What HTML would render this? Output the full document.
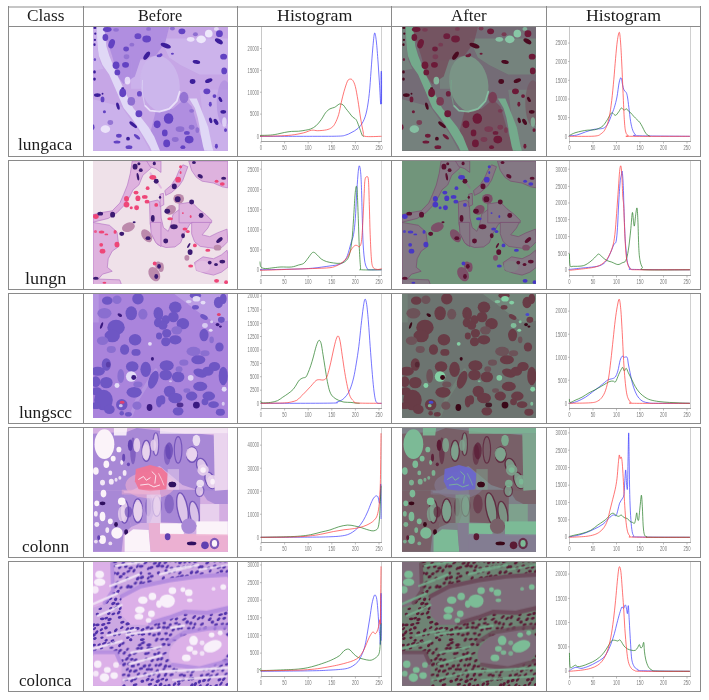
<!DOCTYPE html><html><head><meta charset="utf-8"><style>
*{margin:0;padding:0;box-sizing:border-box}
html,body{width:709px;height:700px;background:#fff;overflow:hidden}
body{position:relative;font-family:"Liberation Serif",serif;color:#1c1c1c}
.t{position:absolute;font-size:17px;line-height:1;white-space:nowrap;text-align:center}
.w{position:absolute;font-size:16.3px;line-height:1;white-space:nowrap;transform-origin:0 0}
svg{position:absolute;overflow:visible}
</style></head><body>
<svg width="709" height="700" viewBox="0 0 709 700" style="position:absolute;left:0;top:0;opacity:0.999"><g font-family="Liberation Sans, sans-serif" font-size="6.6" fill="#7a7a7a"><line x1="261.5" y1="27" x2="261.5" y2="141.5" stroke="#c8c8c8" stroke-width="1"/>
<line x1="381.5" y1="27" x2="381.5" y2="141.5" stroke="#d0d0d0" stroke-width="1"/>
<line x1="261.0" y1="141.5" x2="382.0" y2="141.5" stroke="#a0a0a0" stroke-width="1"/>
<line x1="261.00" y1="141.5" x2="261.00" y2="143.5" stroke="#909090" stroke-width="0.6"/>
<text x="259.85" y="149.90" textLength="2.30" lengthAdjust="spacingAndGlyphs">0</text>
<line x1="284.60" y1="141.5" x2="284.60" y2="143.5" stroke="#909090" stroke-width="0.6"/>
<text x="282.30" y="149.90" textLength="4.60" lengthAdjust="spacingAndGlyphs">50</text>
<line x1="308.20" y1="141.5" x2="308.20" y2="143.5" stroke="#909090" stroke-width="0.6"/>
<text x="304.75" y="149.90" textLength="6.90" lengthAdjust="spacingAndGlyphs">100</text>
<line x1="331.80" y1="141.5" x2="331.80" y2="143.5" stroke="#909090" stroke-width="0.6"/>
<text x="328.35" y="149.90" textLength="6.90" lengthAdjust="spacingAndGlyphs">150</text>
<line x1="355.40" y1="141.5" x2="355.40" y2="143.5" stroke="#909090" stroke-width="0.6"/>
<text x="351.95" y="149.90" textLength="6.90" lengthAdjust="spacingAndGlyphs">200</text>
<line x1="379.00" y1="141.5" x2="379.00" y2="143.5" stroke="#909090" stroke-width="0.6"/>
<text x="375.55" y="149.90" textLength="6.90" lengthAdjust="spacingAndGlyphs">250</text>
<line x1="260.0" y1="48.51" x2="261.5" y2="48.51" stroke="#909090" stroke-width="0.6"/>
<text x="247.60" y="50.81" textLength="11.50" lengthAdjust="spacingAndGlyphs">20000</text>
<line x1="260.0" y1="70.37" x2="261.5" y2="70.37" stroke="#909090" stroke-width="0.6"/>
<text x="247.60" y="72.67" textLength="11.50" lengthAdjust="spacingAndGlyphs">15000</text>
<line x1="260.0" y1="92.24" x2="261.5" y2="92.24" stroke="#909090" stroke-width="0.6"/>
<text x="247.60" y="94.54" textLength="11.50" lengthAdjust="spacingAndGlyphs">10000</text>
<line x1="260.0" y1="114.10" x2="261.5" y2="114.10" stroke="#909090" stroke-width="0.6"/>
<text x="249.90" y="116.40" textLength="9.20" lengthAdjust="spacingAndGlyphs">5000</text>
<line x1="260.0" y1="136.31" x2="261.5" y2="136.31" stroke="#909090" stroke-width="0.6"/>
<text x="256.80" y="138.61" textLength="2.30" lengthAdjust="spacingAndGlyphs">0</text>
<path d="M260.00,136.31 C268.74,136.31 299.35,136.34 312.47,136.31 C325.59,136.28 333.16,136.34 338.70,136.13 C344.24,135.93 343.66,135.64 345.70,135.08 C347.74,134.53 348.90,133.92 350.94,132.81 C352.99,131.70 355.90,130.33 357.94,128.44 C359.98,126.54 361.73,124.36 363.19,121.44 C364.65,118.53 365.67,115.61 366.69,110.95 C367.71,106.29 368.58,100.16 369.31,93.46 C370.04,86.76 370.47,78.30 371.06,70.72 C371.64,63.14 372.22,54.25 372.81,47.99 C373.39,41.72 373.97,34.29 374.56,33.12 C375.14,31.96 375.72,36.18 376.30,40.99 C376.89,45.80 377.53,54.98 378.05,61.98 C378.58,68.97 379.02,75.97 379.45,82.97 C379.89,89.96 380.41,102.20 380.68,103.95 C380.94,105.70 380.97,98.42 381.03,93.46 C381.09,88.50 380.94,77.43 381.03,74.22 C381.11,71.02 381.46,69.27 381.55,74.22 C381.64,79.18 381.55,99.00 381.55,103.95" fill="none" stroke="#3a3aff" stroke-width="0.7" stroke-linejoin="round"/>
<path d="M260.00,135.43 C261.75,135.38 267.58,135.32 270.49,135.08 C273.41,134.85 275.16,134.47 277.49,134.04 C279.82,133.60 282.15,132.90 284.49,132.46 C286.82,132.02 289.15,131.62 291.48,131.41 C293.81,131.21 296.14,131.44 298.48,131.24 C300.81,131.03 303.43,130.57 305.47,130.19 C307.51,129.81 308.97,129.69 310.72,128.96 C312.47,128.23 314.22,127.36 315.97,125.82 C317.72,124.27 319.61,121.88 321.21,119.69 C322.82,117.51 324.13,114.51 325.59,112.70 C327.04,110.89 328.50,109.72 329.96,108.85 C331.42,107.98 333.16,107.98 334.33,107.45 C335.50,106.93 336.08,106.29 336.95,105.70 C337.83,105.12 338.56,104.10 339.58,103.95 C340.60,103.81 342.05,104.10 343.07,104.83 C344.09,105.56 344.68,107.01 345.70,108.33 C346.72,109.64 348.03,111.24 349.20,112.70 C350.36,114.16 351.67,116.05 352.69,117.07 C353.71,118.09 354.59,118.09 355.32,118.82 C356.05,119.55 356.34,119.84 357.07,121.44 C357.80,123.05 358.82,126.11 359.69,128.44 C360.56,130.77 361.58,134.12 362.31,135.43 C363.04,136.75 363.77,136.16 364.06,136.31" fill="none" stroke="#217a21" stroke-width="0.7" stroke-linejoin="round"/>
<path d="M260.00,136.31 C262.91,136.25 272.24,136.16 277.49,135.96 C282.74,135.76 287.11,135.61 291.48,135.08 C295.85,134.56 300.37,133.63 303.72,132.81 C307.08,131.99 309.26,130.54 311.59,130.19 C313.93,129.84 315.24,130.77 317.72,130.71 C320.19,130.65 324.13,130.36 326.46,129.84 C328.79,129.31 330.25,128.67 331.71,127.56 C333.16,126.46 334.04,125.38 335.20,123.19 C336.37,121.01 337.68,117.94 338.70,114.45 C339.72,110.95 340.45,105.99 341.33,102.20 C342.20,98.42 342.93,95.21 343.95,91.71 C344.97,88.21 346.43,83.32 347.45,81.22 C348.47,79.12 349.20,79.26 350.07,79.12 C350.94,78.97 351.82,79.12 352.69,80.34 C353.57,81.57 354.44,83.11 355.32,86.46 C356.19,89.82 357.07,95.21 357.94,100.46 C358.82,105.70 359.69,112.70 360.56,117.94 C361.44,123.19 362.46,128.88 363.19,131.94 C363.92,135.00 361.88,135.58 364.94,136.31 C368.00,137.04 378.78,136.31 381.55,136.31" fill="none" stroke="#ff3a3a" stroke-width="0.7" stroke-linejoin="round"/>
<line x1="569.5" y1="27" x2="569.5" y2="141.5" stroke="#c8c8c8" stroke-width="1"/>
<line x1="690.5" y1="27" x2="690.5" y2="141.5" stroke="#d0d0d0" stroke-width="1"/>
<line x1="569.0" y1="141.5" x2="691.0" y2="141.5" stroke="#a0a0a0" stroke-width="1"/>
<line x1="569.50" y1="141.5" x2="569.50" y2="143.5" stroke="#909090" stroke-width="0.6"/>
<text x="568.35" y="149.90" textLength="2.30" lengthAdjust="spacingAndGlyphs">0</text>
<line x1="593.00" y1="141.5" x2="593.00" y2="143.5" stroke="#909090" stroke-width="0.6"/>
<text x="590.70" y="149.90" textLength="4.60" lengthAdjust="spacingAndGlyphs">50</text>
<line x1="616.50" y1="141.5" x2="616.50" y2="143.5" stroke="#909090" stroke-width="0.6"/>
<text x="613.05" y="149.90" textLength="6.90" lengthAdjust="spacingAndGlyphs">100</text>
<line x1="640.00" y1="141.5" x2="640.00" y2="143.5" stroke="#909090" stroke-width="0.6"/>
<text x="636.55" y="149.90" textLength="6.90" lengthAdjust="spacingAndGlyphs">150</text>
<line x1="663.50" y1="141.5" x2="663.50" y2="143.5" stroke="#909090" stroke-width="0.6"/>
<text x="660.05" y="149.90" textLength="6.90" lengthAdjust="spacingAndGlyphs">200</text>
<line x1="687.00" y1="141.5" x2="687.00" y2="143.5" stroke="#909090" stroke-width="0.6"/>
<text x="683.55" y="149.90" textLength="6.90" lengthAdjust="spacingAndGlyphs">250</text>
<line x1="568.0" y1="43.09" x2="569.5" y2="43.09" stroke="#909090" stroke-width="0.6"/>
<text x="555.60" y="45.39" textLength="11.50" lengthAdjust="spacingAndGlyphs">25000</text>
<line x1="568.0" y1="61.45" x2="569.5" y2="61.45" stroke="#909090" stroke-width="0.6"/>
<text x="555.60" y="63.75" textLength="11.50" lengthAdjust="spacingAndGlyphs">20000</text>
<line x1="568.0" y1="80.34" x2="569.5" y2="80.34" stroke="#909090" stroke-width="0.6"/>
<text x="555.60" y="82.64" textLength="11.50" lengthAdjust="spacingAndGlyphs">15000</text>
<line x1="568.0" y1="99.06" x2="569.5" y2="99.06" stroke="#909090" stroke-width="0.6"/>
<text x="555.60" y="101.36" textLength="11.50" lengthAdjust="spacingAndGlyphs">10000</text>
<line x1="568.0" y1="117.60" x2="569.5" y2="117.60" stroke="#909090" stroke-width="0.6"/>
<text x="557.90" y="119.90" textLength="9.20" lengthAdjust="spacingAndGlyphs">5000</text>
<line x1="568.0" y1="136.31" x2="569.5" y2="136.31" stroke="#909090" stroke-width="0.6"/>
<text x="564.80" y="138.61" textLength="2.30" lengthAdjust="spacingAndGlyphs">0</text>
<path d="M569.40,135.78 C570.62,135.67 574.06,135.73 576.74,135.08 C579.43,134.44 582.57,132.90 585.49,131.94 C588.40,130.97 591.76,129.84 594.23,129.31 C596.71,128.79 598.61,129.08 600.36,128.79 C602.10,128.50 603.42,128.50 604.73,127.56 C606.04,126.63 607.06,125.38 608.23,123.19 C609.39,121.01 610.70,117.07 611.72,114.45 C612.74,111.82 613.47,110.37 614.35,107.45 C615.22,104.54 616.18,101.04 616.97,96.96 C617.76,92.88 618.40,86.17 619.07,82.97 C619.74,79.76 620.41,77.43 620.99,77.72 C621.58,78.01 622.07,82.67 622.57,84.72 C623.06,86.76 623.35,88.65 623.97,89.96 C624.58,91.27 625.66,91.42 626.24,92.59 C626.82,93.75 627.03,94.48 627.46,96.96 C627.90,99.44 628.34,103.37 628.86,107.45 C629.39,111.53 629.97,117.65 630.61,121.44 C631.25,125.23 631.92,128.00 632.71,130.19 C633.50,132.37 634.46,133.63 635.33,134.56 C636.21,135.49 628.86,135.49 637.96,135.78 C647.05,136.08 681.24,136.22 689.90,136.31" fill="none" stroke="#3a3aff" stroke-width="0.7" stroke-linejoin="round"/>
<path d="M569.40,135.43 C570.33,135.00 572.90,133.54 575.00,132.81 C577.09,132.08 579.95,131.50 581.99,131.06 C584.03,130.62 585.20,130.39 587.24,130.19 C589.28,129.98 592.34,130.13 594.23,129.84 C596.13,129.55 597.15,129.11 598.61,128.44 C600.06,127.77 601.52,127.27 602.98,125.82 C604.44,124.36 606.04,121.73 607.35,119.69 C608.66,117.65 609.97,114.68 610.85,113.57 C611.72,112.46 611.81,112.76 612.60,113.05 C613.39,113.34 614.55,115.53 615.57,115.32 C616.59,115.12 617.76,113.05 618.72,111.82 C619.68,110.60 620.47,108.27 621.34,107.98 C622.22,107.68 623.09,109.93 623.97,110.07 C624.84,110.22 625.86,108.70 626.59,108.85 C627.32,109.00 627.61,110.25 628.34,110.95 C629.07,111.65 630.09,112.17 630.96,113.05 C631.84,113.92 632.57,115.09 633.59,116.20 C634.61,117.30 636.06,118.67 637.08,119.69 C638.10,120.71 638.83,121.15 639.71,122.32 C640.58,123.48 641.46,125.09 642.33,126.69 C643.20,128.29 644.08,130.54 644.95,131.94 C645.83,133.34 646.70,134.36 647.58,135.08 C648.45,135.81 649.76,136.10 650.20,136.31" fill="none" stroke="#217a21" stroke-width="0.7" stroke-linejoin="round"/>
<path d="M569.40,136.31 C573.54,136.28 588.93,136.57 594.23,136.13 C599.54,135.70 599.34,134.97 601.23,133.69 C603.12,132.40 604.29,131.06 605.60,128.44 C606.91,125.82 608.08,122.61 609.10,117.94 C610.12,113.28 610.94,106.87 611.72,100.46 C612.51,94.04 613.18,86.46 613.82,79.47 C614.46,72.47 614.99,64.89 615.57,58.48 C616.15,52.07 616.71,45.36 617.32,40.99 C617.93,36.62 618.72,32.25 619.24,32.25 C619.77,32.25 620.06,36.04 620.47,40.99 C620.88,45.95 621.26,53.23 621.69,61.98 C622.13,70.72 622.65,83.84 623.09,93.46 C623.53,103.08 623.88,113.28 624.32,119.69 C624.75,126.11 625.04,129.25 625.72,131.94 C626.39,134.62 627.46,135.06 628.34,135.78 C629.21,136.51 620.70,136.22 630.96,136.31 C641.22,136.40 680.08,136.31 689.90,136.31" fill="none" stroke="#ff3a3a" stroke-width="0.7" stroke-linejoin="round"/>
<line x1="261.5" y1="161" x2="261.5" y2="275.5" stroke="#c8c8c8" stroke-width="1"/>
<line x1="381.5" y1="161" x2="381.5" y2="275.5" stroke="#d0d0d0" stroke-width="1"/>
<line x1="261.0" y1="275.5" x2="382.0" y2="275.5" stroke="#a0a0a0" stroke-width="1"/>
<line x1="261.00" y1="275.5" x2="261.00" y2="277.5" stroke="#909090" stroke-width="0.6"/>
<text x="259.85" y="283.90" textLength="2.30" lengthAdjust="spacingAndGlyphs">0</text>
<line x1="284.60" y1="275.5" x2="284.60" y2="277.5" stroke="#909090" stroke-width="0.6"/>
<text x="282.30" y="283.90" textLength="4.60" lengthAdjust="spacingAndGlyphs">50</text>
<line x1="308.20" y1="275.5" x2="308.20" y2="277.5" stroke="#909090" stroke-width="0.6"/>
<text x="304.75" y="283.90" textLength="6.90" lengthAdjust="spacingAndGlyphs">100</text>
<line x1="331.80" y1="275.5" x2="331.80" y2="277.5" stroke="#909090" stroke-width="0.6"/>
<text x="328.35" y="283.90" textLength="6.90" lengthAdjust="spacingAndGlyphs">150</text>
<line x1="355.40" y1="275.5" x2="355.40" y2="277.5" stroke="#909090" stroke-width="0.6"/>
<text x="351.95" y="283.90" textLength="6.90" lengthAdjust="spacingAndGlyphs">200</text>
<line x1="379.00" y1="275.5" x2="379.00" y2="277.5" stroke="#909090" stroke-width="0.6"/>
<text x="375.55" y="283.90" textLength="6.90" lengthAdjust="spacingAndGlyphs">250</text>
<line x1="260.0" y1="169.22" x2="261.5" y2="169.22" stroke="#909090" stroke-width="0.6"/>
<text x="247.60" y="171.52" textLength="11.50" lengthAdjust="spacingAndGlyphs">25000</text>
<line x1="260.0" y1="189.51" x2="261.5" y2="189.51" stroke="#909090" stroke-width="0.6"/>
<text x="247.60" y="191.81" textLength="11.50" lengthAdjust="spacingAndGlyphs">20000</text>
<line x1="260.0" y1="209.62" x2="261.5" y2="209.62" stroke="#909090" stroke-width="0.6"/>
<text x="247.60" y="211.92" textLength="11.50" lengthAdjust="spacingAndGlyphs">15000</text>
<line x1="260.0" y1="229.73" x2="261.5" y2="229.73" stroke="#909090" stroke-width="0.6"/>
<text x="247.60" y="232.03" textLength="11.50" lengthAdjust="spacingAndGlyphs">10000</text>
<line x1="260.0" y1="249.85" x2="261.5" y2="249.85" stroke="#909090" stroke-width="0.6"/>
<text x="249.90" y="252.15" textLength="9.20" lengthAdjust="spacingAndGlyphs">5000</text>
<line x1="260.0" y1="269.43" x2="261.5" y2="269.43" stroke="#909090" stroke-width="0.6"/>
<text x="256.80" y="271.73" textLength="2.30" lengthAdjust="spacingAndGlyphs">0</text>
<path d="M260.00,269.78 C265.83,269.67 286.23,269.35 294.98,269.08 C303.72,268.82 306.64,268.73 312.47,268.21 C318.30,267.69 325.59,266.55 329.96,265.94 C334.33,265.32 336.37,265.27 338.70,264.54 C341.03,263.81 342.49,263.08 343.95,261.56 C345.41,260.05 346.28,258.50 347.45,255.44 C348.61,252.38 349.92,246.70 350.94,243.20 C351.97,239.70 352.84,238.54 353.57,234.46 C354.30,230.37 354.82,225.13 355.32,218.72 C355.81,212.30 356.10,203.27 356.54,195.98 C356.98,188.69 357.50,180.01 357.94,174.99 C358.38,169.98 358.73,166.48 359.17,165.90 C359.60,165.31 360.19,167.94 360.56,171.49 C360.94,175.05 361.15,179.36 361.44,187.23 C361.73,195.10 362.02,209.10 362.31,218.72 C362.60,228.33 362.75,237.66 363.19,244.95 C363.62,252.24 364.21,258.42 364.94,262.44 C365.67,266.46 366.83,267.86 367.56,269.08 C368.29,270.31 366.98,269.67 369.31,269.78 C371.64,269.90 379.51,269.78 381.55,269.78" fill="none" stroke="#3a3aff" stroke-width="0.7" stroke-linejoin="round"/>
<path d="M260.00,261.56 C260.15,262.44 260.00,265.65 260.87,266.81 C261.75,267.98 263.06,268.41 265.25,268.56 C267.43,268.71 271.37,267.95 273.99,267.69 C276.61,267.42 278.07,267.10 280.99,266.99 C283.90,266.87 288.57,267.31 291.48,266.99 C294.40,266.67 296.44,265.67 298.48,265.06 C300.52,264.45 302.12,264.48 303.72,263.31 C305.33,262.15 306.78,259.73 308.10,258.07 C309.41,256.40 310.63,254.31 311.59,253.34 C312.56,252.38 312.99,252.09 313.87,252.29 C314.74,252.50 315.62,253.46 316.84,254.57 C318.06,255.68 319.61,257.77 321.21,258.94 C322.82,260.11 324.42,260.89 326.46,261.56 C328.50,262.23 331.12,262.67 333.46,262.96 C335.79,263.25 338.41,263.63 340.45,263.31 C342.49,262.99 344.24,262.35 345.70,261.04 C347.16,259.73 348.18,258.71 349.20,255.44 C350.22,252.18 351.09,247.57 351.82,241.45 C352.55,235.33 353.04,226.29 353.57,218.72 C354.09,211.14 354.53,201.37 354.97,195.98 C355.40,190.59 355.81,186.94 356.19,186.36 C356.57,185.78 356.89,187.09 357.24,192.48 C357.59,197.87 357.94,209.39 358.29,218.72 C358.64,228.04 358.96,240.29 359.34,248.45 C359.72,256.61 360.21,264.13 360.56,267.69 C360.91,271.24 357.94,269.43 361.44,269.78 C364.94,270.13 378.20,269.78 381.55,269.78" fill="none" stroke="#217a21" stroke-width="0.7" stroke-linejoin="round"/>
<path d="M260.00,270.31 C262.91,270.22 271.66,269.99 277.49,269.78 C283.32,269.58 289.15,269.29 294.98,269.08 C300.81,268.88 306.64,268.79 312.47,268.56 C318.30,268.33 325.88,268.18 329.96,267.69 C334.04,267.19 334.91,266.46 336.95,265.59 C338.99,264.71 340.45,263.84 342.20,262.44 C343.95,261.04 345.99,259.23 347.45,257.19 C348.90,255.15 349.78,252.09 350.94,250.20 C352.11,248.30 353.42,246.61 354.44,245.82 C355.46,245.04 356.25,245.33 357.07,245.47 C357.88,245.62 358.61,247.37 359.34,246.70 C360.07,246.03 360.86,245.53 361.44,241.45 C362.02,237.37 362.40,229.79 362.84,222.21 C363.28,214.63 363.71,202.97 364.06,195.98 C364.41,188.98 364.50,183.44 364.94,180.24 C365.37,177.03 366.10,176.74 366.69,176.74 C367.27,176.74 368.00,175.57 368.43,180.24 C368.87,184.90 369.02,195.69 369.31,204.72 C369.60,213.76 369.83,225.42 370.18,234.46 C370.53,243.49 370.97,253.55 371.41,258.94 C371.84,264.33 372.14,265.12 372.81,266.81 C373.48,268.50 374.41,268.65 375.43,269.08 C376.45,269.52 377.91,269.52 378.93,269.43 C379.95,269.35 381.11,268.71 381.55,268.56" fill="none" stroke="#ff3a3a" stroke-width="0.7" stroke-linejoin="round"/>
<line x1="569.5" y1="161" x2="569.5" y2="275.5" stroke="#c8c8c8" stroke-width="1"/>
<line x1="690.5" y1="161" x2="690.5" y2="275.5" stroke="#d0d0d0" stroke-width="1"/>
<line x1="569.0" y1="275.5" x2="691.0" y2="275.5" stroke="#a0a0a0" stroke-width="1"/>
<line x1="569.50" y1="275.5" x2="569.50" y2="277.5" stroke="#909090" stroke-width="0.6"/>
<text x="568.35" y="283.90" textLength="2.30" lengthAdjust="spacingAndGlyphs">0</text>
<line x1="593.00" y1="275.5" x2="593.00" y2="277.5" stroke="#909090" stroke-width="0.6"/>
<text x="590.70" y="283.90" textLength="4.60" lengthAdjust="spacingAndGlyphs">50</text>
<line x1="616.50" y1="275.5" x2="616.50" y2="277.5" stroke="#909090" stroke-width="0.6"/>
<text x="613.05" y="283.90" textLength="6.90" lengthAdjust="spacingAndGlyphs">100</text>
<line x1="640.00" y1="275.5" x2="640.00" y2="277.5" stroke="#909090" stroke-width="0.6"/>
<text x="636.55" y="283.90" textLength="6.90" lengthAdjust="spacingAndGlyphs">150</text>
<line x1="663.50" y1="275.5" x2="663.50" y2="277.5" stroke="#909090" stroke-width="0.6"/>
<text x="660.05" y="283.90" textLength="6.90" lengthAdjust="spacingAndGlyphs">200</text>
<line x1="687.00" y1="275.5" x2="687.00" y2="277.5" stroke="#909090" stroke-width="0.6"/>
<text x="683.55" y="283.90" textLength="6.90" lengthAdjust="spacingAndGlyphs">250</text>
<line x1="568.0" y1="169.22" x2="569.5" y2="169.22" stroke="#909090" stroke-width="0.6"/>
<text x="555.60" y="171.52" textLength="11.50" lengthAdjust="spacingAndGlyphs">30000</text>
<line x1="568.0" y1="186.36" x2="569.5" y2="186.36" stroke="#909090" stroke-width="0.6"/>
<text x="555.60" y="188.66" textLength="11.50" lengthAdjust="spacingAndGlyphs">25000</text>
<line x1="568.0" y1="202.97" x2="569.5" y2="202.97" stroke="#909090" stroke-width="0.6"/>
<text x="555.60" y="205.27" textLength="11.50" lengthAdjust="spacingAndGlyphs">20000</text>
<line x1="568.0" y1="219.59" x2="569.5" y2="219.59" stroke="#909090" stroke-width="0.6"/>
<text x="555.60" y="221.89" textLength="11.50" lengthAdjust="spacingAndGlyphs">15000</text>
<line x1="568.0" y1="236.55" x2="569.5" y2="236.55" stroke="#909090" stroke-width="0.6"/>
<text x="555.60" y="238.85" textLength="11.50" lengthAdjust="spacingAndGlyphs">10000</text>
<line x1="568.0" y1="253.34" x2="569.5" y2="253.34" stroke="#909090" stroke-width="0.6"/>
<text x="557.90" y="255.64" textLength="9.20" lengthAdjust="spacingAndGlyphs">5000</text>
<line x1="568.0" y1="269.78" x2="569.5" y2="269.78" stroke="#909090" stroke-width="0.6"/>
<text x="564.80" y="272.08" textLength="2.30" lengthAdjust="spacingAndGlyphs">0</text>
<path d="M569.40,269.43 C571.50,269.20 577.85,268.47 581.99,268.04 C586.13,267.60 591.03,267.31 594.23,266.81 C597.44,266.32 599.19,266.08 601.23,265.06 C603.27,264.04 604.87,262.88 606.48,260.69 C608.08,258.50 609.62,254.63 610.85,251.94 C612.07,249.26 612.95,246.35 613.82,244.60 C614.70,242.85 615.48,244.31 616.10,241.45 C616.71,238.59 617.06,233.87 617.50,227.46 C617.93,221.05 618.28,210.55 618.72,202.97 C619.16,195.40 619.68,186.65 620.12,181.99 C620.56,177.32 620.99,176.74 621.34,174.99 C621.69,173.24 621.90,169.74 622.22,171.49 C622.54,173.24 622.98,179.36 623.27,185.49 C623.56,191.61 623.67,199.77 623.97,208.22 C624.26,216.67 624.64,228.92 625.02,236.20 C625.39,243.49 625.83,247.57 626.24,251.94 C626.65,256.32 626.82,259.76 627.46,262.44 C628.11,265.12 628.92,266.87 630.09,268.04 C631.25,269.20 624.49,269.14 634.46,269.43 C644.43,269.73 680.66,269.73 689.90,269.78" fill="none" stroke="#3a3aff" stroke-width="0.7" stroke-linejoin="round"/>
<path d="M569.40,253.69 C569.52,255.68 569.46,263.49 570.10,265.59 C570.74,267.69 571.26,266.23 573.25,266.29 C575.23,266.34 579.66,266.34 581.99,265.94 C584.32,265.53 585.49,264.86 587.24,263.84 C588.99,262.82 591.03,261.07 592.49,259.82 C593.94,258.56 594.96,257.28 595.98,256.32 C597.00,255.36 597.59,253.96 598.61,254.04 C599.63,254.13 600.79,255.79 602.10,256.84 C603.42,257.89 604.87,259.47 606.48,260.34 C608.08,261.21 609.83,261.39 611.72,262.09 C613.62,262.79 616.10,264.42 617.84,264.54 C619.59,264.65 620.91,263.43 622.22,262.79 C623.53,262.15 624.69,262.79 625.72,260.69 C626.74,258.59 627.52,255.15 628.34,250.20 C629.15,245.24 629.94,237.22 630.61,230.96 C631.28,224.69 631.87,214.05 632.36,212.59 C632.86,211.14 633.24,220.03 633.59,222.21 C633.94,224.40 634.08,227.17 634.46,225.71 C634.84,224.25 635.42,216.38 635.86,213.47 C636.30,210.55 636.73,206.76 637.08,208.22 C637.43,209.68 637.67,215.51 637.96,222.21 C638.25,228.92 638.48,242.03 638.83,248.45 C639.18,254.86 639.47,257.54 640.06,260.69 C640.64,263.84 641.51,265.82 642.33,267.34 C643.15,268.85 637.02,269.38 644.95,269.78 C652.88,270.19 682.41,269.78 689.90,269.78" fill="none" stroke="#217a21" stroke-width="0.7" stroke-linejoin="round"/>
<path d="M569.40,270.31 C572.08,270.02 581.06,269.14 585.49,268.56 C589.92,267.98 593.07,267.69 595.98,266.81 C598.90,265.94 600.94,264.92 602.98,263.31 C605.02,261.71 606.62,259.96 608.23,257.19 C609.83,254.42 611.49,250.49 612.60,246.70 C613.71,242.91 614.20,239.99 614.87,234.46 C615.54,228.92 616.04,221.05 616.62,213.47 C617.20,205.89 617.87,195.98 618.37,188.98 C618.87,181.99 619.19,175.34 619.59,171.49 C620.00,167.65 620.44,165.31 620.82,165.90 C621.20,166.48 621.55,169.98 621.87,174.99 C622.19,180.01 622.45,191.02 622.74,195.98 C623.03,200.93 623.35,200.35 623.62,204.72 C623.88,209.10 624.02,215.51 624.32,222.21 C624.61,228.92 624.99,238.83 625.37,244.95 C625.74,251.07 626.09,255.44 626.59,258.94 C627.09,262.44 627.61,264.25 628.34,265.94 C629.07,267.63 629.36,268.44 630.96,269.08 C632.57,269.73 628.13,269.67 637.96,269.78 C647.78,269.90 681.24,269.78 689.90,269.78" fill="none" stroke="#ff3a3a" stroke-width="0.7" stroke-linejoin="round"/>
<line x1="261.5" y1="294" x2="261.5" y2="408.5" stroke="#c8c8c8" stroke-width="1"/>
<line x1="381.5" y1="294" x2="381.5" y2="408.5" stroke="#d0d0d0" stroke-width="1"/>
<line x1="261.0" y1="408.5" x2="382.0" y2="408.5" stroke="#a0a0a0" stroke-width="1"/>
<line x1="261.00" y1="408.5" x2="261.00" y2="410.5" stroke="#909090" stroke-width="0.6"/>
<text x="259.85" y="416.90" textLength="2.30" lengthAdjust="spacingAndGlyphs">0</text>
<line x1="284.60" y1="408.5" x2="284.60" y2="410.5" stroke="#909090" stroke-width="0.6"/>
<text x="282.30" y="416.90" textLength="4.60" lengthAdjust="spacingAndGlyphs">50</text>
<line x1="308.20" y1="408.5" x2="308.20" y2="410.5" stroke="#909090" stroke-width="0.6"/>
<text x="304.75" y="416.90" textLength="6.90" lengthAdjust="spacingAndGlyphs">100</text>
<line x1="331.80" y1="408.5" x2="331.80" y2="410.5" stroke="#909090" stroke-width="0.6"/>
<text x="328.35" y="416.90" textLength="6.90" lengthAdjust="spacingAndGlyphs">150</text>
<line x1="355.40" y1="408.5" x2="355.40" y2="410.5" stroke="#909090" stroke-width="0.6"/>
<text x="351.95" y="416.90" textLength="6.90" lengthAdjust="spacingAndGlyphs">200</text>
<line x1="379.00" y1="408.5" x2="379.00" y2="410.5" stroke="#909090" stroke-width="0.6"/>
<text x="375.55" y="416.90" textLength="6.90" lengthAdjust="spacingAndGlyphs">250</text>
<line x1="260.0" y1="296.10" x2="261.5" y2="296.10" stroke="#909090" stroke-width="0.6"/>
<text x="247.60" y="298.40" textLength="11.50" lengthAdjust="spacingAndGlyphs">20000</text>
<line x1="260.0" y1="309.74" x2="261.5" y2="309.74" stroke="#909090" stroke-width="0.6"/>
<text x="247.60" y="312.04" textLength="11.50" lengthAdjust="spacingAndGlyphs">17500</text>
<line x1="260.0" y1="323.38" x2="261.5" y2="323.38" stroke="#909090" stroke-width="0.6"/>
<text x="247.60" y="325.68" textLength="11.50" lengthAdjust="spacingAndGlyphs">15000</text>
<line x1="260.0" y1="336.50" x2="261.5" y2="336.50" stroke="#909090" stroke-width="0.6"/>
<text x="247.60" y="338.80" textLength="11.50" lengthAdjust="spacingAndGlyphs">12500</text>
<line x1="260.0" y1="349.97" x2="261.5" y2="349.97" stroke="#909090" stroke-width="0.6"/>
<text x="247.60" y="352.27" textLength="11.50" lengthAdjust="spacingAndGlyphs">10000</text>
<line x1="260.0" y1="363.43" x2="261.5" y2="363.43" stroke="#909090" stroke-width="0.6"/>
<text x="249.90" y="365.73" textLength="9.20" lengthAdjust="spacingAndGlyphs">7500</text>
<line x1="260.0" y1="376.72" x2="261.5" y2="376.72" stroke="#909090" stroke-width="0.6"/>
<text x="249.90" y="379.02" textLength="9.20" lengthAdjust="spacingAndGlyphs">5000</text>
<line x1="260.0" y1="390.19" x2="261.5" y2="390.19" stroke="#909090" stroke-width="0.6"/>
<text x="249.90" y="392.49" textLength="9.20" lengthAdjust="spacingAndGlyphs">2500</text>
<line x1="260.0" y1="403.31" x2="261.5" y2="403.31" stroke="#909090" stroke-width="0.6"/>
<text x="256.80" y="405.61" textLength="2.30" lengthAdjust="spacingAndGlyphs">0</text>
<path d="M260.87,403.31 C272.39,403.28 317.28,403.34 329.96,403.13 C342.64,402.93 334.91,402.64 336.95,402.08 C338.99,401.53 340.60,400.92 342.20,399.81 C343.80,398.70 345.26,397.19 346.57,395.44 C347.88,393.69 348.90,392.23 350.07,389.32 C351.24,386.40 352.55,382.18 353.57,377.95 C354.59,373.72 355.32,369.20 356.19,363.96 C357.07,358.71 358.00,352.88 358.82,346.47 C359.63,340.06 360.36,331.89 361.09,325.48 C361.82,319.07 362.55,312.36 363.19,307.99 C363.83,303.62 364.35,299.83 364.94,299.25 C365.52,298.66 366.10,300.70 366.69,304.49 C367.27,308.28 367.85,314.99 368.43,321.98 C369.02,328.98 369.60,338.60 370.18,346.47 C370.77,354.34 371.35,362.21 371.93,369.20 C372.52,376.20 373.10,383.34 373.68,388.44 C374.26,393.54 374.79,397.36 375.43,399.81 C376.07,402.26 376.51,402.55 377.53,403.13 C378.55,403.72 380.88,403.28 381.55,403.31" fill="none" stroke="#3a3aff" stroke-width="0.7" stroke-linejoin="round"/>
<path d="M260.87,400.69 C261.02,401.04 260.15,402.49 261.75,402.78 C263.35,403.08 267.87,402.78 270.49,402.43 C273.12,402.08 275.45,401.56 277.49,400.69 C279.53,399.81 280.99,398.35 282.74,397.19 C284.49,396.02 286.23,395.00 287.98,393.69 C289.73,392.38 291.77,390.92 293.23,389.32 C294.69,387.71 295.71,385.62 296.73,384.07 C297.75,382.53 298.33,381.07 299.35,380.05 C300.37,379.03 301.77,378.44 302.85,377.95 C303.93,377.45 304.95,377.95 305.82,377.07 C306.70,376.20 307.28,374.60 308.10,372.70 C308.91,370.81 309.84,368.33 310.72,365.71 C311.59,363.08 312.53,359.88 313.34,356.96 C314.16,354.05 314.89,350.69 315.62,348.22 C316.35,345.74 317.07,343.41 317.72,342.10 C318.36,340.78 318.88,340.06 319.46,340.35 C320.05,340.64 320.63,341.51 321.21,343.84 C321.80,346.18 322.32,350.40 322.96,354.34 C323.60,358.27 324.33,362.94 325.06,367.46 C325.79,371.97 326.52,377.37 327.33,381.45 C328.15,385.53 328.94,389.32 329.96,391.94 C330.98,394.56 332.00,395.79 333.46,397.19 C334.91,398.59 336.95,399.52 338.70,400.34 C340.45,401.15 341.91,401.73 343.95,402.08 C345.99,402.43 348.90,402.26 350.94,402.43 C352.99,402.61 354.73,402.99 356.19,403.13 C357.65,403.28 359.11,403.28 359.69,403.31" fill="none" stroke="#217a21" stroke-width="0.7" stroke-linejoin="round"/>
<path d="M260.87,403.31 C263.64,403.28 273.26,403.22 277.49,403.13 C281.72,403.05 283.90,402.99 286.23,402.78 C288.57,402.58 289.73,402.32 291.48,401.91 C293.23,401.50 295.27,401.12 296.73,400.34 C298.19,399.55 298.77,398.59 300.23,397.19 C301.68,395.79 303.72,393.75 305.47,391.94 C307.22,390.13 308.97,388.24 310.72,386.34 C312.47,384.45 314.51,381.68 315.97,380.57 C317.42,379.46 318.30,379.79 319.46,379.70 C320.63,379.61 321.85,380.28 322.96,380.05 C324.07,379.81 325.24,379.52 326.11,378.30 C326.98,377.07 327.42,375.38 328.21,372.70 C329.00,370.02 329.96,366.00 330.83,362.21 C331.71,358.42 332.58,353.76 333.46,349.97 C334.33,346.18 335.29,341.80 336.08,339.47 C336.87,337.14 337.51,335.68 338.18,335.97 C338.85,336.27 339.43,338.02 340.10,341.22 C340.77,344.43 341.41,349.97 342.20,355.21 C342.99,360.46 343.95,367.46 344.82,372.70 C345.70,377.95 346.57,382.76 347.45,386.69 C348.32,390.63 349.05,393.92 350.07,396.31 C351.09,398.70 352.40,399.93 353.57,401.04 C354.73,402.14 352.40,402.58 357.07,402.96 C361.73,403.34 377.47,403.25 381.55,403.31" fill="none" stroke="#ff3a3a" stroke-width="0.7" stroke-linejoin="round"/>
<line x1="569.5" y1="294" x2="569.5" y2="408.5" stroke="#c8c8c8" stroke-width="1"/>
<line x1="690.5" y1="294" x2="690.5" y2="408.5" stroke="#d0d0d0" stroke-width="1"/>
<line x1="569.0" y1="408.5" x2="691.0" y2="408.5" stroke="#a0a0a0" stroke-width="1"/>
<line x1="569.50" y1="408.5" x2="569.50" y2="410.5" stroke="#909090" stroke-width="0.6"/>
<text x="568.35" y="416.90" textLength="2.30" lengthAdjust="spacingAndGlyphs">0</text>
<line x1="593.00" y1="408.5" x2="593.00" y2="410.5" stroke="#909090" stroke-width="0.6"/>
<text x="590.70" y="416.90" textLength="4.60" lengthAdjust="spacingAndGlyphs">50</text>
<line x1="616.50" y1="408.5" x2="616.50" y2="410.5" stroke="#909090" stroke-width="0.6"/>
<text x="613.05" y="416.90" textLength="6.90" lengthAdjust="spacingAndGlyphs">100</text>
<line x1="640.00" y1="408.5" x2="640.00" y2="410.5" stroke="#909090" stroke-width="0.6"/>
<text x="636.55" y="416.90" textLength="6.90" lengthAdjust="spacingAndGlyphs">150</text>
<line x1="663.50" y1="408.5" x2="663.50" y2="410.5" stroke="#909090" stroke-width="0.6"/>
<text x="660.05" y="416.90" textLength="6.90" lengthAdjust="spacingAndGlyphs">200</text>
<line x1="687.00" y1="408.5" x2="687.00" y2="410.5" stroke="#909090" stroke-width="0.6"/>
<text x="683.55" y="416.90" textLength="6.90" lengthAdjust="spacingAndGlyphs">250</text>
<line x1="568.0" y1="311.14" x2="569.5" y2="311.14" stroke="#909090" stroke-width="0.6"/>
<text x="555.60" y="313.44" textLength="11.50" lengthAdjust="spacingAndGlyphs">20000</text>
<line x1="568.0" y1="334.23" x2="569.5" y2="334.23" stroke="#909090" stroke-width="0.6"/>
<text x="555.60" y="336.53" textLength="11.50" lengthAdjust="spacingAndGlyphs">15000</text>
<line x1="568.0" y1="357.31" x2="569.5" y2="357.31" stroke="#909090" stroke-width="0.6"/>
<text x="555.60" y="359.61" textLength="11.50" lengthAdjust="spacingAndGlyphs">10000</text>
<line x1="568.0" y1="380.22" x2="569.5" y2="380.22" stroke="#909090" stroke-width="0.6"/>
<text x="557.90" y="382.52" textLength="9.20" lengthAdjust="spacingAndGlyphs">5000</text>
<line x1="568.0" y1="403.31" x2="569.5" y2="403.31" stroke="#909090" stroke-width="0.6"/>
<text x="564.80" y="405.61" textLength="2.30" lengthAdjust="spacingAndGlyphs">0</text>
<path d="M569.40,403.31 C570.62,403.02 574.06,402.58 576.74,401.56 C579.43,400.54 582.87,398.79 585.49,397.19 C588.11,395.58 590.15,393.69 592.49,391.94 C594.82,390.19 597.44,388.30 599.48,386.69 C601.52,385.09 603.27,383.49 604.73,382.32 C606.19,381.16 607.06,380.28 608.23,379.70 C609.39,379.12 610.56,379.26 611.72,378.82 C612.89,378.39 614.20,378.39 615.22,377.07 C616.24,375.76 617.03,373.72 617.84,370.95 C618.66,368.18 619.39,362.91 620.12,360.46 C620.85,358.01 621.58,356.79 622.22,356.26 C622.86,355.74 623.15,357.14 623.97,357.31 C624.78,357.49 626.39,356.20 627.11,357.31 C627.84,358.42 627.84,361.39 628.34,363.96 C628.83,366.52 629.42,369.50 630.09,372.70 C630.76,375.91 631.49,379.99 632.36,383.20 C633.24,386.40 634.26,389.46 635.33,391.94 C636.41,394.42 637.52,396.46 638.83,398.06 C640.14,399.67 641.60,400.77 643.20,401.56 C644.81,402.35 646.41,402.49 648.45,402.78 C650.49,403.08 648.54,403.22 655.45,403.31 C662.36,403.40 684.16,403.31 689.90,403.31" fill="none" stroke="#3a3aff" stroke-width="0.7" stroke-linejoin="round"/>
<path d="M569.40,398.94 C569.52,399.52 569.17,402.20 570.10,402.43 C571.03,402.67 573.01,401.21 575.00,400.34 C576.98,399.46 579.66,398.44 581.99,397.19 C584.32,395.93 586.66,394.13 588.99,392.82 C591.32,391.50 593.94,390.40 595.98,389.32 C598.02,388.24 599.48,387.36 601.23,386.34 C602.98,385.32 605.02,384.01 606.48,383.20 C607.93,382.38 608.87,381.80 609.97,381.45 C611.08,381.10 612.19,381.04 613.12,381.10 C614.06,381.16 614.64,382.90 615.57,381.80 C616.50,380.69 617.76,376.55 618.72,374.45 C619.68,372.35 620.67,370.37 621.34,369.20 C622.01,368.04 622.25,367.16 622.74,367.46 C623.24,367.75 623.73,370.81 624.32,370.95 C624.90,371.10 625.57,368.04 626.24,368.33 C626.91,368.62 627.41,370.81 628.34,372.70 C629.27,374.60 630.67,377.37 631.84,379.70 C633.00,382.03 634.02,384.51 635.33,386.69 C636.65,388.88 638.10,391.07 639.71,392.82 C641.31,394.56 643.20,396.02 644.95,397.19 C646.70,398.35 647.87,399.08 650.20,399.81 C652.53,400.54 655.74,401.12 658.94,401.56 C662.15,402.00 665.94,402.20 669.44,402.43 C672.94,402.67 676.52,402.81 679.93,402.96 C683.34,403.10 688.24,403.25 689.90,403.31" fill="none" stroke="#217a21" stroke-width="0.7" stroke-linejoin="round"/>
<path d="M569.40,403.31 C572.96,403.22 586.01,403.16 590.74,402.78 C595.46,402.41 595.84,401.97 597.73,401.04 C599.63,400.10 600.79,398.99 602.10,397.19 C603.42,395.38 604.52,393.40 605.60,390.19 C606.68,386.99 607.70,382.90 608.58,377.95 C609.45,372.99 610.09,366.87 610.85,360.46 C611.61,354.05 612.39,346.18 613.12,339.47 C613.85,332.77 614.52,325.77 615.22,320.23 C615.92,314.70 616.65,309.74 617.32,306.24 C617.99,302.74 618.66,298.66 619.24,299.25 C619.83,299.83 620.32,304.20 620.82,309.74 C621.31,315.28 621.75,324.02 622.22,332.48 C622.68,340.93 623.15,352.59 623.62,360.46 C624.08,368.33 624.52,374.31 625.02,379.70 C625.51,385.09 626.04,389.61 626.59,392.82 C627.14,396.02 627.61,397.33 628.34,398.94 C629.07,400.54 629.94,401.71 630.96,402.43 C631.98,403.16 624.64,403.16 634.46,403.31 C644.28,403.45 680.66,403.31 689.90,403.31" fill="none" stroke="#ff3a3a" stroke-width="0.7" stroke-linejoin="round"/>
<line x1="261.5" y1="428" x2="261.5" y2="542.5" stroke="#c8c8c8" stroke-width="1"/>
<line x1="381.5" y1="428" x2="381.5" y2="542.5" stroke="#d0d0d0" stroke-width="1"/>
<line x1="261.0" y1="542.5" x2="382.0" y2="542.5" stroke="#a0a0a0" stroke-width="1"/>
<line x1="261.00" y1="542.5" x2="261.00" y2="544.5" stroke="#909090" stroke-width="0.6"/>
<text x="259.85" y="550.90" textLength="2.30" lengthAdjust="spacingAndGlyphs">0</text>
<line x1="284.60" y1="542.5" x2="284.60" y2="544.5" stroke="#909090" stroke-width="0.6"/>
<text x="282.30" y="550.90" textLength="4.60" lengthAdjust="spacingAndGlyphs">50</text>
<line x1="308.20" y1="542.5" x2="308.20" y2="544.5" stroke="#909090" stroke-width="0.6"/>
<text x="304.75" y="550.90" textLength="6.90" lengthAdjust="spacingAndGlyphs">100</text>
<line x1="331.80" y1="542.5" x2="331.80" y2="544.5" stroke="#909090" stroke-width="0.6"/>
<text x="328.35" y="550.90" textLength="6.90" lengthAdjust="spacingAndGlyphs">150</text>
<line x1="355.40" y1="542.5" x2="355.40" y2="544.5" stroke="#909090" stroke-width="0.6"/>
<text x="351.95" y="550.90" textLength="6.90" lengthAdjust="spacingAndGlyphs">200</text>
<line x1="379.00" y1="542.5" x2="379.00" y2="544.5" stroke="#909090" stroke-width="0.6"/>
<text x="375.55" y="550.90" textLength="6.90" lengthAdjust="spacingAndGlyphs">250</text>
<line x1="260.0" y1="445.14" x2="261.5" y2="445.14" stroke="#909090" stroke-width="0.6"/>
<text x="247.60" y="447.44" textLength="11.50" lengthAdjust="spacingAndGlyphs">40000</text>
<line x1="260.0" y1="468.23" x2="261.5" y2="468.23" stroke="#909090" stroke-width="0.6"/>
<text x="247.60" y="470.53" textLength="11.50" lengthAdjust="spacingAndGlyphs">30000</text>
<line x1="260.0" y1="491.31" x2="261.5" y2="491.31" stroke="#909090" stroke-width="0.6"/>
<text x="247.60" y="493.61" textLength="11.50" lengthAdjust="spacingAndGlyphs">20000</text>
<line x1="260.0" y1="514.22" x2="261.5" y2="514.22" stroke="#909090" stroke-width="0.6"/>
<text x="247.60" y="516.52" textLength="11.50" lengthAdjust="spacingAndGlyphs">10000</text>
<line x1="260.0" y1="537.31" x2="261.5" y2="537.31" stroke="#909090" stroke-width="0.6"/>
<text x="256.80" y="539.61" textLength="2.30" lengthAdjust="spacingAndGlyphs">0</text>
<path d="M260.87,537.31 C269.47,537.28 300.95,537.22 312.47,537.13 C323.98,537.05 325.29,536.96 329.96,536.78 C334.62,536.61 337.54,536.43 340.45,536.08 C343.37,535.73 345.41,535.36 347.45,534.69 C349.49,534.02 350.94,533.23 352.69,532.06 C354.44,530.90 356.19,529.58 357.94,527.69 C359.69,525.80 361.58,523.32 363.19,520.69 C364.79,518.07 366.25,514.86 367.56,511.95 C368.87,509.03 370.04,505.54 371.06,503.20 C372.08,500.87 372.81,499.18 373.68,497.96 C374.56,496.73 375.58,496.00 376.30,495.86 C377.03,495.71 377.62,496.15 378.05,497.08 C378.49,498.02 378.64,500.44 378.93,501.46 C379.22,502.48 379.57,503.79 379.80,503.20 C380.04,502.62 380.18,501.16 380.33,497.96 C380.47,494.75 380.56,483.38 380.68,483.97 C380.79,484.55 380.97,495.63 381.03,501.46 C381.09,507.29 381.03,516.03 381.03,518.94" fill="none" stroke="#3a3aff" stroke-width="0.7" stroke-linejoin="round"/>
<path d="M260.87,537.31 C265.10,537.22 279.68,536.99 286.23,536.78 C292.79,536.58 296.14,536.43 300.23,536.08 C304.31,535.73 307.22,535.36 310.72,534.69 C314.22,534.02 318.01,532.85 321.21,532.06 C324.42,531.28 327.04,530.84 329.96,529.96 C332.87,529.09 335.79,527.63 338.70,526.82 C341.62,526.00 344.82,525.21 347.45,525.07 C350.07,524.92 352.11,525.50 354.44,525.94 C356.77,526.38 359.40,527.11 361.44,527.69 C363.48,528.27 364.94,528.91 366.69,529.44 C368.43,529.96 370.47,530.69 371.93,530.84 C373.39,530.98 374.41,530.84 375.43,530.31 C376.45,529.79 377.38,529.58 378.05,527.69 C378.72,525.80 379.07,523.32 379.45,518.94 C379.83,514.57 380.06,506.99 380.33,501.46 C380.59,495.92 380.91,488.34 381.03,485.72" fill="none" stroke="#217a21" stroke-width="0.7" stroke-linejoin="round"/>
<path d="M260.87,537.31 C266.56,537.25 286.38,537.25 294.98,536.96 C303.58,536.67 307.80,536.08 312.47,535.56 C317.13,535.04 319.46,534.48 322.96,533.81 C326.46,533.14 329.96,532.21 333.46,531.54 C336.95,530.87 340.45,530.28 343.95,529.79 C347.45,529.29 351.24,529.12 354.44,528.56 C357.65,528.01 360.56,527.34 363.19,526.47 C365.81,525.59 368.29,524.43 370.18,523.32 C372.08,522.21 373.39,521.13 374.56,519.82 C375.72,518.51 376.45,517.63 377.18,515.45 C377.91,513.26 378.49,510.20 378.93,506.70 C379.37,503.20 379.57,498.25 379.80,494.46 C380.04,490.67 380.18,489.21 380.33,483.97 C380.47,478.72 380.56,471.43 380.68,462.98 C380.79,454.53 380.97,438.20 381.03,433.25" fill="none" stroke="#ff3a3a" stroke-width="0.7" stroke-linejoin="round"/>
<line x1="569.5" y1="428" x2="569.5" y2="542.5" stroke="#c8c8c8" stroke-width="1"/>
<line x1="690.5" y1="428" x2="690.5" y2="542.5" stroke="#d0d0d0" stroke-width="1"/>
<line x1="569.0" y1="542.5" x2="691.0" y2="542.5" stroke="#a0a0a0" stroke-width="1"/>
<line x1="569.50" y1="542.5" x2="569.50" y2="544.5" stroke="#909090" stroke-width="0.6"/>
<text x="568.35" y="550.90" textLength="2.30" lengthAdjust="spacingAndGlyphs">0</text>
<line x1="593.00" y1="542.5" x2="593.00" y2="544.5" stroke="#909090" stroke-width="0.6"/>
<text x="590.70" y="550.90" textLength="4.60" lengthAdjust="spacingAndGlyphs">50</text>
<line x1="616.50" y1="542.5" x2="616.50" y2="544.5" stroke="#909090" stroke-width="0.6"/>
<text x="613.05" y="550.90" textLength="6.90" lengthAdjust="spacingAndGlyphs">100</text>
<line x1="640.00" y1="542.5" x2="640.00" y2="544.5" stroke="#909090" stroke-width="0.6"/>
<text x="636.55" y="550.90" textLength="6.90" lengthAdjust="spacingAndGlyphs">150</text>
<line x1="663.50" y1="542.5" x2="663.50" y2="544.5" stroke="#909090" stroke-width="0.6"/>
<text x="660.05" y="550.90" textLength="6.90" lengthAdjust="spacingAndGlyphs">200</text>
<line x1="687.00" y1="542.5" x2="687.00" y2="544.5" stroke="#909090" stroke-width="0.6"/>
<text x="683.55" y="550.90" textLength="6.90" lengthAdjust="spacingAndGlyphs">250</text>
<line x1="568.0" y1="432.90" x2="569.5" y2="432.90" stroke="#909090" stroke-width="0.6"/>
<text x="555.60" y="435.20" textLength="11.50" lengthAdjust="spacingAndGlyphs">30000</text>
<line x1="568.0" y1="450.21" x2="569.5" y2="450.21" stroke="#909090" stroke-width="0.6"/>
<text x="555.60" y="452.51" textLength="11.50" lengthAdjust="spacingAndGlyphs">25000</text>
<line x1="568.0" y1="467.53" x2="569.5" y2="467.53" stroke="#909090" stroke-width="0.6"/>
<text x="555.60" y="469.83" textLength="11.50" lengthAdjust="spacingAndGlyphs">20000</text>
<line x1="568.0" y1="485.19" x2="569.5" y2="485.19" stroke="#909090" stroke-width="0.6"/>
<text x="555.60" y="487.49" textLength="11.50" lengthAdjust="spacingAndGlyphs">15000</text>
<line x1="568.0" y1="502.50" x2="569.5" y2="502.50" stroke="#909090" stroke-width="0.6"/>
<text x="555.60" y="504.80" textLength="11.50" lengthAdjust="spacingAndGlyphs">10000</text>
<line x1="568.0" y1="519.82" x2="569.5" y2="519.82" stroke="#909090" stroke-width="0.6"/>
<text x="557.90" y="522.12" textLength="9.20" lengthAdjust="spacingAndGlyphs">5000</text>
<line x1="568.0" y1="537.13" x2="569.5" y2="537.13" stroke="#909090" stroke-width="0.6"/>
<text x="564.80" y="539.43" textLength="2.30" lengthAdjust="spacingAndGlyphs">0</text>
<path d="M569.40,536.78 C570.62,536.58 574.06,536.20 576.74,535.56 C579.43,534.92 582.57,534.02 585.49,532.94 C588.40,531.86 591.32,530.55 594.23,529.09 C597.15,527.63 600.36,526.17 602.98,524.19 C605.60,522.21 608.23,518.74 609.97,517.20 C611.72,515.65 612.45,515.21 613.47,514.92 C614.49,514.63 615.37,516.23 616.10,515.45 C616.82,514.66 617.26,512.24 617.84,510.20 C618.43,508.16 618.87,505.10 619.59,503.20 C620.32,501.31 621.49,500.29 622.22,498.83 C622.95,497.37 623.53,497.52 623.97,494.46 C624.40,491.40 624.55,484.55 624.84,480.47 C625.13,476.39 625.42,469.39 625.72,469.97 C626.01,470.56 626.30,480.91 626.59,483.97 C626.88,487.03 627.23,491.84 627.46,488.34 C627.70,484.84 627.78,472.22 627.99,462.98 C628.19,453.74 628.48,432.90 628.69,432.90 C628.89,432.90 629.04,452.72 629.21,462.98 C629.39,473.24 629.50,485.72 629.74,494.46 C629.97,503.20 630.26,509.62 630.61,515.45 C630.96,521.28 631.34,526.09 631.84,529.44 C632.33,532.79 632.57,534.31 633.59,535.56 C634.61,536.81 628.57,536.67 637.96,536.96 C647.34,537.25 681.24,537.25 689.90,537.31" fill="none" stroke="#3a3aff" stroke-width="0.7" stroke-linejoin="round"/>
<path d="M569.40,536.43 C570.33,536.20 572.90,535.53 575.00,535.04 C577.09,534.54 579.37,534.25 581.99,533.46 C584.61,532.67 588.11,531.71 590.74,530.31 C593.36,528.91 595.69,526.52 597.73,525.07 C599.77,523.61 601.38,522.73 602.98,521.57 C604.58,520.40 606.04,519.32 607.35,518.07 C608.66,516.82 609.83,514.83 610.85,514.05 C611.87,513.26 612.60,513.12 613.47,513.35 C614.35,513.58 615.22,514.95 616.10,515.45 C616.97,515.94 617.84,516.38 618.72,516.32 C619.59,516.26 620.47,514.89 621.34,515.10 C622.22,515.30 622.95,516.96 623.97,517.55 C624.99,518.13 626.44,517.92 627.46,518.60 C628.48,519.27 629.21,520.93 630.09,521.57 C630.96,522.21 631.98,522.15 632.71,522.44 C633.44,522.73 633.96,523.90 634.46,523.32 C634.96,522.73 635.31,520.69 635.68,518.94 C636.06,517.20 636.41,512.82 636.73,512.82 C637.05,512.82 637.29,517.78 637.61,518.94 C637.93,520.11 638.31,521.28 638.66,519.82 C639.01,518.36 639.39,513.26 639.71,510.20 C640.03,507.14 640.29,503.93 640.58,501.46 C640.87,498.98 641.16,494.46 641.46,495.33 C641.75,496.21 642.04,501.60 642.33,506.70 C642.62,511.80 642.85,521.28 643.20,525.94 C643.55,530.60 643.85,532.88 644.43,534.69 C645.01,536.49 645.74,536.35 646.70,536.78 C647.66,537.22 643.00,537.22 650.20,537.31 C657.40,537.40 683.28,537.31 689.90,537.31" fill="none" stroke="#217a21" stroke-width="0.7" stroke-linejoin="round"/>
<path d="M569.40,537.31 C572.08,537.16 581.35,536.87 585.49,536.43 C589.63,536.00 591.90,535.41 594.23,534.69 C596.57,533.96 597.88,533.23 599.48,532.06 C601.08,530.90 602.54,529.58 603.85,527.69 C605.17,525.80 606.33,523.61 607.35,520.69 C608.37,517.78 609.10,513.70 609.97,510.20 C610.85,506.70 611.72,503.20 612.60,499.71 C613.47,496.21 614.49,492.71 615.22,489.21 C615.95,485.72 616.47,482.80 616.97,478.72 C617.47,474.64 617.82,468.66 618.19,464.73 C618.57,460.79 618.92,456.13 619.24,455.11 C619.56,454.09 619.83,458.31 620.12,458.61 C620.41,458.90 620.70,456.71 620.99,456.86 C621.28,457.00 621.58,457.29 621.87,459.48 C622.16,461.67 622.45,465.60 622.74,469.97 C623.03,474.35 623.32,480.47 623.62,485.72 C623.91,490.96 624.14,495.92 624.49,501.46 C624.84,506.99 625.22,513.99 625.72,518.94 C626.21,523.90 626.74,528.33 627.46,531.19 C628.19,534.04 628.92,535.09 630.09,536.08 C631.25,537.08 624.49,536.93 634.46,537.13 C644.43,537.34 680.66,537.28 689.90,537.31" fill="none" stroke="#ff3a3a" stroke-width="0.7" stroke-linejoin="round"/>
<line x1="261.5" y1="562" x2="261.5" y2="676.5" stroke="#c8c8c8" stroke-width="1"/>
<line x1="381.5" y1="562" x2="381.5" y2="676.5" stroke="#d0d0d0" stroke-width="1"/>
<line x1="261.0" y1="676.5" x2="382.0" y2="676.5" stroke="#a0a0a0" stroke-width="1"/>
<line x1="261.00" y1="676.5" x2="261.00" y2="678.5" stroke="#909090" stroke-width="0.6"/>
<text x="259.85" y="684.90" textLength="2.30" lengthAdjust="spacingAndGlyphs">0</text>
<line x1="284.60" y1="676.5" x2="284.60" y2="678.5" stroke="#909090" stroke-width="0.6"/>
<text x="282.30" y="684.90" textLength="4.60" lengthAdjust="spacingAndGlyphs">50</text>
<line x1="308.20" y1="676.5" x2="308.20" y2="678.5" stroke="#909090" stroke-width="0.6"/>
<text x="304.75" y="684.90" textLength="6.90" lengthAdjust="spacingAndGlyphs">100</text>
<line x1="331.80" y1="676.5" x2="331.80" y2="678.5" stroke="#909090" stroke-width="0.6"/>
<text x="328.35" y="684.90" textLength="6.90" lengthAdjust="spacingAndGlyphs">150</text>
<line x1="355.40" y1="676.5" x2="355.40" y2="678.5" stroke="#909090" stroke-width="0.6"/>
<text x="351.95" y="684.90" textLength="6.90" lengthAdjust="spacingAndGlyphs">200</text>
<line x1="379.00" y1="676.5" x2="379.00" y2="678.5" stroke="#909090" stroke-width="0.6"/>
<text x="375.55" y="684.90" textLength="6.90" lengthAdjust="spacingAndGlyphs">250</text>
<line x1="260.0" y1="564.97" x2="261.5" y2="564.97" stroke="#909090" stroke-width="0.6"/>
<text x="247.60" y="567.27" textLength="11.50" lengthAdjust="spacingAndGlyphs">30000</text>
<line x1="260.0" y1="582.64" x2="261.5" y2="582.64" stroke="#909090" stroke-width="0.6"/>
<text x="247.60" y="584.94" textLength="11.50" lengthAdjust="spacingAndGlyphs">25000</text>
<line x1="260.0" y1="600.13" x2="261.5" y2="600.13" stroke="#909090" stroke-width="0.6"/>
<text x="247.60" y="602.43" textLength="11.50" lengthAdjust="spacingAndGlyphs">20000</text>
<line x1="260.0" y1="617.79" x2="261.5" y2="617.79" stroke="#909090" stroke-width="0.6"/>
<text x="247.60" y="620.09" textLength="11.50" lengthAdjust="spacingAndGlyphs">15000</text>
<line x1="260.0" y1="635.46" x2="261.5" y2="635.46" stroke="#909090" stroke-width="0.6"/>
<text x="247.60" y="637.76" textLength="11.50" lengthAdjust="spacingAndGlyphs">10000</text>
<line x1="260.0" y1="653.12" x2="261.5" y2="653.12" stroke="#909090" stroke-width="0.6"/>
<text x="249.90" y="655.42" textLength="9.20" lengthAdjust="spacingAndGlyphs">5000</text>
<line x1="260.0" y1="670.96" x2="261.5" y2="670.96" stroke="#909090" stroke-width="0.6"/>
<text x="256.80" y="673.26" textLength="2.30" lengthAdjust="spacingAndGlyphs">0</text>
<path d="M260.87,671.31 C269.47,671.22 300.95,670.99 312.47,670.78 C323.98,670.58 325.29,670.32 329.96,670.08 C334.62,669.85 337.54,669.68 340.45,669.39 C343.37,669.09 345.41,668.89 347.45,668.34 C349.49,667.78 350.94,667.17 352.69,666.06 C354.44,664.95 356.48,663.44 357.94,661.69 C359.40,659.94 360.27,658.19 361.44,655.57 C362.60,652.94 363.92,649.88 364.94,645.95 C365.96,642.01 366.74,636.62 367.56,631.96 C368.38,627.29 369.10,622.63 369.83,617.97 C370.56,613.30 371.23,607.62 371.93,603.97 C372.63,600.33 373.45,597.56 374.03,596.10 C374.61,594.65 374.96,594.65 375.43,595.23 C375.90,595.81 376.39,596.69 376.83,599.60 C377.27,602.52 377.70,608.20 378.05,612.72 C378.40,617.24 378.64,622.92 378.93,626.71 C379.22,630.50 379.57,632.54 379.80,635.46 C380.04,638.37 380.18,646.24 380.33,644.20 C380.47,642.16 380.56,631.67 380.68,623.21 C380.79,614.76 380.94,590.57 381.03,593.48 C381.11,596.40 381.17,632.83 381.20,640.70" fill="none" stroke="#3a3aff" stroke-width="0.7" stroke-linejoin="round"/>
<path d="M260.87,668.34 C261.02,668.69 257.52,670.20 261.75,670.43 C265.98,670.67 280.11,669.97 286.23,669.73 C292.36,669.50 294.98,669.36 298.48,669.04 C301.97,668.71 304.31,668.39 307.22,667.81 C310.14,667.23 312.76,666.50 315.97,665.54 C319.17,664.58 323.54,663.12 326.46,662.04 C329.37,660.96 331.27,660.14 333.46,659.07 C335.64,657.99 337.83,656.94 339.58,655.57 C341.33,654.20 342.64,651.92 343.95,650.85 C345.26,649.77 346.43,649.24 347.45,649.10 C348.47,648.95 349.05,649.18 350.07,649.97 C351.09,650.76 352.26,652.60 353.57,653.82 C354.88,655.04 356.34,656.44 357.94,657.32 C359.54,658.19 361.29,658.57 363.19,659.07 C365.08,659.56 367.71,660.20 369.31,660.29 C370.91,660.38 371.64,660.09 372.81,659.59 C373.97,659.10 375.34,658.13 376.30,657.32 C377.27,656.50 378.00,656.01 378.58,654.69 C379.16,653.38 379.45,652.65 379.80,649.45 C380.15,646.24 380.47,639.83 380.68,635.46 C380.88,631.08 380.97,625.25 381.03,623.21" fill="none" stroke="#217a21" stroke-width="0.7" stroke-linejoin="round"/>
<path d="M260.87,670.78 C265.10,670.73 279.09,670.58 286.23,670.43 C293.38,670.29 298.48,670.20 303.72,669.91 C308.97,669.62 313.34,669.24 317.72,668.69 C322.09,668.13 326.46,667.23 329.96,666.59 C333.46,665.95 335.79,665.51 338.70,664.84 C341.62,664.17 344.97,663.29 347.45,662.56 C349.92,661.84 351.67,661.34 353.57,660.47 C355.46,659.59 357.21,658.86 358.82,657.32 C360.42,655.77 361.88,653.53 363.19,651.20 C364.50,648.86 365.67,645.66 366.69,643.33 C367.71,640.99 368.43,638.95 369.31,637.20 C370.18,635.46 371.26,633.71 371.93,632.83 C372.60,631.96 372.81,631.81 373.33,631.96 C373.86,632.10 374.50,633.71 375.08,633.71 C375.66,633.71 376.25,633.12 376.83,631.96 C377.41,630.79 378.08,628.75 378.58,626.71 C379.07,624.67 379.51,620.30 379.80,619.72 C380.09,619.13 380.18,627.00 380.33,623.21 C380.47,619.42 380.56,606.45 380.68,596.98 C380.79,587.51 380.97,571.47 381.03,566.37" fill="none" stroke="#ff3a3a" stroke-width="0.7" stroke-linejoin="round"/>
<line x1="569.5" y1="562" x2="569.5" y2="676.5" stroke="#c8c8c8" stroke-width="1"/>
<line x1="690.5" y1="562" x2="690.5" y2="676.5" stroke="#d0d0d0" stroke-width="1"/>
<line x1="569.0" y1="676.5" x2="691.0" y2="676.5" stroke="#a0a0a0" stroke-width="1"/>
<line x1="569.50" y1="676.5" x2="569.50" y2="678.5" stroke="#909090" stroke-width="0.6"/>
<text x="568.35" y="684.90" textLength="2.30" lengthAdjust="spacingAndGlyphs">0</text>
<line x1="593.00" y1="676.5" x2="593.00" y2="678.5" stroke="#909090" stroke-width="0.6"/>
<text x="590.70" y="684.90" textLength="4.60" lengthAdjust="spacingAndGlyphs">50</text>
<line x1="616.50" y1="676.5" x2="616.50" y2="678.5" stroke="#909090" stroke-width="0.6"/>
<text x="613.05" y="684.90" textLength="6.90" lengthAdjust="spacingAndGlyphs">100</text>
<line x1="640.00" y1="676.5" x2="640.00" y2="678.5" stroke="#909090" stroke-width="0.6"/>
<text x="636.55" y="684.90" textLength="6.90" lengthAdjust="spacingAndGlyphs">150</text>
<line x1="663.50" y1="676.5" x2="663.50" y2="678.5" stroke="#909090" stroke-width="0.6"/>
<text x="660.05" y="684.90" textLength="6.90" lengthAdjust="spacingAndGlyphs">200</text>
<line x1="687.00" y1="676.5" x2="687.00" y2="678.5" stroke="#909090" stroke-width="0.6"/>
<text x="683.55" y="684.90" textLength="6.90" lengthAdjust="spacingAndGlyphs">250</text>
<line x1="568.0" y1="574.07" x2="569.5" y2="574.07" stroke="#909090" stroke-width="0.6"/>
<text x="555.60" y="576.37" textLength="11.50" lengthAdjust="spacingAndGlyphs">20000</text>
<line x1="568.0" y1="598.38" x2="569.5" y2="598.38" stroke="#909090" stroke-width="0.6"/>
<text x="555.60" y="600.68" textLength="11.50" lengthAdjust="spacingAndGlyphs">15000</text>
<line x1="568.0" y1="622.51" x2="569.5" y2="622.51" stroke="#909090" stroke-width="0.6"/>
<text x="555.60" y="624.81" textLength="11.50" lengthAdjust="spacingAndGlyphs">10000</text>
<line x1="568.0" y1="646.82" x2="569.5" y2="646.82" stroke="#909090" stroke-width="0.6"/>
<text x="557.90" y="649.12" textLength="9.20" lengthAdjust="spacingAndGlyphs">5000</text>
<line x1="568.0" y1="671.13" x2="569.5" y2="671.13" stroke="#909090" stroke-width="0.6"/>
<text x="564.80" y="673.43" textLength="2.30" lengthAdjust="spacingAndGlyphs">0</text>
<path d="M569.40,670.78 C569.89,670.43 571.29,669.27 572.37,668.69 C573.45,668.10 574.85,667.43 575.87,667.29 C576.89,667.14 577.47,667.64 578.49,667.81 C579.51,667.99 580.24,668.63 581.99,668.34 C583.74,668.04 586.66,667.02 588.99,666.06 C591.32,665.10 593.65,663.88 595.98,662.56 C598.31,661.25 601.08,659.94 602.98,658.19 C604.87,656.44 606.04,654.40 607.35,652.07 C608.66,649.74 609.68,647.26 610.85,644.20 C612.02,641.14 613.33,637.20 614.35,633.71 C615.37,630.21 616.10,626.57 616.97,623.21 C617.84,619.86 618.78,616.28 619.59,613.59 C620.41,610.91 621.20,608.00 621.87,607.12 C622.54,606.25 623.03,608.73 623.62,608.35 C624.20,607.97 624.87,604.70 625.37,604.85 C625.86,604.99 626.24,607.76 626.59,609.22 C626.94,610.68 627.17,614.18 627.46,613.59 C627.76,613.01 628.05,604.70 628.34,605.72 C628.63,606.74 628.83,613.30 629.21,619.72 C629.59,626.13 630.17,637.50 630.61,644.20 C631.05,650.90 631.20,656.15 631.84,659.94 C632.48,663.73 633.44,665.33 634.46,666.94 C635.48,668.54 636.50,668.92 637.96,669.56 C639.42,670.20 634.55,670.49 643.20,670.78 C651.86,671.08 682.12,671.22 689.90,671.31" fill="none" stroke="#3a3aff" stroke-width="0.7" stroke-linejoin="round"/>
<path d="M569.40,652.94 C569.52,655.28 569.60,664.60 570.10,666.94 C570.59,669.27 571.50,667.23 572.37,666.94 C573.25,666.65 574.47,665.25 575.35,665.19 C576.22,665.13 576.51,666.44 577.62,666.59 C578.73,666.73 580.10,666.59 581.99,666.06 C583.89,665.54 586.66,664.46 588.99,663.44 C591.32,662.42 593.65,661.54 595.98,659.94 C598.31,658.34 600.94,656.15 602.98,653.82 C605.02,651.49 606.77,648.14 608.23,645.95 C609.68,643.76 610.56,641.64 611.72,640.70 C612.89,639.77 614.20,640.29 615.22,640.35 C616.24,640.41 617.12,641.14 617.84,641.05 C618.57,640.96 619.01,639.74 619.59,639.83 C620.18,639.92 620.61,640.56 621.34,641.58 C622.07,642.60 622.95,644.72 623.97,645.95 C624.99,647.17 626.15,648.19 627.46,648.92 C628.78,649.65 630.52,650.09 631.84,650.32 C633.15,650.55 634.37,650.76 635.33,650.32 C636.30,649.88 636.94,648.66 637.61,647.70 C638.28,646.74 638.86,644.55 639.36,644.55 C639.85,644.55 640.09,647.32 640.58,647.70 C641.08,648.08 641.81,647.70 642.33,646.82 C642.85,645.95 643.38,641.72 643.73,642.45 C644.08,643.18 644.08,648.28 644.43,651.20 C644.78,654.11 645.16,657.32 645.83,659.94 C646.50,662.56 647.43,665.25 648.45,666.94 C649.47,668.63 650.49,669.39 651.95,670.08 C653.41,670.78 650.87,670.93 657.20,671.13 C663.52,671.34 684.45,671.28 689.90,671.31" fill="none" stroke="#217a21" stroke-width="0.7" stroke-linejoin="round"/>
<path d="M569.40,671.31 C571.50,671.10 578.44,670.58 581.99,670.08 C585.55,669.59 588.11,669.15 590.74,668.34 C593.36,667.52 595.69,666.59 597.73,665.19 C599.77,663.79 601.38,662.27 602.98,659.94 C604.58,657.61 606.04,654.99 607.35,651.20 C608.66,647.41 609.83,642.45 610.85,637.20 C611.87,631.96 612.69,625.84 613.47,619.72 C614.26,613.59 614.93,606.89 615.57,600.48 C616.21,594.06 616.80,586.49 617.32,581.24 C617.84,575.99 618.31,571.39 618.72,569.00 C619.13,566.61 619.39,566.31 619.77,566.90 C620.15,567.48 620.58,568.94 620.99,572.49 C621.40,576.05 621.78,582.40 622.22,588.23 C622.65,594.06 623.18,600.77 623.62,607.47 C624.05,614.18 624.35,621.46 624.84,628.46 C625.34,635.46 626.01,643.91 626.59,649.45 C627.17,654.99 627.61,658.63 628.34,661.69 C629.07,664.75 629.94,666.35 630.96,667.81 C631.98,669.27 632.71,669.85 634.46,670.43 C636.21,671.02 632.22,671.16 641.46,671.31 C650.70,671.45 681.83,671.31 689.90,671.31" fill="none" stroke="#ff3a3a" stroke-width="0.7" stroke-linejoin="round"/></g></svg>
<svg style="position:absolute;left:93px;top:27px;overflow:hidden" width="135" height="123.8" viewBox="0 0 709 651" preserveAspectRatio="none">
<defs><filter id="fb0" x="-5%" y="-5%" width="110%" height="110%" color-interpolation-filters="sRGB"><feGaussianBlur stdDeviation="4"/></filter></defs>
<rect x="-20" y="-20" width="749" height="691" fill="#c6a6e6"/>
<g filter="url(#fb0)">
<polygon points="200,175 355,175 355,325 200,325" fill="#cdb6ec" fill-opacity="0.7"/>
<polygon points="355,60 709,60 709,250 560,250 460,200 400,160" fill="#cdb6ec" fill-opacity="0.8"/>
<polygon points="0,380 150,420 250,560 300,651 0,651" fill="#cdb6ec" fill-opacity="0.7"/>
<polygon points="560,330 709,330 709,651 600,651" fill="#cdb6ec" fill-opacity="0.6"/>
<polygon points="55,0 400,0 380,80 330,150 250,170 220,260 160,300 130,260 100,150 70,60" fill="#ac8ade" fill-opacity="0.85"/>
<polygon points="330,440 420,430 480,380 520,420 560,560 600,651 320,651 300,560" fill="#ac8ade" fill-opacity="0.85"/>
<ellipse cx="690" cy="400" rx="40" ry="120" fill="#ac8ade" fill-opacity="0.6"/>
<ellipse cx="352" cy="298" rx="102" ry="148" transform="rotate(-10 352 298)" fill="#ccb6ec" fill-opacity="1"/>
<polyline points="275,415 300,440 350,445 400,430 440,390 455,340" fill="none" stroke="#eee8fb" stroke-width="9" stroke-opacity="0.85" stroke-linecap="round" stroke-linejoin="round"/>
<polyline points="260,280 258,340 272,415" fill="none" stroke="#e0d8f6" stroke-width="6" stroke-opacity="0.6" stroke-linecap="round" stroke-linejoin="round"/>
<polygon points="18,0 58,0 70,100 85,150 105,200 125,250 150,300 160,325 211,426 252,476 292,527 322,577 342,627 352,651 308,651 297,627 267,577 236,527 201,476 161,426 120,330 85,250 50,200 30,150 22,80" fill="#e0d8f6" fill-opacity="1"/>
<polygon points="0,0 20,0 25,120 35,180 55,220 0,230" fill="#cdb6ec" fill-opacity="0.7"/>
<polygon points="505,376 545,376 565,426 585,476 605,527 615,577 625,627 632,651 585,651 578,627 568,577 560,527 550,476 535,426" fill="#e0d8f6" fill-opacity="1"/>
<ellipse cx="568" cy="65" rx="25" ry="20" fill="#eee8fb" fill-opacity="1"/>
<ellipse cx="608" cy="35" rx="20" ry="20" fill="#eee8fb" fill-opacity="1"/>
<ellipse cx="513" cy="65" rx="20" ry="13" fill="#eee8fb" fill-opacity="0.9"/>
<ellipse cx="648" cy="10" rx="13" ry="10" fill="#eee8fb" fill-opacity="0.8"/>
<ellipse cx="65" cy="537" rx="25" ry="20" fill="#eee8fb" fill-opacity="0.9"/>
<ellipse cx="181" cy="282" rx="15" ry="20" fill="#eee8fb" fill-opacity="0.85"/>
<ellipse cx="690" cy="500" rx="12" ry="25" fill="#eee8fb" fill-opacity="0.7"/>
<ellipse cx="10" cy="5" rx="8" ry="6" fill="#3c1e9a" fill-opacity="1"/>
<ellipse cx="12" cy="35" rx="6" ry="6" fill="#3c1e9a" fill-opacity="1"/>
<ellipse cx="10" cy="68" rx="6" ry="6" fill="#3c1e9a" fill-opacity="1"/>
<ellipse cx="8" cy="93" rx="6" ry="7" fill="#3c1e9a" fill-opacity="1"/>
<ellipse cx="10" cy="171" rx="6" ry="8" fill="#6242c2" fill-opacity="0.9"/>
<ellipse cx="8" cy="236" rx="7" ry="9" fill="#3c1e9a" fill-opacity="1"/>
<ellipse cx="8" cy="274" rx="7" ry="8" fill="#3c1e9a" fill-opacity="1"/>
<ellipse cx="75" cy="13" rx="23" ry="13" fill="#6242c2" fill-opacity="1"/>
<ellipse cx="121" cy="15" rx="15" ry="10" fill="#8e6ed0" fill-opacity="0.9"/>
<ellipse cx="65" cy="55" rx="15" ry="18" fill="#6242c2" fill-opacity="1"/>
<ellipse cx="98" cy="88" rx="16" ry="25" transform="rotate(20 98 88)" fill="#6242c2" fill-opacity="1"/>
<ellipse cx="174" cy="116" rx="15" ry="13" fill="#6242c2" fill-opacity="0.9"/>
<ellipse cx="204" cy="93" rx="13" ry="10" fill="#8e6ed0" fill-opacity="0.9"/>
<ellipse cx="236" cy="48" rx="18" ry="15" fill="#6242c2" fill-opacity="0.9"/>
<ellipse cx="282" cy="63" rx="23" ry="18" fill="#6242c2" fill-opacity="0.95"/>
<ellipse cx="292" cy="10" rx="13" ry="10" fill="#8e6ed0" fill-opacity="0.9"/>
<ellipse cx="282" cy="151" rx="12" ry="25" transform="rotate(35 282 151)" fill="#3c1e9a" fill-opacity="1"/>
<ellipse cx="347" cy="151" rx="13" ry="8" fill="#6242c2" fill-opacity="1"/>
<ellipse cx="121" cy="201" rx="18" ry="20" fill="#6242c2" fill-opacity="1"/>
<ellipse cx="171" cy="199" rx="18" ry="15" fill="#6242c2" fill-opacity="1"/>
<ellipse cx="128" cy="239" rx="15" ry="15" fill="#6242c2" fill-opacity="1"/>
<ellipse cx="176" cy="156" rx="15" ry="13" fill="#8e6ed0" fill-opacity="0.8"/>
<ellipse cx="156" cy="322" rx="8" ry="5" fill="#3c1e9a" fill-opacity="1"/>
<ellipse cx="382" cy="98" rx="28" ry="12" transform="rotate(20 382 98)" fill="#3c1e9a" fill-opacity="1"/>
<ellipse cx="357" cy="146" rx="8" ry="8" fill="#6242c2" fill-opacity="1"/>
<ellipse cx="417" cy="141" rx="8" ry="5" fill="#6242c2" fill-opacity="1"/>
<ellipse cx="467" cy="23" rx="18" ry="15" fill="#6242c2" fill-opacity="1"/>
<ellipse cx="417" cy="8" rx="13" ry="10" fill="#8e6ed0" fill-opacity="1"/>
<ellipse cx="543" cy="184" rx="20" ry="10" transform="rotate(10 543 184)" fill="#3c1e9a" fill-opacity="1"/>
<ellipse cx="538" cy="38" rx="13" ry="10" fill="#8e6ed0" fill-opacity="1"/>
<ellipse cx="664" cy="35" rx="18" ry="18" fill="#6242c2" fill-opacity="1"/>
<ellipse cx="661" cy="75" rx="23" ry="12" transform="rotate(30 661 75)" fill="#3c1e9a" fill-opacity="1"/>
<ellipse cx="686" cy="156" rx="18" ry="15" fill="#6242c2" fill-opacity="1"/>
<ellipse cx="689" cy="231" rx="15" ry="18" fill="#6242c2" fill-opacity="1"/>
<ellipse cx="523" cy="287" rx="15" ry="13" fill="#3c1e9a" fill-opacity="1"/>
<ellipse cx="608" cy="282" rx="20" ry="11" transform="rotate(-20 608 282)" fill="#3c1e9a" fill-opacity="1"/>
<ellipse cx="156" cy="346" rx="18" ry="23" fill="#6242c2" fill-opacity="1"/>
<ellipse cx="201" cy="391" rx="20" ry="23" fill="#8e6ed0" fill-opacity="1"/>
<ellipse cx="241" cy="456" rx="18" ry="18" fill="#6242c2" fill-opacity="1"/>
<ellipse cx="244" cy="351" rx="13" ry="15" fill="#6242c2" fill-opacity="0.9"/>
<ellipse cx="337" cy="512" rx="18" ry="20" fill="#6242c2" fill-opacity="1"/>
<ellipse cx="23" cy="358" rx="18" ry="10" fill="#3c1e9a" fill-opacity="1"/>
<ellipse cx="50" cy="351" rx="5" ry="5" fill="#3c1e9a" fill-opacity="1"/>
<ellipse cx="50" cy="381" rx="10" ry="15" fill="#6242c2" fill-opacity="1"/>
<ellipse cx="60" cy="446" rx="8" ry="8" fill="#6242c2" fill-opacity="1"/>
<ellipse cx="91" cy="502" rx="15" ry="13" fill="#8e6ed0" fill-opacity="0.9"/>
<ellipse cx="0" cy="527" rx="8" ry="15" fill="#6242c2" fill-opacity="1"/>
<ellipse cx="131" cy="416" rx="8" ry="20" transform="rotate(-15 131 416)" fill="#3c1e9a" fill-opacity="1"/>
<ellipse cx="211" cy="514" rx="25" ry="9" transform="rotate(40 211 514)" fill="#3c1e9a" fill-opacity="1"/>
<ellipse cx="231" cy="577" rx="20" ry="8" transform="rotate(40 231 577)" fill="#6242c2" fill-opacity="1"/>
<ellipse cx="136" cy="572" rx="15" ry="10" fill="#6242c2" fill-opacity="1"/>
<ellipse cx="184" cy="587" rx="10" ry="10" fill="#3c1e9a" fill-opacity="1"/>
<ellipse cx="126" cy="605" rx="18" ry="8" fill="#6242c2" fill-opacity="1"/>
<ellipse cx="189" cy="632" rx="18" ry="10" fill="#6242c2" fill-opacity="1"/>
<ellipse cx="397" cy="481" rx="25" ry="28" fill="#6242c2" fill-opacity="1"/>
<ellipse cx="377" cy="557" rx="15" ry="18" fill="#6242c2" fill-opacity="1"/>
<ellipse cx="387" cy="612" rx="18" ry="20" fill="#6242c2" fill-opacity="1"/>
<ellipse cx="432" cy="592" rx="18" ry="13" fill="#8e6ed0" fill-opacity="1"/>
<ellipse cx="457" cy="537" rx="23" ry="15" fill="#8e6ed0" fill-opacity="1"/>
<ellipse cx="493" cy="557" rx="15" ry="10" fill="#6242c2" fill-opacity="0.9"/>
<ellipse cx="505" cy="592" rx="23" ry="20" fill="#6242c2" fill-opacity="1"/>
<ellipse cx="518" cy="527" rx="15" ry="13" fill="#8e6ed0" fill-opacity="1"/>
<ellipse cx="548" cy="542" rx="10" ry="15" fill="#8e6ed0" fill-opacity="0.9"/>
<ellipse cx="518" cy="441" rx="13" ry="10" fill="#8e6ed0" fill-opacity="0.9"/>
<ellipse cx="478" cy="371" rx="23" ry="30" fill="#8e6ed0" fill-opacity="0.9"/>
<ellipse cx="472" cy="632" rx="13" ry="10" fill="#6242c2" fill-opacity="1"/>
<ellipse cx="598" cy="338" rx="18" ry="15" fill="#6242c2" fill-opacity="1"/>
<ellipse cx="638" cy="363" rx="10" ry="10" fill="#6242c2" fill-opacity="1"/>
<ellipse cx="669" cy="381" rx="8" ry="15" transform="rotate(-30 669 381)" fill="#3c1e9a" fill-opacity="1"/>
<ellipse cx="616" cy="406" rx="8" ry="13" fill="#6242c2" fill-opacity="1"/>
<ellipse cx="684" cy="446" rx="15" ry="10" fill="#3c1e9a" fill-opacity="1"/>
<ellipse cx="618" cy="491" rx="8" ry="15" transform="rotate(-20 618 491)" fill="#3c1e9a" fill-opacity="1"/>
<ellipse cx="646" cy="499" rx="10" ry="18" transform="rotate(-30 646 499)" fill="#3c1e9a" fill-opacity="1"/>
<ellipse cx="696" cy="542" rx="8" ry="10" fill="#6242c2" fill-opacity="1"/>
<ellipse cx="648" cy="627" rx="8" ry="13" fill="#6242c2" fill-opacity="1"/>
</g></svg>
<svg style="position:absolute;left:401.7px;top:27px;overflow:hidden" width="134.5" height="123.8" viewBox="0 0 709 651" preserveAspectRatio="none">
<defs><filter id="fa0" x="-5%" y="-5%" width="110%" height="110%" color-interpolation-filters="sRGB"><feGaussianBlur stdDeviation="4"/></filter></defs>
<rect x="-20" y="-20" width="749" height="691" fill="#746c76"/>
<g filter="url(#fa0)">
<polygon points="200,175 355,175 355,325 200,325" fill="#768a80" fill-opacity="0.7"/>
<polygon points="355,60 709,60 709,250 560,250 460,200 400,160" fill="#768a80" fill-opacity="0.8"/>
<polygon points="0,380 150,420 250,560 300,651 0,651" fill="#768a80" fill-opacity="0.7"/>
<polygon points="560,330 709,330 709,651 600,651" fill="#768a80" fill-opacity="0.6"/>
<polygon points="55,0 400,0 380,80 330,150 250,170 220,260 160,300 130,260 100,150 70,60" fill="#74505e" fill-opacity="0.85"/>
<polygon points="330,440 420,430 480,380 520,420 560,560 600,651 320,651 300,560" fill="#74505e" fill-opacity="0.85"/>
<ellipse cx="690" cy="400" rx="40" ry="120" fill="#74505e" fill-opacity="0.6"/>
<ellipse cx="352" cy="298" rx="102" ry="148" transform="rotate(-10 352 298)" fill="#7a9486" fill-opacity="1"/>
<polyline points="275,415 300,440 350,445 400,430 440,390 455,340" fill="none" stroke="#88c6a6" stroke-width="9" stroke-opacity="0.85" stroke-linecap="round" stroke-linejoin="round"/>
<polyline points="260,280 258,340 272,415" fill="none" stroke="#74aa8c" stroke-width="6" stroke-opacity="0.6" stroke-linecap="round" stroke-linejoin="round"/>
<polygon points="18,0 58,0 70,100 85,150 105,200 125,250 150,300 160,325 211,426 252,476 292,527 322,577 342,627 352,651 308,651 297,627 267,577 236,527 201,476 161,426 120,330 85,250 50,200 30,150 22,80" fill="#74aa8c" fill-opacity="1"/>
<polygon points="0,0 20,0 25,120 35,180 55,220 0,230" fill="#768a80" fill-opacity="0.7"/>
<polygon points="505,376 545,376 565,426 585,476 605,527 615,577 625,627 632,651 585,651 578,627 568,577 560,527 550,476 535,426" fill="#74aa8c" fill-opacity="1"/>
<ellipse cx="568" cy="65" rx="25" ry="20" fill="#88c6a6" fill-opacity="1"/>
<ellipse cx="608" cy="35" rx="20" ry="20" fill="#88c6a6" fill-opacity="1"/>
<ellipse cx="513" cy="65" rx="20" ry="13" fill="#88c6a6" fill-opacity="0.9"/>
<ellipse cx="648" cy="10" rx="13" ry="10" fill="#88c6a6" fill-opacity="0.8"/>
<ellipse cx="65" cy="537" rx="25" ry="20" fill="#88c6a6" fill-opacity="0.9"/>
<ellipse cx="181" cy="282" rx="15" ry="20" fill="#88c6a6" fill-opacity="0.85"/>
<ellipse cx="690" cy="500" rx="12" ry="25" fill="#88c6a6" fill-opacity="0.7"/>
<ellipse cx="10" cy="5" rx="8" ry="6" fill="#4a0a20" fill-opacity="1"/>
<ellipse cx="12" cy="35" rx="6" ry="6" fill="#4a0a20" fill-opacity="1"/>
<ellipse cx="10" cy="68" rx="6" ry="6" fill="#4a0a20" fill-opacity="1"/>
<ellipse cx="8" cy="93" rx="6" ry="7" fill="#4a0a20" fill-opacity="1"/>
<ellipse cx="10" cy="171" rx="6" ry="8" fill="#6c1a38" fill-opacity="0.9"/>
<ellipse cx="8" cy="236" rx="7" ry="9" fill="#4a0a20" fill-opacity="1"/>
<ellipse cx="8" cy="274" rx="7" ry="8" fill="#4a0a20" fill-opacity="1"/>
<ellipse cx="75" cy="13" rx="23" ry="13" fill="#6c1a38" fill-opacity="1"/>
<ellipse cx="121" cy="15" rx="15" ry="10" fill="#783a52" fill-opacity="0.9"/>
<ellipse cx="65" cy="55" rx="15" ry="18" fill="#6c1a38" fill-opacity="1"/>
<ellipse cx="98" cy="88" rx="16" ry="25" transform="rotate(20 98 88)" fill="#6c1a38" fill-opacity="1"/>
<ellipse cx="174" cy="116" rx="15" ry="13" fill="#6c1a38" fill-opacity="0.9"/>
<ellipse cx="204" cy="93" rx="13" ry="10" fill="#783a52" fill-opacity="0.9"/>
<ellipse cx="236" cy="48" rx="18" ry="15" fill="#6c1a38" fill-opacity="0.9"/>
<ellipse cx="282" cy="63" rx="23" ry="18" fill="#6c1a38" fill-opacity="0.95"/>
<ellipse cx="292" cy="10" rx="13" ry="10" fill="#783a52" fill-opacity="0.9"/>
<ellipse cx="282" cy="151" rx="12" ry="25" transform="rotate(35 282 151)" fill="#4a0a20" fill-opacity="1"/>
<ellipse cx="347" cy="151" rx="13" ry="8" fill="#6c1a38" fill-opacity="1"/>
<ellipse cx="121" cy="201" rx="18" ry="20" fill="#6c1a38" fill-opacity="1"/>
<ellipse cx="171" cy="199" rx="18" ry="15" fill="#6c1a38" fill-opacity="1"/>
<ellipse cx="128" cy="239" rx="15" ry="15" fill="#6c1a38" fill-opacity="1"/>
<ellipse cx="176" cy="156" rx="15" ry="13" fill="#783a52" fill-opacity="0.8"/>
<ellipse cx="156" cy="322" rx="8" ry="5" fill="#4a0a20" fill-opacity="1"/>
<ellipse cx="382" cy="98" rx="28" ry="12" transform="rotate(20 382 98)" fill="#4a0a20" fill-opacity="1"/>
<ellipse cx="357" cy="146" rx="8" ry="8" fill="#6c1a38" fill-opacity="1"/>
<ellipse cx="417" cy="141" rx="8" ry="5" fill="#6c1a38" fill-opacity="1"/>
<ellipse cx="467" cy="23" rx="18" ry="15" fill="#6c1a38" fill-opacity="1"/>
<ellipse cx="417" cy="8" rx="13" ry="10" fill="#783a52" fill-opacity="1"/>
<ellipse cx="543" cy="184" rx="20" ry="10" transform="rotate(10 543 184)" fill="#4a0a20" fill-opacity="1"/>
<ellipse cx="538" cy="38" rx="13" ry="10" fill="#783a52" fill-opacity="1"/>
<ellipse cx="664" cy="35" rx="18" ry="18" fill="#6c1a38" fill-opacity="1"/>
<ellipse cx="661" cy="75" rx="23" ry="12" transform="rotate(30 661 75)" fill="#4a0a20" fill-opacity="1"/>
<ellipse cx="686" cy="156" rx="18" ry="15" fill="#6c1a38" fill-opacity="1"/>
<ellipse cx="689" cy="231" rx="15" ry="18" fill="#6c1a38" fill-opacity="1"/>
<ellipse cx="523" cy="287" rx="15" ry="13" fill="#4a0a20" fill-opacity="1"/>
<ellipse cx="608" cy="282" rx="20" ry="11" transform="rotate(-20 608 282)" fill="#4a0a20" fill-opacity="1"/>
<ellipse cx="156" cy="346" rx="18" ry="23" fill="#6c1a38" fill-opacity="1"/>
<ellipse cx="201" cy="391" rx="20" ry="23" fill="#783a52" fill-opacity="1"/>
<ellipse cx="241" cy="456" rx="18" ry="18" fill="#6c1a38" fill-opacity="1"/>
<ellipse cx="244" cy="351" rx="13" ry="15" fill="#6c1a38" fill-opacity="0.9"/>
<ellipse cx="337" cy="512" rx="18" ry="20" fill="#6c1a38" fill-opacity="1"/>
<ellipse cx="23" cy="358" rx="18" ry="10" fill="#4a0a20" fill-opacity="1"/>
<ellipse cx="50" cy="351" rx="5" ry="5" fill="#4a0a20" fill-opacity="1"/>
<ellipse cx="50" cy="381" rx="10" ry="15" fill="#6c1a38" fill-opacity="1"/>
<ellipse cx="60" cy="446" rx="8" ry="8" fill="#6c1a38" fill-opacity="1"/>
<ellipse cx="91" cy="502" rx="15" ry="13" fill="#783a52" fill-opacity="0.9"/>
<ellipse cx="0" cy="527" rx="8" ry="15" fill="#6c1a38" fill-opacity="1"/>
<ellipse cx="131" cy="416" rx="8" ry="20" transform="rotate(-15 131 416)" fill="#4a0a20" fill-opacity="1"/>
<ellipse cx="211" cy="514" rx="25" ry="9" transform="rotate(40 211 514)" fill="#4a0a20" fill-opacity="1"/>
<ellipse cx="231" cy="577" rx="20" ry="8" transform="rotate(40 231 577)" fill="#6c1a38" fill-opacity="1"/>
<ellipse cx="136" cy="572" rx="15" ry="10" fill="#6c1a38" fill-opacity="1"/>
<ellipse cx="184" cy="587" rx="10" ry="10" fill="#4a0a20" fill-opacity="1"/>
<ellipse cx="126" cy="605" rx="18" ry="8" fill="#6c1a38" fill-opacity="1"/>
<ellipse cx="189" cy="632" rx="18" ry="10" fill="#6c1a38" fill-opacity="1"/>
<ellipse cx="397" cy="481" rx="25" ry="28" fill="#6c1a38" fill-opacity="1"/>
<ellipse cx="377" cy="557" rx="15" ry="18" fill="#6c1a38" fill-opacity="1"/>
<ellipse cx="387" cy="612" rx="18" ry="20" fill="#6c1a38" fill-opacity="1"/>
<ellipse cx="432" cy="592" rx="18" ry="13" fill="#783a52" fill-opacity="1"/>
<ellipse cx="457" cy="537" rx="23" ry="15" fill="#783a52" fill-opacity="1"/>
<ellipse cx="493" cy="557" rx="15" ry="10" fill="#6c1a38" fill-opacity="0.9"/>
<ellipse cx="505" cy="592" rx="23" ry="20" fill="#6c1a38" fill-opacity="1"/>
<ellipse cx="518" cy="527" rx="15" ry="13" fill="#783a52" fill-opacity="1"/>
<ellipse cx="548" cy="542" rx="10" ry="15" fill="#783a52" fill-opacity="0.9"/>
<ellipse cx="518" cy="441" rx="13" ry="10" fill="#783a52" fill-opacity="0.9"/>
<ellipse cx="478" cy="371" rx="23" ry="30" fill="#783a52" fill-opacity="0.9"/>
<ellipse cx="472" cy="632" rx="13" ry="10" fill="#6c1a38" fill-opacity="1"/>
<ellipse cx="598" cy="338" rx="18" ry="15" fill="#6c1a38" fill-opacity="1"/>
<ellipse cx="638" cy="363" rx="10" ry="10" fill="#6c1a38" fill-opacity="1"/>
<ellipse cx="669" cy="381" rx="8" ry="15" transform="rotate(-30 669 381)" fill="#4a0a20" fill-opacity="1"/>
<ellipse cx="616" cy="406" rx="8" ry="13" fill="#6c1a38" fill-opacity="1"/>
<ellipse cx="684" cy="446" rx="15" ry="10" fill="#4a0a20" fill-opacity="1"/>
<ellipse cx="618" cy="491" rx="8" ry="15" transform="rotate(-20 618 491)" fill="#4a0a20" fill-opacity="1"/>
<ellipse cx="646" cy="499" rx="10" ry="18" transform="rotate(-30 646 499)" fill="#4a0a20" fill-opacity="1"/>
<ellipse cx="696" cy="542" rx="8" ry="10" fill="#6c1a38" fill-opacity="1"/>
<ellipse cx="648" cy="627" rx="8" ry="13" fill="#6c1a38" fill-opacity="1"/>
</g></svg>
<svg style="position:absolute;left:93px;top:160.5px;overflow:hidden" width="135" height="123.8" viewBox="0 0 709 651" preserveAspectRatio="none">
<defs><filter id="fb1" x="-5%" y="-5%" width="110%" height="110%" color-interpolation-filters="sRGB"><feGaussianBlur stdDeviation="4"/></filter></defs>
<rect x="-20" y="-20" width="749" height="691" fill="#efe1e9"/>
<g filter="url(#fb1)">
<polygon points="297,215 340,205 355,223 358,300 370,350 395,370 410,330 420,280 460,250 520,240 562,260 560,300 510,330 480,380 460,430 430,452 382,455 340,440 315,400 300,330" fill="#deb2de" fill-opacity="1" stroke="#b474c4" stroke-width="3.5" stroke-linejoin="round"/>
<polygon points="206,0 327,0 302,40 262,75 241,126 211,151 191,191 161,236 126,272 80,302 0,322 0,282 40,272 101,262 141,221 161,176 181,126 196,65" fill="#deb2de" fill-opacity="1" stroke="#b474c4" stroke-width="3.5" stroke-linejoin="round"/>
<polygon points="282,0 357,0 357,60 330,40 300,30" fill="#deb2de" fill-opacity="0.9" stroke="#b474c4" stroke-width="3.5" stroke-linejoin="round"/>
<polyline points="302,65 320,90 340,115 357,141" fill="none" stroke="#deb2de" stroke-width="10" stroke-opacity="0.8" stroke-linecap="round" stroke-linejoin="round"/>
<polygon points="503,0 708,0 708,141 679,136 633,116 573,106 543,86 518,50" fill="#deb2de" fill-opacity="1" stroke="#b474c4" stroke-width="3.5" stroke-linejoin="round"/>
<polygon points="472,20 498,30 472,101 452,131 412,166 382,181 377,156 412,126 437,86 452,50" fill="#deb2de" fill-opacity="1" stroke="#b474c4" stroke-width="3.5" stroke-linejoin="round"/>
<ellipse cx="450" cy="199" rx="28" ry="26" fill="#bc8aac" fill-opacity="1"/>
<ellipse cx="407" cy="257" rx="30" ry="24" transform="rotate(-30 407 257)" fill="#bc8aac" fill-opacity="1"/>
<polygon points="452,226 518,216 553,251 593,282 623,312 623,325 452,325" fill="#deb2de" fill-opacity="1" stroke="#b474c4" stroke-width="3.5" stroke-linejoin="round"/>
<polygon points="352,175 370,170 372,230 352,240" fill="#deb2de" fill-opacity="0.8" stroke="#b474c4" stroke-width="3.5" stroke-linejoin="round"/>
<polygon points="0,323 86,338 126,373 136,449 101,474 80,514 75,559 101,580 50,595 25,625 75,651 0,651" fill="#deb2de" fill-opacity="1" stroke="#b474c4" stroke-width="3.5" stroke-linejoin="round"/>
<ellipse cx="186" cy="348" rx="35" ry="24" transform="rotate(-20 186 348)" fill="#bc8aac" fill-opacity="1"/>
<ellipse cx="282" cy="393" rx="24" ry="38" transform="rotate(-35 282 393)" fill="#bc8aac" fill-opacity="1"/>
<polygon points="302,323 357,323 357,450 330,430 305,380" fill="#deb2de" fill-opacity="1" stroke="#b474c4" stroke-width="3.5" stroke-linejoin="round"/>
<ellipse cx="322" cy="595" rx="28" ry="40" transform="rotate(-30 322 595)" fill="#bc8aac" fill-opacity="1"/>
<ellipse cx="342" cy="549" rx="15" ry="20" fill="#bc8aac" fill-opacity="1"/>
<polygon points="0,620 140,625 150,651 0,651" fill="#deb2de" fill-opacity="0.9" stroke="#b474c4" stroke-width="3.5" stroke-linejoin="round"/>
<polygon points="518,323 618,323 603,353 573,388 613,398 653,378 704,358 708,424 678,454 633,459 563,449 533,424 518,383" fill="#deb2de" fill-opacity="1" stroke="#b474c4" stroke-width="3.5" stroke-linejoin="round"/>
<polygon points="533,534 578,504 633,514 674,494 704,469 708,489 708,559 674,585 633,600 588,590 543,575" fill="#deb2de" fill-opacity="1" stroke="#b474c4" stroke-width="3.5" stroke-linejoin="round"/>
<ellipse cx="575" cy="555" rx="40" ry="30" fill="#e6c4e6" fill-opacity="0.7"/>
<ellipse cx="357" cy="559" rx="15" ry="25" fill="#bc8aac" fill-opacity="1"/>
<ellipse cx="493" cy="509" rx="13" ry="15" fill="#bc8aac" fill-opacity="1"/>
<ellipse cx="654" cy="456" rx="20" ry="15" fill="#bc8aac" fill-opacity="1"/>
<ellipse cx="314" cy="86" rx="18" ry="13" fill="#ee4678" fill-opacity="1"/>
<ellipse cx="287" cy="143" rx="10" ry="10" fill="#ee4678" fill-opacity="1"/>
<ellipse cx="226" cy="166" rx="13" ry="10" fill="#ee4678" fill-opacity="1"/>
<ellipse cx="236" cy="196" rx="13" ry="15" fill="#ee4678" fill-opacity="1"/>
<ellipse cx="272" cy="189" rx="15" ry="10" fill="#ee4678" fill-opacity="1"/>
<ellipse cx="284" cy="214" rx="13" ry="10" fill="#ee4678" fill-opacity="1"/>
<ellipse cx="176" cy="199" rx="13" ry="15" fill="#ee4678" fill-opacity="1"/>
<ellipse cx="176" cy="229" rx="15" ry="15" fill="#ee4678" fill-opacity="1"/>
<ellipse cx="229" cy="246" rx="13" ry="13" fill="#ee4678" fill-opacity="1"/>
<ellipse cx="201" cy="246" rx="8" ry="8" fill="#ee4678" fill-opacity="1"/>
<ellipse cx="15" cy="292" rx="15" ry="13" fill="#ee4678" fill-opacity="1"/>
<ellipse cx="332" cy="231" rx="10" ry="10" fill="#ee4678" fill-opacity="1"/>
<ellipse cx="447" cy="98" rx="15" ry="15" fill="#ee4678" fill-opacity="1"/>
<ellipse cx="460" cy="30" rx="8" ry="8" fill="#ee4678" fill-opacity="1"/>
<ellipse cx="460" cy="60" rx="5" ry="8" fill="#ee4678" fill-opacity="1"/>
<ellipse cx="649" cy="106" rx="10" ry="8" fill="#ee4678" fill-opacity="1"/>
<ellipse cx="679" cy="121" rx="13" ry="9" fill="#ee4678" fill-opacity="1"/>
<ellipse cx="405" cy="304" rx="15" ry="8" fill="#ee4678" fill-opacity="1"/>
<ellipse cx="472" cy="274" rx="5" ry="5" fill="#ee4678" fill-opacity="1"/>
<ellipse cx="513" cy="292" rx="5" ry="8" fill="#ee4678" fill-opacity="1"/>
<ellipse cx="45" cy="373" rx="15" ry="8" fill="#ee4678" fill-opacity="1"/>
<ellipse cx="70" cy="386" rx="10" ry="5" fill="#ee4678" fill-opacity="1"/>
<ellipse cx="116" cy="373" rx="8" ry="10" fill="#ee4678" fill-opacity="1"/>
<ellipse cx="126" cy="439" rx="13" ry="15" fill="#ee4678" fill-opacity="1"/>
<ellipse cx="43" cy="441" rx="10" ry="10" fill="#ee4678" fill-opacity="1"/>
<ellipse cx="50" cy="474" rx="15" ry="13" fill="#ee4678" fill-opacity="1"/>
<ellipse cx="13" cy="371" rx="8" ry="8" fill="#ee4678" fill-opacity="0.8"/>
<ellipse cx="324" cy="539" rx="10" ry="10" fill="#ee4678" fill-opacity="1"/>
<ellipse cx="60" cy="640" rx="10" ry="5" fill="#ee4678" fill-opacity="1"/>
<ellipse cx="483" cy="358" rx="13" ry="8" fill="#ee4678" fill-opacity="1"/>
<ellipse cx="498" cy="371" rx="10" ry="8" fill="#ee4678" fill-opacity="1"/>
<ellipse cx="535" cy="444" rx="10" ry="10" fill="#ee4678" fill-opacity="1"/>
<ellipse cx="603" cy="469" rx="13" ry="8" fill="#ee4678" fill-opacity="1"/>
<ellipse cx="513" cy="552" rx="13" ry="8" fill="#ee4678" fill-opacity="1"/>
<ellipse cx="649" cy="630" rx="13" ry="10" fill="#ee4678" fill-opacity="1"/>
<ellipse cx="699" cy="637" rx="10" ry="10" fill="#ee4678" fill-opacity="1"/>
<ellipse cx="221" cy="30" rx="13" ry="15" fill="#3c1a72" fill-opacity="1"/>
<ellipse cx="236" cy="83" rx="6" ry="20" transform="rotate(-10 236 83)" fill="#3c1a72" fill-opacity="1"/>
<ellipse cx="251" cy="48" rx="10" ry="10" fill="#3c1a72" fill-opacity="1"/>
<ellipse cx="241" cy="15" rx="8" ry="8" fill="#3c1a72" fill-opacity="1"/>
<ellipse cx="332" cy="106" rx="13" ry="13" fill="#3c1a72" fill-opacity="1"/>
<ellipse cx="322" cy="13" rx="8" ry="10" fill="#3c1a72" fill-opacity="1"/>
<ellipse cx="352" cy="191" rx="6" ry="8" fill="#3c1a72" fill-opacity="1"/>
<ellipse cx="103" cy="282" rx="13" ry="15" fill="#3c1a72" fill-opacity="1"/>
<ellipse cx="38" cy="277" rx="15" ry="10" fill="#3c1a72" fill-opacity="1"/>
<ellipse cx="314" cy="302" rx="10" ry="18" fill="#3c1a72" fill-opacity="1"/>
<ellipse cx="216" cy="322" rx="8" ry="5" fill="#3c1a72" fill-opacity="1"/>
<ellipse cx="530" cy="8" rx="10" ry="8" fill="#3c1a72" fill-opacity="1"/>
<ellipse cx="563" cy="80" rx="15" ry="10" transform="rotate(30 563 80)" fill="#3c1a72" fill-opacity="1"/>
<ellipse cx="686" cy="91" rx="13" ry="8" fill="#3c1a72" fill-opacity="1"/>
<ellipse cx="427" cy="133" rx="13" ry="15" fill="#3c1a72" fill-opacity="1"/>
<ellipse cx="518" cy="216" rx="13" ry="13" fill="#3c1a72" fill-opacity="1"/>
<ellipse cx="568" cy="287" rx="13" ry="13" fill="#3c1a72" fill-opacity="1"/>
<ellipse cx="445" cy="201" rx="15" ry="15" fill="#3c1a72" fill-opacity="1"/>
<ellipse cx="390" cy="264" rx="15" ry="13" fill="#3c1a72" fill-opacity="1"/>
<ellipse cx="151" cy="383" rx="13" ry="11" fill="#3c1a72" fill-opacity="1"/>
<ellipse cx="289" cy="406" rx="13" ry="10" fill="#3c1a72" fill-opacity="1"/>
<ellipse cx="332" cy="607" rx="10" ry="13" fill="#3c1a72" fill-opacity="1"/>
<ellipse cx="347" cy="554" rx="10" ry="13" fill="#3c1a72" fill-opacity="1"/>
<ellipse cx="15" cy="617" rx="15" ry="8" fill="#3c1a72" fill-opacity="1"/>
<ellipse cx="425" cy="346" rx="20" ry="13" fill="#3c1a72" fill-opacity="1"/>
<ellipse cx="382" cy="421" rx="13" ry="13" fill="#3c1a72" fill-opacity="1"/>
<ellipse cx="664" cy="416" rx="20" ry="10" transform="rotate(-40 664 416)" fill="#3c1a72" fill-opacity="1"/>
<ellipse cx="613" cy="534" rx="10" ry="10" fill="#3c1a72" fill-opacity="1"/>
<ellipse cx="646" cy="544" rx="10" ry="8" fill="#3c1a72" fill-opacity="1"/>
<ellipse cx="679" cy="529" rx="15" ry="10" fill="#3c1a72" fill-opacity="1"/>
<ellipse cx="473" cy="393" rx="10" ry="13" fill="#3c1a72" fill-opacity="1"/>
<ellipse cx="503" cy="444" rx="5" ry="15" transform="rotate(30 503 444)" fill="#3c1a72" fill-opacity="1"/>
<ellipse cx="510" cy="479" rx="13" ry="15" fill="#3c1a72" fill-opacity="1"/>
</g></svg>
<svg style="position:absolute;left:401.7px;top:160.5px;overflow:hidden" width="134.5" height="123.8" viewBox="0 0 709 651" preserveAspectRatio="none">
<defs><filter id="fa1" x="-5%" y="-5%" width="110%" height="110%" color-interpolation-filters="sRGB"><feGaussianBlur stdDeviation="4"/></filter></defs>
<rect x="-20" y="-20" width="749" height="691" fill="#71957b"/>
<g filter="url(#fa1)">
<polygon points="297,215 340,205 355,223 358,300 370,350 395,370 410,330 420,280 460,250 520,240 562,260 560,300 510,330 480,380 460,430 430,452 382,455 340,440 315,400 300,330" fill="#847884" fill-opacity="1" stroke="#7a4a70" stroke-width="3.5" stroke-linejoin="round"/>
<polygon points="206,0 327,0 302,40 262,75 241,126 211,151 191,191 161,236 126,272 80,302 0,322 0,282 40,272 101,262 141,221 161,176 181,126 196,65" fill="#847884" fill-opacity="1" stroke="#7a4a70" stroke-width="3.5" stroke-linejoin="round"/>
<polygon points="282,0 357,0 357,60 330,40 300,30" fill="#847884" fill-opacity="0.9" stroke="#7a4a70" stroke-width="3.5" stroke-linejoin="round"/>
<polyline points="302,65 320,90 340,115 357,141" fill="none" stroke="#847884" stroke-width="10" stroke-opacity="0.8" stroke-linecap="round" stroke-linejoin="round"/>
<polygon points="503,0 708,0 708,141 679,136 633,116 573,106 543,86 518,50" fill="#847884" fill-opacity="1" stroke="#7a4a70" stroke-width="3.5" stroke-linejoin="round"/>
<polygon points="472,20 498,30 472,101 452,131 412,166 382,181 377,156 412,126 437,86 452,50" fill="#847884" fill-opacity="1" stroke="#7a4a70" stroke-width="3.5" stroke-linejoin="round"/>
<ellipse cx="450" cy="199" rx="28" ry="26" fill="#7c5068" fill-opacity="1"/>
<ellipse cx="407" cy="257" rx="30" ry="24" transform="rotate(-30 407 257)" fill="#7c5068" fill-opacity="1"/>
<polygon points="452,226 518,216 553,251 593,282 623,312 623,325 452,325" fill="#847884" fill-opacity="1" stroke="#7a4a70" stroke-width="3.5" stroke-linejoin="round"/>
<polygon points="352,175 370,170 372,230 352,240" fill="#847884" fill-opacity="0.8" stroke="#7a4a70" stroke-width="3.5" stroke-linejoin="round"/>
<polygon points="0,323 86,338 126,373 136,449 101,474 80,514 75,559 101,580 50,595 25,625 75,651 0,651" fill="#847884" fill-opacity="1" stroke="#7a4a70" stroke-width="3.5" stroke-linejoin="round"/>
<ellipse cx="186" cy="348" rx="35" ry="24" transform="rotate(-20 186 348)" fill="#7c5068" fill-opacity="1"/>
<ellipse cx="282" cy="393" rx="24" ry="38" transform="rotate(-35 282 393)" fill="#7c5068" fill-opacity="1"/>
<polygon points="302,323 357,323 357,450 330,430 305,380" fill="#847884" fill-opacity="1" stroke="#7a4a70" stroke-width="3.5" stroke-linejoin="round"/>
<ellipse cx="322" cy="595" rx="28" ry="40" transform="rotate(-30 322 595)" fill="#7c5068" fill-opacity="1"/>
<ellipse cx="342" cy="549" rx="15" ry="20" fill="#7c5068" fill-opacity="1"/>
<polygon points="0,620 140,625 150,651 0,651" fill="#847884" fill-opacity="0.9" stroke="#7a4a70" stroke-width="3.5" stroke-linejoin="round"/>
<polygon points="518,323 618,323 603,353 573,388 613,398 653,378 704,358 708,424 678,454 633,459 563,449 533,424 518,383" fill="#847884" fill-opacity="1" stroke="#7a4a70" stroke-width="3.5" stroke-linejoin="round"/>
<polygon points="533,534 578,504 633,514 674,494 704,469 708,489 708,559 674,585 633,600 588,590 543,575" fill="#847884" fill-opacity="1" stroke="#7a4a70" stroke-width="3.5" stroke-linejoin="round"/>
<ellipse cx="575" cy="555" rx="40" ry="30" fill="#7e8884" fill-opacity="0.7"/>
<ellipse cx="357" cy="559" rx="15" ry="25" fill="#7c5068" fill-opacity="1"/>
<ellipse cx="493" cy="509" rx="13" ry="15" fill="#7c5068" fill-opacity="1"/>
<ellipse cx="654" cy="456" rx="20" ry="15" fill="#7c5068" fill-opacity="1"/>
<ellipse cx="314" cy="86" rx="18" ry="13" fill="#4838c4" fill-opacity="1"/>
<ellipse cx="287" cy="143" rx="10" ry="10" fill="#4838c4" fill-opacity="1"/>
<ellipse cx="226" cy="166" rx="13" ry="10" fill="#4838c4" fill-opacity="1"/>
<ellipse cx="236" cy="196" rx="13" ry="15" fill="#4838c4" fill-opacity="1"/>
<ellipse cx="272" cy="189" rx="15" ry="10" fill="#4838c4" fill-opacity="1"/>
<ellipse cx="284" cy="214" rx="13" ry="10" fill="#4838c4" fill-opacity="1"/>
<ellipse cx="176" cy="199" rx="13" ry="15" fill="#4838c4" fill-opacity="1"/>
<ellipse cx="176" cy="229" rx="15" ry="15" fill="#4838c4" fill-opacity="1"/>
<ellipse cx="229" cy="246" rx="13" ry="13" fill="#4838c4" fill-opacity="1"/>
<ellipse cx="201" cy="246" rx="8" ry="8" fill="#4838c4" fill-opacity="1"/>
<ellipse cx="15" cy="292" rx="15" ry="13" fill="#4838c4" fill-opacity="1"/>
<ellipse cx="332" cy="231" rx="10" ry="10" fill="#4838c4" fill-opacity="1"/>
<ellipse cx="447" cy="98" rx="15" ry="15" fill="#4838c4" fill-opacity="1"/>
<ellipse cx="460" cy="30" rx="8" ry="8" fill="#4838c4" fill-opacity="1"/>
<ellipse cx="460" cy="60" rx="5" ry="8" fill="#4838c4" fill-opacity="1"/>
<ellipse cx="649" cy="106" rx="10" ry="8" fill="#4838c4" fill-opacity="1"/>
<ellipse cx="679" cy="121" rx="13" ry="9" fill="#4838c4" fill-opacity="1"/>
<ellipse cx="405" cy="304" rx="15" ry="8" fill="#4838c4" fill-opacity="1"/>
<ellipse cx="472" cy="274" rx="5" ry="5" fill="#4838c4" fill-opacity="1"/>
<ellipse cx="513" cy="292" rx="5" ry="8" fill="#4838c4" fill-opacity="1"/>
<ellipse cx="45" cy="373" rx="15" ry="8" fill="#4838c4" fill-opacity="1"/>
<ellipse cx="70" cy="386" rx="10" ry="5" fill="#4838c4" fill-opacity="1"/>
<ellipse cx="116" cy="373" rx="8" ry="10" fill="#4838c4" fill-opacity="1"/>
<ellipse cx="126" cy="439" rx="13" ry="15" fill="#4838c4" fill-opacity="1"/>
<ellipse cx="43" cy="441" rx="10" ry="10" fill="#4838c4" fill-opacity="1"/>
<ellipse cx="50" cy="474" rx="15" ry="13" fill="#4838c4" fill-opacity="1"/>
<ellipse cx="13" cy="371" rx="8" ry="8" fill="#4838c4" fill-opacity="0.8"/>
<ellipse cx="324" cy="539" rx="10" ry="10" fill="#4838c4" fill-opacity="1"/>
<ellipse cx="60" cy="640" rx="10" ry="5" fill="#4838c4" fill-opacity="1"/>
<ellipse cx="483" cy="358" rx="13" ry="8" fill="#4838c4" fill-opacity="1"/>
<ellipse cx="498" cy="371" rx="10" ry="8" fill="#4838c4" fill-opacity="1"/>
<ellipse cx="535" cy="444" rx="10" ry="10" fill="#4838c4" fill-opacity="1"/>
<ellipse cx="603" cy="469" rx="13" ry="8" fill="#4838c4" fill-opacity="1"/>
<ellipse cx="513" cy="552" rx="13" ry="8" fill="#4838c4" fill-opacity="1"/>
<ellipse cx="649" cy="630" rx="13" ry="10" fill="#4838c4" fill-opacity="1"/>
<ellipse cx="699" cy="637" rx="10" ry="10" fill="#4838c4" fill-opacity="1"/>
<ellipse cx="221" cy="30" rx="13" ry="15" fill="#5a1030" fill-opacity="1"/>
<ellipse cx="236" cy="83" rx="6" ry="20" transform="rotate(-10 236 83)" fill="#5a1030" fill-opacity="1"/>
<ellipse cx="251" cy="48" rx="10" ry="10" fill="#5a1030" fill-opacity="1"/>
<ellipse cx="241" cy="15" rx="8" ry="8" fill="#5a1030" fill-opacity="1"/>
<ellipse cx="332" cy="106" rx="13" ry="13" fill="#5a1030" fill-opacity="1"/>
<ellipse cx="322" cy="13" rx="8" ry="10" fill="#5a1030" fill-opacity="1"/>
<ellipse cx="352" cy="191" rx="6" ry="8" fill="#5a1030" fill-opacity="1"/>
<ellipse cx="103" cy="282" rx="13" ry="15" fill="#5a1030" fill-opacity="1"/>
<ellipse cx="38" cy="277" rx="15" ry="10" fill="#5a1030" fill-opacity="1"/>
<ellipse cx="314" cy="302" rx="10" ry="18" fill="#5a1030" fill-opacity="1"/>
<ellipse cx="216" cy="322" rx="8" ry="5" fill="#5a1030" fill-opacity="1"/>
<ellipse cx="530" cy="8" rx="10" ry="8" fill="#5a1030" fill-opacity="1"/>
<ellipse cx="563" cy="80" rx="15" ry="10" transform="rotate(30 563 80)" fill="#5a1030" fill-opacity="1"/>
<ellipse cx="686" cy="91" rx="13" ry="8" fill="#5a1030" fill-opacity="1"/>
<ellipse cx="427" cy="133" rx="13" ry="15" fill="#5a1030" fill-opacity="1"/>
<ellipse cx="518" cy="216" rx="13" ry="13" fill="#5a1030" fill-opacity="1"/>
<ellipse cx="568" cy="287" rx="13" ry="13" fill="#5a1030" fill-opacity="1"/>
<ellipse cx="445" cy="201" rx="15" ry="15" fill="#5a1030" fill-opacity="1"/>
<ellipse cx="390" cy="264" rx="15" ry="13" fill="#5a1030" fill-opacity="1"/>
<ellipse cx="151" cy="383" rx="13" ry="11" fill="#5a1030" fill-opacity="1"/>
<ellipse cx="289" cy="406" rx="13" ry="10" fill="#5a1030" fill-opacity="1"/>
<ellipse cx="332" cy="607" rx="10" ry="13" fill="#5a1030" fill-opacity="1"/>
<ellipse cx="347" cy="554" rx="10" ry="13" fill="#5a1030" fill-opacity="1"/>
<ellipse cx="15" cy="617" rx="15" ry="8" fill="#5a1030" fill-opacity="1"/>
<ellipse cx="425" cy="346" rx="20" ry="13" fill="#5a1030" fill-opacity="1"/>
<ellipse cx="382" cy="421" rx="13" ry="13" fill="#5a1030" fill-opacity="1"/>
<ellipse cx="664" cy="416" rx="20" ry="10" transform="rotate(-40 664 416)" fill="#5a1030" fill-opacity="1"/>
<ellipse cx="613" cy="534" rx="10" ry="10" fill="#5a1030" fill-opacity="1"/>
<ellipse cx="646" cy="544" rx="10" ry="8" fill="#5a1030" fill-opacity="1"/>
<ellipse cx="679" cy="529" rx="15" ry="10" fill="#5a1030" fill-opacity="1"/>
<ellipse cx="473" cy="393" rx="10" ry="13" fill="#5a1030" fill-opacity="1"/>
<ellipse cx="503" cy="444" rx="5" ry="15" transform="rotate(30 503 444)" fill="#5a1030" fill-opacity="1"/>
<ellipse cx="510" cy="479" rx="13" ry="15" fill="#5a1030" fill-opacity="1"/>
</g></svg>
<svg style="position:absolute;left:93px;top:294px;overflow:hidden" width="135" height="123.8" viewBox="0 0 709 651" preserveAspectRatio="none">
<defs><filter id="fb2" x="-5%" y="-5%" width="110%" height="110%" color-interpolation-filters="sRGB"><feGaussianBlur stdDeviation="4"/></filter></defs>
<rect x="-20" y="-20" width="749" height="691" fill="#aa84dc"/>
<g filter="url(#fb2)">
<polygon points="427,0 708,0 708,141 640,150 560,100 480,40" fill="#bd9fe4" fill-opacity="0.9"/>
<polygon points="0,0 30,0 30,150 0,150" fill="#bd9fe4" fill-opacity="0.6"/>
<polyline points="330,400 280,480 230,560 200,640" fill="none" stroke="#bd9fe4" stroke-width="18" stroke-opacity="0.6" stroke-linecap="round" stroke-linejoin="round"/>
<ellipse cx="75" cy="35" rx="28" ry="22" fill="#6e56c4" fill-opacity="1"/>
<ellipse cx="126" cy="30" rx="24" ry="22" fill="#8a6ed0" fill-opacity="1"/>
<ellipse cx="236" cy="25" rx="30" ry="30" fill="#6e56c4" fill-opacity="1"/>
<ellipse cx="60" cy="101" rx="37" ry="28" fill="#8a6ed0" fill-opacity="1"/>
<ellipse cx="201" cy="101" rx="30" ry="37" fill="#6e56c4" fill-opacity="1"/>
<ellipse cx="262" cy="106" rx="24" ry="28" fill="#8a6ed0" fill-opacity="1"/>
<ellipse cx="342" cy="101" rx="24" ry="33" fill="#6e56c4" fill-opacity="1"/>
<ellipse cx="121" cy="176" rx="46" ry="40" fill="#6e56c4" fill-opacity="1"/>
<ellipse cx="101" cy="221" rx="40" ry="33" fill="#6e56c4" fill-opacity="1"/>
<ellipse cx="50" cy="246" rx="30" ry="22" fill="#8a6ed0" fill-opacity="1"/>
<ellipse cx="221" cy="241" rx="33" ry="30" fill="#6e56c4" fill-opacity="1"/>
<ellipse cx="166" cy="292" rx="24" ry="28" fill="#6e56c4" fill-opacity="1"/>
<ellipse cx="96" cy="292" rx="24" ry="18" fill="#8a6ed0" fill-opacity="1"/>
<ellipse cx="342" cy="151" rx="22" ry="24" fill="#6e56c4" fill-opacity="1"/>
<ellipse cx="347" cy="221" rx="16" ry="18" fill="#6e56c4" fill-opacity="1"/>
<ellipse cx="226" cy="307" rx="24" ry="18" fill="#6e56c4" fill-opacity="1"/>
<ellipse cx="141" cy="111" rx="13" ry="8" transform="rotate(30 141 111)" fill="#3a1a80" fill-opacity="1"/>
<ellipse cx="45" cy="166" rx="6" ry="18" transform="rotate(20 45 166)" fill="#3a1a80" fill-opacity="1"/>
<ellipse cx="538" cy="8" rx="30" ry="16" fill="#6e56c4" fill-opacity="1"/>
<ellipse cx="432" cy="70" rx="33" ry="30" fill="#6e56c4" fill-opacity="1"/>
<ellipse cx="352" cy="106" rx="16" ry="30" fill="#6e56c4" fill-opacity="1"/>
<ellipse cx="422" cy="121" rx="28" ry="28" fill="#6e56c4" fill-opacity="1"/>
<ellipse cx="382" cy="136" rx="22" ry="24" fill="#6e56c4" fill-opacity="1"/>
<ellipse cx="472" cy="156" rx="33" ry="30" fill="#6e56c4" fill-opacity="1"/>
<ellipse cx="367" cy="166" rx="24" ry="22" fill="#6e56c4" fill-opacity="1"/>
<ellipse cx="440" cy="191" rx="28" ry="22" fill="#8a6ed0" fill-opacity="1"/>
<ellipse cx="387" cy="206" rx="24" ry="22" fill="#6e56c4" fill-opacity="1"/>
<ellipse cx="432" cy="241" rx="33" ry="24" fill="#6e56c4" fill-opacity="1"/>
<ellipse cx="382" cy="251" rx="24" ry="24" fill="#6e56c4" fill-opacity="1"/>
<ellipse cx="583" cy="216" rx="24" ry="33" fill="#6e56c4" fill-opacity="1"/>
<ellipse cx="659" cy="45" rx="24" ry="30" fill="#6e56c4" fill-opacity="1"/>
<ellipse cx="684" cy="25" rx="18" ry="28" fill="#6e56c4" fill-opacity="1"/>
<ellipse cx="674" cy="136" rx="18" ry="16" fill="#6e56c4" fill-opacity="1"/>
<ellipse cx="538" cy="70" rx="18" ry="12" fill="#6e56c4" fill-opacity="1"/>
<ellipse cx="583" cy="121" rx="22" ry="12" transform="rotate(30 583 121)" fill="#6e56c4" fill-opacity="1"/>
<ellipse cx="654" cy="161" rx="10" ry="8" fill="#3a1a80" fill-opacity="1"/>
<ellipse cx="669" cy="171" rx="8" ry="6" fill="#3a1a80" fill-opacity="1"/>
<ellipse cx="664" cy="279" rx="22" ry="24" fill="#6e56c4" fill-opacity="1"/>
<ellipse cx="623" cy="241" rx="12" ry="18" fill="#8a6ed0" fill-opacity="1"/>
<ellipse cx="528" cy="302" rx="37" ry="24" fill="#8a6ed0" fill-opacity="1"/>
<ellipse cx="588" cy="312" rx="24" ry="16" fill="#8a6ed0" fill-opacity="1"/>
<ellipse cx="543" cy="25" rx="20" ry="15" fill="#e4dcf6" fill-opacity="1"/>
<ellipse cx="578" cy="45" rx="13" ry="10" fill="#e4dcf6" fill-opacity="1"/>
<ellipse cx="503" cy="40" rx="15" ry="8" fill="#e4dcf6" fill-opacity="0.8"/>
<ellipse cx="588" cy="166" rx="15" ry="13" fill="#e4dcf6" fill-opacity="0.8"/>
<ellipse cx="618" cy="191" rx="10" ry="8" fill="#e4dcf6" fill-opacity="1"/>
<ellipse cx="623" cy="146" rx="8" ry="8" fill="#e4dcf6" fill-opacity="0.8"/>
<ellipse cx="299" cy="262" rx="10" ry="10" fill="#e4dcf6" fill-opacity="1"/>
<ellipse cx="661" cy="108" rx="10" ry="8" fill="#e04070" fill-opacity="1"/>
<ellipse cx="70" cy="371" rx="24" ry="33" fill="#6e56c4" fill-opacity="1"/>
<ellipse cx="25" cy="406" rx="37" ry="24" fill="#6e56c4" fill-opacity="1"/>
<ellipse cx="206" cy="381" rx="33" ry="28" fill="#6e56c4" fill-opacity="1"/>
<ellipse cx="277" cy="396" rx="28" ry="40" fill="#6e56c4" fill-opacity="1"/>
<ellipse cx="317" cy="451" rx="24" ry="49" transform="rotate(20 317 451)" fill="#6e56c4" fill-opacity="1"/>
<ellipse cx="70" cy="466" rx="33" ry="30" fill="#6e56c4" fill-opacity="1"/>
<ellipse cx="15" cy="461" rx="24" ry="28" fill="#6e56c4" fill-opacity="1"/>
<ellipse cx="146" cy="431" rx="18" ry="37" fill="#8a6ed0" fill-opacity="1"/>
<ellipse cx="216" cy="517" rx="40" ry="28" fill="#6e56c4" fill-opacity="1"/>
<ellipse cx="236" cy="476" rx="24" ry="16" fill="#8a6ed0" fill-opacity="1"/>
<ellipse cx="20" cy="512" rx="28" ry="22" fill="#6e56c4" fill-opacity="1"/>
<ellipse cx="55" cy="557" rx="49" ry="54" fill="#6e56c4" fill-opacity="1"/>
<ellipse cx="15" cy="587" rx="24" ry="18" fill="#6e56c4" fill-opacity="1"/>
<ellipse cx="86" cy="607" rx="28" ry="24" fill="#6e56c4" fill-opacity="1"/>
<ellipse cx="151" cy="582" rx="30" ry="30" fill="#6e56c4" fill-opacity="1"/>
<ellipse cx="231" cy="587" rx="24" ry="22" fill="#8a6ed0" fill-opacity="1"/>
<ellipse cx="297" cy="597" rx="15" ry="18" fill="#3a1a80" fill-opacity="1"/>
<ellipse cx="347" cy="567" rx="16" ry="30" fill="#6e56c4" fill-opacity="1"/>
<ellipse cx="312" cy="341" rx="8" ry="10" fill="#3a1a80" fill-opacity="1"/>
<ellipse cx="151" cy="627" rx="12" ry="12" fill="#6e56c4" fill-opacity="1"/>
<ellipse cx="186" cy="632" rx="18" ry="12" fill="#6e56c4" fill-opacity="1"/>
<ellipse cx="201" cy="434" rx="28" ry="28" fill="#e4dcf6" fill-opacity="1"/>
<ellipse cx="214" cy="439" rx="13" ry="13" fill="#3a1a80" fill-opacity="1"/>
<ellipse cx="126" cy="481" rx="13" ry="13" fill="#e4dcf6" fill-opacity="1"/>
<ellipse cx="146" cy="587" rx="10" ry="8" fill="#e4dcf6" fill-opacity="0.8"/>
<ellipse cx="153" cy="569" rx="13" ry="8" fill="#e04070" fill-opacity="1"/>
<ellipse cx="80" cy="371" rx="12" ry="15" fill="#3a1a80" fill-opacity="0.4"/>
<ellipse cx="387" cy="376" rx="37" ry="28" fill="#6e56c4" fill-opacity="1"/>
<ellipse cx="553" cy="346" rx="37" ry="24" fill="#6e56c4" fill-opacity="1"/>
<ellipse cx="382" cy="426" rx="33" ry="28" fill="#6e56c4" fill-opacity="1"/>
<ellipse cx="447" cy="436" rx="33" ry="28" fill="#6e56c4" fill-opacity="1"/>
<ellipse cx="452" cy="396" rx="18" ry="16" fill="#8a6ed0" fill-opacity="1"/>
<ellipse cx="477" cy="361" rx="24" ry="16" fill="#8a6ed0" fill-opacity="1"/>
<ellipse cx="563" cy="416" rx="37" ry="22" transform="rotate(20 563 416)" fill="#6e56c4" fill-opacity="1"/>
<ellipse cx="603" cy="406" rx="30" ry="24" fill="#6e56c4" fill-opacity="1"/>
<ellipse cx="638" cy="381" rx="30" ry="24" fill="#6e56c4" fill-opacity="1"/>
<ellipse cx="684" cy="431" rx="24" ry="49" fill="#6e56c4" fill-opacity="1"/>
<ellipse cx="563" cy="486" rx="37" ry="24" fill="#6e56c4" fill-opacity="1"/>
<ellipse cx="402" cy="512" rx="30" ry="30" fill="#6e56c4" fill-opacity="1"/>
<ellipse cx="432" cy="547" rx="37" ry="28" fill="#6e56c4" fill-opacity="1"/>
<ellipse cx="518" cy="537" rx="30" ry="24" fill="#6e56c4" fill-opacity="1"/>
<ellipse cx="493" cy="507" rx="18" ry="12" fill="#8a6ed0" fill-opacity="1"/>
<ellipse cx="608" cy="537" rx="33" ry="24" fill="#6e56c4" fill-opacity="1"/>
<ellipse cx="588" cy="567" rx="18" ry="18" fill="#6e56c4" fill-opacity="1"/>
<ellipse cx="633" cy="582" rx="28" ry="18" fill="#6e56c4" fill-opacity="1"/>
<ellipse cx="457" cy="584" rx="18" ry="13" fill="#3a1a80" fill-opacity="0.8"/>
<ellipse cx="543" cy="584" rx="18" ry="18" fill="#3a1a80" fill-opacity="1"/>
<ellipse cx="447" cy="617" rx="28" ry="22" fill="#6e56c4" fill-opacity="1"/>
<ellipse cx="669" cy="622" rx="24" ry="18" fill="#6e56c4" fill-opacity="1"/>
<ellipse cx="362" cy="557" rx="18" ry="24" fill="#6e56c4" fill-opacity="1"/>
<ellipse cx="513" cy="441" rx="15" ry="15" fill="#e4dcf6" fill-opacity="0.9"/>
<ellipse cx="689" cy="501" rx="13" ry="13" fill="#e4dcf6" fill-opacity="1"/>
<ellipse cx="684" cy="577" rx="8" ry="10" fill="#e4dcf6" fill-opacity="0.8"/>
<ellipse cx="407" cy="459" rx="8" ry="5" fill="#e4dcf6" fill-opacity="0.7"/>
</g></svg>
<svg style="position:absolute;left:401.7px;top:294px;overflow:hidden" width="134.5" height="123.8" viewBox="0 0 709 651" preserveAspectRatio="none">
<defs><filter id="fa2" x="-5%" y="-5%" width="110%" height="110%" color-interpolation-filters="sRGB"><feGaussianBlur stdDeviation="4"/></filter></defs>
<rect x="-20" y="-20" width="749" height="691" fill="#6c7470"/>
<g filter="url(#fa2)">
<polygon points="427,0 708,0 708,141 640,150 560,100 480,40" fill="#74887c" fill-opacity="0.9"/>
<polygon points="0,0 30,0 30,150 0,150" fill="#74887c" fill-opacity="0.6"/>
<polyline points="330,400 280,480 230,560 200,640" fill="none" stroke="#74887c" stroke-width="18" stroke-opacity="0.6" stroke-linecap="round" stroke-linejoin="round"/>
<ellipse cx="75" cy="35" rx="28" ry="22" fill="#683c46" fill-opacity="1"/>
<ellipse cx="126" cy="30" rx="24" ry="22" fill="#6c5258" fill-opacity="1"/>
<ellipse cx="236" cy="25" rx="30" ry="30" fill="#683c46" fill-opacity="1"/>
<ellipse cx="60" cy="101" rx="37" ry="28" fill="#6c5258" fill-opacity="1"/>
<ellipse cx="201" cy="101" rx="30" ry="37" fill="#683c46" fill-opacity="1"/>
<ellipse cx="262" cy="106" rx="24" ry="28" fill="#6c5258" fill-opacity="1"/>
<ellipse cx="342" cy="101" rx="24" ry="33" fill="#683c46" fill-opacity="1"/>
<ellipse cx="121" cy="176" rx="46" ry="40" fill="#683c46" fill-opacity="1"/>
<ellipse cx="101" cy="221" rx="40" ry="33" fill="#683c46" fill-opacity="1"/>
<ellipse cx="50" cy="246" rx="30" ry="22" fill="#6c5258" fill-opacity="1"/>
<ellipse cx="221" cy="241" rx="33" ry="30" fill="#683c46" fill-opacity="1"/>
<ellipse cx="166" cy="292" rx="24" ry="28" fill="#683c46" fill-opacity="1"/>
<ellipse cx="96" cy="292" rx="24" ry="18" fill="#6c5258" fill-opacity="1"/>
<ellipse cx="342" cy="151" rx="22" ry="24" fill="#683c46" fill-opacity="1"/>
<ellipse cx="347" cy="221" rx="16" ry="18" fill="#683c46" fill-opacity="1"/>
<ellipse cx="226" cy="307" rx="24" ry="18" fill="#683c46" fill-opacity="1"/>
<ellipse cx="141" cy="111" rx="13" ry="8" transform="rotate(30 141 111)" fill="#3a0818" fill-opacity="1"/>
<ellipse cx="45" cy="166" rx="6" ry="18" transform="rotate(20 45 166)" fill="#3a0818" fill-opacity="1"/>
<ellipse cx="538" cy="8" rx="30" ry="16" fill="#683c46" fill-opacity="1"/>
<ellipse cx="432" cy="70" rx="33" ry="30" fill="#683c46" fill-opacity="1"/>
<ellipse cx="352" cy="106" rx="16" ry="30" fill="#683c46" fill-opacity="1"/>
<ellipse cx="422" cy="121" rx="28" ry="28" fill="#683c46" fill-opacity="1"/>
<ellipse cx="382" cy="136" rx="22" ry="24" fill="#683c46" fill-opacity="1"/>
<ellipse cx="472" cy="156" rx="33" ry="30" fill="#683c46" fill-opacity="1"/>
<ellipse cx="367" cy="166" rx="24" ry="22" fill="#683c46" fill-opacity="1"/>
<ellipse cx="440" cy="191" rx="28" ry="22" fill="#6c5258" fill-opacity="1"/>
<ellipse cx="387" cy="206" rx="24" ry="22" fill="#683c46" fill-opacity="1"/>
<ellipse cx="432" cy="241" rx="33" ry="24" fill="#683c46" fill-opacity="1"/>
<ellipse cx="382" cy="251" rx="24" ry="24" fill="#683c46" fill-opacity="1"/>
<ellipse cx="583" cy="216" rx="24" ry="33" fill="#683c46" fill-opacity="1"/>
<ellipse cx="659" cy="45" rx="24" ry="30" fill="#683c46" fill-opacity="1"/>
<ellipse cx="684" cy="25" rx="18" ry="28" fill="#683c46" fill-opacity="1"/>
<ellipse cx="674" cy="136" rx="18" ry="16" fill="#683c46" fill-opacity="1"/>
<ellipse cx="538" cy="70" rx="18" ry="12" fill="#683c46" fill-opacity="1"/>
<ellipse cx="583" cy="121" rx="22" ry="12" transform="rotate(30 583 121)" fill="#683c46" fill-opacity="1"/>
<ellipse cx="654" cy="161" rx="10" ry="8" fill="#3a0818" fill-opacity="1"/>
<ellipse cx="669" cy="171" rx="8" ry="6" fill="#3a0818" fill-opacity="1"/>
<ellipse cx="664" cy="279" rx="22" ry="24" fill="#683c46" fill-opacity="1"/>
<ellipse cx="623" cy="241" rx="12" ry="18" fill="#6c5258" fill-opacity="1"/>
<ellipse cx="528" cy="302" rx="37" ry="24" fill="#6c5258" fill-opacity="1"/>
<ellipse cx="588" cy="312" rx="24" ry="16" fill="#6c5258" fill-opacity="1"/>
<ellipse cx="543" cy="25" rx="20" ry="15" fill="#84d0a4" fill-opacity="1"/>
<ellipse cx="578" cy="45" rx="13" ry="10" fill="#84d0a4" fill-opacity="1"/>
<ellipse cx="503" cy="40" rx="15" ry="8" fill="#84d0a4" fill-opacity="0.8"/>
<ellipse cx="588" cy="166" rx="15" ry="13" fill="#84d0a4" fill-opacity="0.8"/>
<ellipse cx="618" cy="191" rx="10" ry="8" fill="#84d0a4" fill-opacity="1"/>
<ellipse cx="623" cy="146" rx="8" ry="8" fill="#84d0a4" fill-opacity="0.8"/>
<ellipse cx="299" cy="262" rx="10" ry="10" fill="#84d0a4" fill-opacity="1"/>
<ellipse cx="661" cy="108" rx="10" ry="8" fill="#4848d0" fill-opacity="1"/>
<ellipse cx="70" cy="371" rx="24" ry="33" fill="#683c46" fill-opacity="1"/>
<ellipse cx="25" cy="406" rx="37" ry="24" fill="#683c46" fill-opacity="1"/>
<ellipse cx="206" cy="381" rx="33" ry="28" fill="#683c46" fill-opacity="1"/>
<ellipse cx="277" cy="396" rx="28" ry="40" fill="#683c46" fill-opacity="1"/>
<ellipse cx="317" cy="451" rx="24" ry="49" transform="rotate(20 317 451)" fill="#683c46" fill-opacity="1"/>
<ellipse cx="70" cy="466" rx="33" ry="30" fill="#683c46" fill-opacity="1"/>
<ellipse cx="15" cy="461" rx="24" ry="28" fill="#683c46" fill-opacity="1"/>
<ellipse cx="146" cy="431" rx="18" ry="37" fill="#6c5258" fill-opacity="1"/>
<ellipse cx="216" cy="517" rx="40" ry="28" fill="#683c46" fill-opacity="1"/>
<ellipse cx="236" cy="476" rx="24" ry="16" fill="#6c5258" fill-opacity="1"/>
<ellipse cx="20" cy="512" rx="28" ry="22" fill="#683c46" fill-opacity="1"/>
<ellipse cx="55" cy="557" rx="49" ry="54" fill="#683c46" fill-opacity="1"/>
<ellipse cx="15" cy="587" rx="24" ry="18" fill="#683c46" fill-opacity="1"/>
<ellipse cx="86" cy="607" rx="28" ry="24" fill="#683c46" fill-opacity="1"/>
<ellipse cx="151" cy="582" rx="30" ry="30" fill="#683c46" fill-opacity="1"/>
<ellipse cx="231" cy="587" rx="24" ry="22" fill="#6c5258" fill-opacity="1"/>
<ellipse cx="297" cy="597" rx="15" ry="18" fill="#3a0818" fill-opacity="1"/>
<ellipse cx="347" cy="567" rx="16" ry="30" fill="#683c46" fill-opacity="1"/>
<ellipse cx="312" cy="341" rx="8" ry="10" fill="#3a0818" fill-opacity="1"/>
<ellipse cx="151" cy="627" rx="12" ry="12" fill="#683c46" fill-opacity="1"/>
<ellipse cx="186" cy="632" rx="18" ry="12" fill="#683c46" fill-opacity="1"/>
<ellipse cx="201" cy="434" rx="28" ry="28" fill="#84d0a4" fill-opacity="1"/>
<ellipse cx="214" cy="439" rx="13" ry="13" fill="#3a0818" fill-opacity="1"/>
<ellipse cx="126" cy="481" rx="13" ry="13" fill="#84d0a4" fill-opacity="1"/>
<ellipse cx="146" cy="587" rx="10" ry="8" fill="#84d0a4" fill-opacity="0.8"/>
<ellipse cx="153" cy="569" rx="13" ry="8" fill="#4848d0" fill-opacity="1"/>
<ellipse cx="80" cy="371" rx="12" ry="15" fill="#3a0818" fill-opacity="0.4"/>
<ellipse cx="387" cy="376" rx="37" ry="28" fill="#683c46" fill-opacity="1"/>
<ellipse cx="553" cy="346" rx="37" ry="24" fill="#683c46" fill-opacity="1"/>
<ellipse cx="382" cy="426" rx="33" ry="28" fill="#683c46" fill-opacity="1"/>
<ellipse cx="447" cy="436" rx="33" ry="28" fill="#683c46" fill-opacity="1"/>
<ellipse cx="452" cy="396" rx="18" ry="16" fill="#6c5258" fill-opacity="1"/>
<ellipse cx="477" cy="361" rx="24" ry="16" fill="#6c5258" fill-opacity="1"/>
<ellipse cx="563" cy="416" rx="37" ry="22" transform="rotate(20 563 416)" fill="#683c46" fill-opacity="1"/>
<ellipse cx="603" cy="406" rx="30" ry="24" fill="#683c46" fill-opacity="1"/>
<ellipse cx="638" cy="381" rx="30" ry="24" fill="#683c46" fill-opacity="1"/>
<ellipse cx="684" cy="431" rx="24" ry="49" fill="#683c46" fill-opacity="1"/>
<ellipse cx="563" cy="486" rx="37" ry="24" fill="#683c46" fill-opacity="1"/>
<ellipse cx="402" cy="512" rx="30" ry="30" fill="#683c46" fill-opacity="1"/>
<ellipse cx="432" cy="547" rx="37" ry="28" fill="#683c46" fill-opacity="1"/>
<ellipse cx="518" cy="537" rx="30" ry="24" fill="#683c46" fill-opacity="1"/>
<ellipse cx="493" cy="507" rx="18" ry="12" fill="#6c5258" fill-opacity="1"/>
<ellipse cx="608" cy="537" rx="33" ry="24" fill="#683c46" fill-opacity="1"/>
<ellipse cx="588" cy="567" rx="18" ry="18" fill="#683c46" fill-opacity="1"/>
<ellipse cx="633" cy="582" rx="28" ry="18" fill="#683c46" fill-opacity="1"/>
<ellipse cx="457" cy="584" rx="18" ry="13" fill="#3a0818" fill-opacity="0.8"/>
<ellipse cx="543" cy="584" rx="18" ry="18" fill="#3a0818" fill-opacity="1"/>
<ellipse cx="447" cy="617" rx="28" ry="22" fill="#683c46" fill-opacity="1"/>
<ellipse cx="669" cy="622" rx="24" ry="18" fill="#683c46" fill-opacity="1"/>
<ellipse cx="362" cy="557" rx="18" ry="24" fill="#683c46" fill-opacity="1"/>
<ellipse cx="513" cy="441" rx="15" ry="15" fill="#84d0a4" fill-opacity="0.9"/>
<ellipse cx="689" cy="501" rx="13" ry="13" fill="#84d0a4" fill-opacity="1"/>
<ellipse cx="684" cy="577" rx="8" ry="10" fill="#84d0a4" fill-opacity="0.8"/>
<ellipse cx="407" cy="459" rx="8" ry="5" fill="#84d0a4" fill-opacity="0.7"/>
</g></svg>
<svg style="position:absolute;left:93px;top:428px;overflow:hidden" width="135" height="123.8" viewBox="0 0 709 651" preserveAspectRatio="none">
<defs><filter id="fb3" x="-5%" y="-5%" width="110%" height="110%" color-interpolation-filters="sRGB"><feGaussianBlur stdDeviation="4"/></filter></defs>
<rect x="-20" y="-20" width="749" height="691" fill="#d4aee2"/>
<g filter="url(#fb3)">
<polygon points="0,30 180,20 230,0 480,30 560,30 640,40 640,330 560,330 470,300 400,240 350,200 300,220 260,300 200,330 150,330 0,330" fill="#a888d6" fill-opacity="1"/>
<polygon points="0,330 160,330 200,520 160,560 150,651 0,651" fill="#a888d6" fill-opacity="1"/>
<polygon points="160,340 300,350 330,420 300,500 250,500 200,520" fill="#a888d6" fill-opacity="0.9"/>
<polygon points="352,325 563,325 563,400 560,496 530,540 480,520 440,500 352,496" fill="#a888d6" fill-opacity="1"/>
<polygon points="563,325 708,325 708,400 640,400 600,380" fill="#a888d6" fill-opacity="0.9"/>
<ellipse cx="210" cy="120" rx="15" ry="70" fill="#6040b0" fill-opacity="0.55"/>
<ellipse cx="280" cy="120" rx="22" ry="55" fill="#ead4ee" fill-opacity="0.8" stroke="#6040b0" stroke-width="7" stroke-opacity="0.8"/>
<ellipse cx="330" cy="85" rx="15" ry="60" fill="#ead4ee" fill-opacity="0.7" stroke="#6040b0" stroke-width="6" stroke-opacity="0.7"/>
<ellipse cx="390" cy="140" rx="18" ry="55" fill="#6040b0" fill-opacity="0.5"/>
<ellipse cx="447" cy="115" rx="20" ry="70" fill="#a888d6" fill-opacity="0.7" stroke="#6040b0" stroke-width="6" stroke-opacity="0.7"/>
<ellipse cx="520" cy="140" rx="28" ry="40" fill="#ead4ee" fill-opacity="0.8" stroke="#6040b0" stroke-width="7" stroke-opacity="0.8"/>
<ellipse cx="572" cy="200" rx="26" ry="42" transform="rotate(-20 572 200)" fill="#ead4ee" fill-opacity="0.8" stroke="#6040b0" stroke-width="7" stroke-opacity="0.8"/>
<ellipse cx="615" cy="275" rx="24" ry="45" transform="rotate(-20 615 275)" fill="#ead4ee" fill-opacity="0.8" stroke="#6040b0" stroke-width="7" stroke-opacity="0.8"/>
<ellipse cx="560" cy="330" rx="22" ry="30" fill="#ead4ee" fill-opacity="0.7" stroke="#6040b0" stroke-width="6" stroke-opacity="0.7"/>
<ellipse cx="165" cy="440" rx="22" ry="60" fill="#ead4ee" fill-opacity="0.8" stroke="#6040b0" stroke-width="7" stroke-opacity="0.8"/>
<ellipse cx="235" cy="435" rx="25" ry="62" fill="#ead4ee" fill-opacity="0.8" stroke="#6040b0" stroke-width="7" stroke-opacity="0.8"/>
<ellipse cx="290" cy="415" rx="16" ry="50" fill="#6040b0" fill-opacity="0.5"/>
<ellipse cx="335" cy="410" rx="22" ry="55" fill="#ead4ee" fill-opacity="0.75" stroke="#6040b0" stroke-width="6" stroke-opacity="0.75"/>
<ellipse cx="400" cy="400" rx="25" ry="50" fill="#6040b0" fill-opacity="0.45"/>
<ellipse cx="470" cy="425" rx="27" ry="85" transform="rotate(-10 470 425)" fill="#ead4ee" fill-opacity="0.8" stroke="#6040b0" stroke-width="7" stroke-opacity="0.8"/>
<ellipse cx="532" cy="450" rx="24" ry="65" transform="rotate(-10 532 450)" fill="#ead4ee" fill-opacity="0.75" stroke="#6040b0" stroke-width="7" stroke-opacity="0.75"/>
<ellipse cx="60" cy="85" rx="52" ry="78" fill="#fbf3f9" fill-opacity="1"/>
<polygon points="110,0 180,0 175,40 110,40" fill="#fbf3f9" fill-opacity="0.9"/>
<polygon points="352,0 708,0 708,30 352,30" fill="#fbf3f9" fill-opacity="0.8"/>
<polygon points="634,30 708,30 708,325 640,330" fill="#ead4ee" fill-opacity="1"/>
<polygon points="563,400 663,400 663,496 563,496" fill="#ead4ee" fill-opacity="0.9"/>
<ellipse cx="300" cy="300" rx="130" ry="70" fill="#eeb0d0" fill-opacity="0.6"/>
<polygon points="225,215 300,195 360,210 392,240 385,322 300,332 240,322 220,280" fill="#f07496" fill-opacity="0.95"/>
<polygon points="392,216 452,216 452,325 392,325" fill="#ead4ee" fill-opacity="0.5"/>
<polyline points="240,270 265,255 280,275 300,262" fill="none" stroke="#fbf3f9" stroke-width="5" stroke-opacity="0.9" stroke-linecap="round" stroke-linejoin="round"/>
<polyline points="310,230 330,250 325,290" fill="none" stroke="#fbf3f9" stroke-width="5" stroke-opacity="0.9" stroke-linecap="round" stroke-linejoin="round"/>
<polyline points="250,300 290,295 320,310 350,300" fill="none" stroke="#fbf3f9" stroke-width="5" stroke-opacity="0.9" stroke-linecap="round" stroke-linejoin="round"/>
<polyline points="345,240 360,270 372,300" fill="none" stroke="#fbf3f9" stroke-width="4" stroke-opacity="0.8" stroke-linecap="round" stroke-linejoin="round"/>
<ellipse cx="415" cy="295" rx="18" ry="13" fill="#301060" fill-opacity="1"/>
<ellipse cx="136" cy="113" rx="13" ry="15" fill="#fbf3f9" fill-opacity="1"/>
<ellipse cx="106" cy="161" rx="13" ry="15" fill="#fbf3f9" fill-opacity="1"/>
<ellipse cx="70" cy="191" rx="15" ry="20" fill="#fbf3f9" fill-opacity="1"/>
<ellipse cx="15" cy="226" rx="15" ry="20" fill="#fbf3f9" fill-opacity="1"/>
<ellipse cx="151" cy="181" rx="8" ry="13" fill="#fbf3f9" fill-opacity="0.9"/>
<ellipse cx="166" cy="236" rx="10" ry="15" fill="#fbf3f9" fill-opacity="0.9"/>
<ellipse cx="91" cy="236" rx="10" ry="13" fill="#fbf3f9" fill-opacity="0.9"/>
<ellipse cx="50" cy="287" rx="13" ry="15" fill="#fbf3f9" fill-opacity="0.9"/>
<ellipse cx="96" cy="282" rx="13" ry="15" fill="#fbf3f9" fill-opacity="0.9"/>
<ellipse cx="121" cy="272" rx="8" ry="10" fill="#fbf3f9" fill-opacity="0.8"/>
<ellipse cx="141" cy="262" rx="8" ry="10" fill="#fbf3f9" fill-opacity="0.8"/>
<ellipse cx="230" cy="90" rx="18" ry="38" fill="#ead4ee" fill-opacity="0.9"/>
<ellipse cx="277" cy="126" rx="20" ry="40" fill="#ead4ee" fill-opacity="0.8"/>
<ellipse cx="317" cy="91" rx="15" ry="30" fill="#ead4ee" fill-opacity="0.8"/>
<ellipse cx="196" cy="91" rx="13" ry="30" fill="#6040b0" fill-opacity="1"/>
<ellipse cx="161" cy="156" rx="8" ry="20" fill="#6040b0" fill-opacity="0.9"/>
<ellipse cx="186" cy="191" rx="8" ry="10" fill="#6040b0" fill-opacity="0.9"/>
<ellipse cx="518" cy="136" rx="30" ry="35" fill="#ead4ee" fill-opacity="0.9"/>
<ellipse cx="578" cy="221" rx="30" ry="30" fill="#ead4ee" fill-opacity="0.9"/>
<ellipse cx="628" cy="282" rx="30" ry="35" fill="#ead4ee" fill-opacity="0.9"/>
<ellipse cx="563" cy="292" rx="20" ry="20" fill="#fbf3f9" fill-opacity="0.8"/>
<ellipse cx="543" cy="65" rx="20" ry="30" fill="#fbf3f9" fill-opacity="0.8"/>
<ellipse cx="578" cy="221" rx="14" ry="14" fill="#fbf3f9" fill-opacity="0.9"/>
<ellipse cx="628" cy="282" rx="12" ry="15" fill="#fbf3f9" fill-opacity="0.9"/>
<ellipse cx="417" cy="297" rx="20" ry="15" fill="#301060" fill-opacity="1"/>
<ellipse cx="400" cy="120" rx="20" ry="45" fill="#6040b0" fill-opacity="0.7"/>
<polygon points="151,325 352,325 352,350 151,350" fill="#eeb0d0" fill-opacity="0.5"/>
<ellipse cx="55" cy="345" rx="15" ry="20" fill="#fbf3f9" fill-opacity="1"/>
<ellipse cx="20" cy="396" rx="13" ry="15" fill="#fbf3f9" fill-opacity="1"/>
<ellipse cx="15" cy="451" rx="10" ry="15" fill="#fbf3f9" fill-opacity="0.9"/>
<ellipse cx="50" cy="466" rx="15" ry="25" fill="#fbf3f9" fill-opacity="1"/>
<ellipse cx="91" cy="491" rx="13" ry="15" fill="#fbf3f9" fill-opacity="1"/>
<ellipse cx="75" cy="537" rx="10" ry="15" fill="#fbf3f9" fill-opacity="0.9"/>
<ellipse cx="20" cy="507" rx="13" ry="13" fill="#fbf3f9" fill-opacity="0.9"/>
<ellipse cx="50" cy="587" rx="18" ry="23" fill="#fbf3f9" fill-opacity="1"/>
<ellipse cx="15" cy="597" rx="10" ry="10" fill="#fbf3f9" fill-opacity="0.8"/>
<ellipse cx="91" cy="607" rx="10" ry="10" fill="#fbf3f9" fill-opacity="0.8"/>
<ellipse cx="50" cy="396" rx="15" ry="10" fill="#301060" fill-opacity="1"/>
<ellipse cx="121" cy="507" rx="10" ry="13" fill="#301060" fill-opacity="1"/>
<ellipse cx="174" cy="547" rx="10" ry="15" fill="#301060" fill-opacity="1"/>
<ellipse cx="30" cy="577" rx="8" ry="13" fill="#6040b0" fill-opacity="1"/>
<ellipse cx="126" cy="552" rx="30" ry="30" fill="#fbf3f9" fill-opacity="1"/>
<ellipse cx="151" cy="386" rx="20" ry="20" fill="#fbf3f9" fill-opacity="1"/>
<ellipse cx="151" cy="451" rx="20" ry="40" fill="#ead4ee" fill-opacity="0.8"/>
<ellipse cx="186" cy="441" rx="20" ry="30" fill="#6040b0" fill-opacity="0.6"/>
<ellipse cx="236" cy="436" rx="25" ry="50" fill="#ead4ee" fill-opacity="0.8"/>
<polygon points="282,350 357,350 357,500 282,500" fill="#ead4ee" fill-opacity="0.7"/>
<polygon points="166,567 211,532 292,537 302,651 166,651" fill="#fbf3f9" fill-opacity="1"/>
<polygon points="292,500 357,500 357,651 302,651" fill="#eeb0d0" fill-opacity="0.8"/>
<polygon points="352,501 477,501 477,562 352,562" fill="#fbf3f9" fill-opacity="1"/>
<polygon points="543,491 708,491 708,567 543,567" fill="#fbf3f9" fill-opacity="1"/>
<polygon points="352,556 708,560 708,651 352,651" fill="#eeb0d0" fill-opacity="0.9"/>
<ellipse cx="503" cy="516" rx="40" ry="40" fill="#a888d6" fill-opacity="1"/>
<ellipse cx="392" cy="572" rx="15" ry="18" fill="#6040b0" fill-opacity="1"/>
<ellipse cx="518" cy="607" rx="25" ry="10" fill="#301060" fill-opacity="1"/>
<ellipse cx="588" cy="617" rx="20" ry="20" fill="#6040b0" fill-opacity="1"/>
<ellipse cx="638" cy="607" rx="25" ry="30" fill="#6040b0" fill-opacity="0.8"/>
<ellipse cx="638" cy="607" rx="14" ry="18" fill="#fbf3f9" fill-opacity="1"/>
</g></svg>
<svg style="position:absolute;left:401.7px;top:428px;overflow:hidden" width="134.5" height="123.8" viewBox="0 0 709 651" preserveAspectRatio="none">
<defs><filter id="fa3" x="-5%" y="-5%" width="110%" height="110%" color-interpolation-filters="sRGB"><feGaussianBlur stdDeviation="4"/></filter></defs>
<rect x="-20" y="-20" width="749" height="691" fill="#7e8088"/>
<g filter="url(#fa3)">
<polygon points="0,30 180,20 230,0 480,30 560,30 640,40 640,330 560,330 470,300 400,240 350,200 300,220 260,300 200,330 150,330 0,330" fill="#786068" fill-opacity="1"/>
<polygon points="0,330 160,330 200,520 160,560 150,651 0,651" fill="#786068" fill-opacity="1"/>
<polygon points="160,340 300,350 330,420 300,500 250,500 200,520" fill="#786068" fill-opacity="0.9"/>
<polygon points="352,325 563,325 563,400 560,496 530,540 480,520 440,500 352,496" fill="#786068" fill-opacity="1"/>
<polygon points="563,325 708,325 708,400 640,400 600,380" fill="#786068" fill-opacity="0.9"/>
<ellipse cx="210" cy="120" rx="15" ry="70" fill="#5a1a34" fill-opacity="0.55"/>
<ellipse cx="280" cy="120" rx="22" ry="55" fill="#7ea48e" fill-opacity="0.8" stroke="#5a1a34" stroke-width="7" stroke-opacity="0.8"/>
<ellipse cx="330" cy="85" rx="15" ry="60" fill="#7ea48e" fill-opacity="0.7" stroke="#5a1a34" stroke-width="6" stroke-opacity="0.7"/>
<ellipse cx="390" cy="140" rx="18" ry="55" fill="#5a1a34" fill-opacity="0.5"/>
<ellipse cx="447" cy="115" rx="20" ry="70" fill="#786068" fill-opacity="0.7" stroke="#5a1a34" stroke-width="6" stroke-opacity="0.7"/>
<ellipse cx="520" cy="140" rx="28" ry="40" fill="#7ea48e" fill-opacity="0.8" stroke="#5a1a34" stroke-width="7" stroke-opacity="0.8"/>
<ellipse cx="572" cy="200" rx="26" ry="42" transform="rotate(-20 572 200)" fill="#7ea48e" fill-opacity="0.8" stroke="#5a1a34" stroke-width="7" stroke-opacity="0.8"/>
<ellipse cx="615" cy="275" rx="24" ry="45" transform="rotate(-20 615 275)" fill="#7ea48e" fill-opacity="0.8" stroke="#5a1a34" stroke-width="7" stroke-opacity="0.8"/>
<ellipse cx="560" cy="330" rx="22" ry="30" fill="#7ea48e" fill-opacity="0.7" stroke="#5a1a34" stroke-width="6" stroke-opacity="0.7"/>
<ellipse cx="165" cy="440" rx="22" ry="60" fill="#7ea48e" fill-opacity="0.8" stroke="#5a1a34" stroke-width="7" stroke-opacity="0.8"/>
<ellipse cx="235" cy="435" rx="25" ry="62" fill="#7ea48e" fill-opacity="0.8" stroke="#5a1a34" stroke-width="7" stroke-opacity="0.8"/>
<ellipse cx="290" cy="415" rx="16" ry="50" fill="#5a1a34" fill-opacity="0.5"/>
<ellipse cx="335" cy="410" rx="22" ry="55" fill="#7ea48e" fill-opacity="0.75" stroke="#5a1a34" stroke-width="6" stroke-opacity="0.75"/>
<ellipse cx="400" cy="400" rx="25" ry="50" fill="#5a1a34" fill-opacity="0.45"/>
<ellipse cx="470" cy="425" rx="27" ry="85" transform="rotate(-10 470 425)" fill="#7ea48e" fill-opacity="0.8" stroke="#5a1a34" stroke-width="7" stroke-opacity="0.8"/>
<ellipse cx="532" cy="450" rx="24" ry="65" transform="rotate(-10 532 450)" fill="#7ea48e" fill-opacity="0.75" stroke="#5a1a34" stroke-width="7" stroke-opacity="0.75"/>
<ellipse cx="60" cy="85" rx="52" ry="78" fill="#7cba96" fill-opacity="1"/>
<polygon points="110,0 180,0 175,40 110,40" fill="#7cba96" fill-opacity="0.9"/>
<polygon points="352,0 708,0 708,30 352,30" fill="#7cba96" fill-opacity="0.8"/>
<polygon points="634,30 708,30 708,325 640,330" fill="#7ea48e" fill-opacity="1"/>
<polygon points="563,400 663,400 663,496 563,496" fill="#7ea48e" fill-opacity="0.9"/>
<ellipse cx="300" cy="300" rx="130" ry="70" fill="#847c94" fill-opacity="0.6"/>
<polygon points="225,215 300,195 360,210 392,240 385,322 300,332 240,322 220,280" fill="#6c66cc" fill-opacity="0.95"/>
<polygon points="392,216 452,216 452,325 392,325" fill="#7ea48e" fill-opacity="0.5"/>
<polyline points="240,270 265,255 280,275 300,262" fill="none" stroke="#7cba96" stroke-width="5" stroke-opacity="0.9" stroke-linecap="round" stroke-linejoin="round"/>
<polyline points="310,230 330,250 325,290" fill="none" stroke="#7cba96" stroke-width="5" stroke-opacity="0.9" stroke-linecap="round" stroke-linejoin="round"/>
<polyline points="250,300 290,295 320,310 350,300" fill="none" stroke="#7cba96" stroke-width="5" stroke-opacity="0.9" stroke-linecap="round" stroke-linejoin="round"/>
<polyline points="345,240 360,270 372,300" fill="none" stroke="#7cba96" stroke-width="4" stroke-opacity="0.8" stroke-linecap="round" stroke-linejoin="round"/>
<ellipse cx="415" cy="295" rx="18" ry="13" fill="#3a0818" fill-opacity="1"/>
<ellipse cx="136" cy="113" rx="13" ry="15" fill="#7cba96" fill-opacity="1"/>
<ellipse cx="106" cy="161" rx="13" ry="15" fill="#7cba96" fill-opacity="1"/>
<ellipse cx="70" cy="191" rx="15" ry="20" fill="#7cba96" fill-opacity="1"/>
<ellipse cx="15" cy="226" rx="15" ry="20" fill="#7cba96" fill-opacity="1"/>
<ellipse cx="151" cy="181" rx="8" ry="13" fill="#7cba96" fill-opacity="0.9"/>
<ellipse cx="166" cy="236" rx="10" ry="15" fill="#7cba96" fill-opacity="0.9"/>
<ellipse cx="91" cy="236" rx="10" ry="13" fill="#7cba96" fill-opacity="0.9"/>
<ellipse cx="50" cy="287" rx="13" ry="15" fill="#7cba96" fill-opacity="0.9"/>
<ellipse cx="96" cy="282" rx="13" ry="15" fill="#7cba96" fill-opacity="0.9"/>
<ellipse cx="121" cy="272" rx="8" ry="10" fill="#7cba96" fill-opacity="0.8"/>
<ellipse cx="141" cy="262" rx="8" ry="10" fill="#7cba96" fill-opacity="0.8"/>
<ellipse cx="230" cy="90" rx="18" ry="38" fill="#7ea48e" fill-opacity="0.9"/>
<ellipse cx="277" cy="126" rx="20" ry="40" fill="#7ea48e" fill-opacity="0.8"/>
<ellipse cx="317" cy="91" rx="15" ry="30" fill="#7ea48e" fill-opacity="0.8"/>
<ellipse cx="196" cy="91" rx="13" ry="30" fill="#5a1a34" fill-opacity="1"/>
<ellipse cx="161" cy="156" rx="8" ry="20" fill="#5a1a34" fill-opacity="0.9"/>
<ellipse cx="186" cy="191" rx="8" ry="10" fill="#5a1a34" fill-opacity="0.9"/>
<ellipse cx="518" cy="136" rx="30" ry="35" fill="#7ea48e" fill-opacity="0.9"/>
<ellipse cx="578" cy="221" rx="30" ry="30" fill="#7ea48e" fill-opacity="0.9"/>
<ellipse cx="628" cy="282" rx="30" ry="35" fill="#7ea48e" fill-opacity="0.9"/>
<ellipse cx="563" cy="292" rx="20" ry="20" fill="#7cba96" fill-opacity="0.8"/>
<ellipse cx="543" cy="65" rx="20" ry="30" fill="#7cba96" fill-opacity="0.8"/>
<ellipse cx="578" cy="221" rx="14" ry="14" fill="#7cba96" fill-opacity="0.9"/>
<ellipse cx="628" cy="282" rx="12" ry="15" fill="#7cba96" fill-opacity="0.9"/>
<ellipse cx="417" cy="297" rx="20" ry="15" fill="#3a0818" fill-opacity="1"/>
<ellipse cx="400" cy="120" rx="20" ry="45" fill="#5a1a34" fill-opacity="0.7"/>
<polygon points="151,325 352,325 352,350 151,350" fill="#847c94" fill-opacity="0.5"/>
<ellipse cx="55" cy="345" rx="15" ry="20" fill="#7cba96" fill-opacity="1"/>
<ellipse cx="20" cy="396" rx="13" ry="15" fill="#7cba96" fill-opacity="1"/>
<ellipse cx="15" cy="451" rx="10" ry="15" fill="#7cba96" fill-opacity="0.9"/>
<ellipse cx="50" cy="466" rx="15" ry="25" fill="#7cba96" fill-opacity="1"/>
<ellipse cx="91" cy="491" rx="13" ry="15" fill="#7cba96" fill-opacity="1"/>
<ellipse cx="75" cy="537" rx="10" ry="15" fill="#7cba96" fill-opacity="0.9"/>
<ellipse cx="20" cy="507" rx="13" ry="13" fill="#7cba96" fill-opacity="0.9"/>
<ellipse cx="50" cy="587" rx="18" ry="23" fill="#7cba96" fill-opacity="1"/>
<ellipse cx="15" cy="597" rx="10" ry="10" fill="#7cba96" fill-opacity="0.8"/>
<ellipse cx="91" cy="607" rx="10" ry="10" fill="#7cba96" fill-opacity="0.8"/>
<ellipse cx="50" cy="396" rx="15" ry="10" fill="#3a0818" fill-opacity="1"/>
<ellipse cx="121" cy="507" rx="10" ry="13" fill="#3a0818" fill-opacity="1"/>
<ellipse cx="174" cy="547" rx="10" ry="15" fill="#3a0818" fill-opacity="1"/>
<ellipse cx="30" cy="577" rx="8" ry="13" fill="#5a1a34" fill-opacity="1"/>
<ellipse cx="126" cy="552" rx="30" ry="30" fill="#7cba96" fill-opacity="1"/>
<ellipse cx="151" cy="386" rx="20" ry="20" fill="#7cba96" fill-opacity="1"/>
<ellipse cx="151" cy="451" rx="20" ry="40" fill="#7ea48e" fill-opacity="0.8"/>
<ellipse cx="186" cy="441" rx="20" ry="30" fill="#5a1a34" fill-opacity="0.6"/>
<ellipse cx="236" cy="436" rx="25" ry="50" fill="#7ea48e" fill-opacity="0.8"/>
<polygon points="282,350 357,350 357,500 282,500" fill="#7ea48e" fill-opacity="0.7"/>
<polygon points="166,567 211,532 292,537 302,651 166,651" fill="#7cba96" fill-opacity="1"/>
<polygon points="292,500 357,500 357,651 302,651" fill="#847c94" fill-opacity="0.8"/>
<polygon points="352,501 477,501 477,562 352,562" fill="#7cba96" fill-opacity="1"/>
<polygon points="543,491 708,491 708,567 543,567" fill="#7cba96" fill-opacity="1"/>
<polygon points="352,556 708,560 708,651 352,651" fill="#847c94" fill-opacity="0.9"/>
<ellipse cx="503" cy="516" rx="40" ry="40" fill="#786068" fill-opacity="1"/>
<ellipse cx="392" cy="572" rx="15" ry="18" fill="#5a1a34" fill-opacity="1"/>
<ellipse cx="518" cy="607" rx="25" ry="10" fill="#3a0818" fill-opacity="1"/>
<ellipse cx="588" cy="617" rx="20" ry="20" fill="#5a1a34" fill-opacity="1"/>
<ellipse cx="638" cy="607" rx="25" ry="30" fill="#5a1a34" fill-opacity="0.8"/>
<ellipse cx="638" cy="607" rx="14" ry="18" fill="#7cba96" fill-opacity="1"/>
</g></svg>
<svg style="position:absolute;left:93px;top:562px;overflow:hidden" width="135" height="123.8" viewBox="0 0 709 651" preserveAspectRatio="none">
<defs><filter id="fb4" x="-5%" y="-5%" width="110%" height="110%" color-interpolation-filters="sRGB"><feGaussianBlur stdDeviation="4"/></filter></defs>
<rect x="-20" y="-20" width="749" height="691" fill="#cca8e2"/>
<g filter="url(#fb4)">
<ellipse cx="-3" cy="-6" rx="9" ry="7" transform="rotate(-37 -3 -6)" fill="#5032aa"/>
<ellipse cx="74" cy="-1" rx="9" ry="6" transform="rotate(-24 74 -1)" fill="#5032aa"/>
<ellipse cx="115" cy="1" rx="13" ry="6" transform="rotate(-12 115 1)" fill="#5032aa"/>
<ellipse cx="159" cy="5" rx="11" ry="7" transform="rotate(-36 159 5)" fill="#5032aa"/>
<ellipse cx="211" cy="3" rx="10" ry="7" transform="rotate(-32 211 3)" fill="#5032aa"/>
<ellipse cx="240" cy="5" rx="10" ry="7" transform="rotate(-29 240 5)" fill="#5032aa"/>
<ellipse cx="276" cy="4" rx="13" ry="6" transform="rotate(-34 276 4)" fill="#5032aa"/>
<ellipse cx="301" cy="-6" rx="9" ry="7" transform="rotate(-17 301 -6)" fill="#5032aa"/>
<ellipse cx="325" cy="6" rx="12" ry="7" transform="rotate(-26 325 6)" fill="#5032aa"/>
<ellipse cx="350" cy="5" rx="11" ry="7" transform="rotate(-52 350 5)" fill="#5032aa"/>
<ellipse cx="381" cy="2" rx="12" ry="7" transform="rotate(-36 381 2)" fill="#5032aa"/>
<ellipse cx="408" cy="-8" rx="10" ry="6" transform="rotate(-52 408 -8)" fill="#5032aa"/>
<ellipse cx="436" cy="-6" rx="11" ry="8" transform="rotate(-51 436 -6)" fill="#5032aa"/>
<ellipse cx="458" cy="1" rx="12" ry="8" transform="rotate(-41 458 1)" fill="#5032aa"/>
<ellipse cx="485" cy="-2" rx="13" ry="6" transform="rotate(-46 485 -2)" fill="#5032aa"/>
<ellipse cx="509" cy="-4" rx="11" ry="7" transform="rotate(-55 509 -4)" fill="#5032aa"/>
<ellipse cx="539" cy="-2" rx="13" ry="7" transform="rotate(-29 539 -2)" fill="#5032aa"/>
<ellipse cx="600" cy="4" rx="12" ry="7" transform="rotate(-35 600 4)" fill="#5032aa"/>
<ellipse cx="641" cy="-5" rx="10" ry="6" transform="rotate(-55 641 -5)" fill="#5032aa"/>
<ellipse cx="669" cy="-6" rx="9" ry="8" transform="rotate(-24 669 -6)" fill="#5032aa"/>
<ellipse cx="696" cy="-4" rx="10" ry="6" transform="rotate(-13 696 -4)" fill="#5032aa"/>
<ellipse cx="116" cy="19" rx="11" ry="6" transform="rotate(-28 116 19)" fill="#5032aa"/>
<ellipse cx="141" cy="27" rx="12" ry="7" transform="rotate(-42 141 27)" fill="#5032aa"/>
<ellipse cx="173" cy="22" rx="11" ry="8" transform="rotate(-39 173 22)" fill="#5032aa"/>
<ellipse cx="198" cy="32" rx="12" ry="8" transform="rotate(-14 198 32)" fill="#5032aa"/>
<ellipse cx="233" cy="23" rx="10" ry="6" transform="rotate(-54 233 23)" fill="#5032aa"/>
<ellipse cx="253" cy="23" rx="13" ry="7" transform="rotate(-8 253 23)" fill="#5032aa"/>
<ellipse cx="291" cy="34" rx="10" ry="6" transform="rotate(-45 291 34)" fill="#5032aa"/>
<ellipse cx="306" cy="29" rx="12" ry="7" transform="rotate(-22 306 29)" fill="#5032aa"/>
<ellipse cx="342" cy="20" rx="13" ry="8" transform="rotate(-17 342 20)" fill="#5032aa"/>
<ellipse cx="364" cy="22" rx="10" ry="8" transform="rotate(-6 364 22)" fill="#5032aa"/>
<ellipse cx="390" cy="25" rx="12" ry="6" transform="rotate(-49 390 25)" fill="#5032aa"/>
<ellipse cx="413" cy="33" rx="10" ry="8" transform="rotate(-6 413 33)" fill="#5032aa"/>
<ellipse cx="448" cy="25" rx="10" ry="6" transform="rotate(-6 448 25)" fill="#5032aa"/>
<ellipse cx="475" cy="27" rx="11" ry="8" transform="rotate(-14 475 27)" fill="#5032aa"/>
<ellipse cx="495" cy="23" rx="10" ry="7" transform="rotate(-42 495 23)" fill="#5032aa"/>
<ellipse cx="525" cy="21" rx="10" ry="7" transform="rotate(-26 525 21)" fill="#5032aa"/>
<ellipse cx="560" cy="26" rx="11" ry="7" transform="rotate(-29 560 26)" fill="#5032aa"/>
<ellipse cx="573" cy="26" rx="9" ry="8" transform="rotate(-46 573 26)" fill="#5032aa"/>
<ellipse cx="607" cy="31" rx="10" ry="7" transform="rotate(-27 607 31)" fill="#5032aa"/>
<ellipse cx="639" cy="21" rx="10" ry="7" transform="rotate(-16 639 21)" fill="#5032aa"/>
<ellipse cx="662" cy="28" rx="13" ry="7" transform="rotate(-24 662 28)" fill="#5032aa"/>
<ellipse cx="689" cy="27" rx="11" ry="7" transform="rotate(-31 689 27)" fill="#5032aa"/>
<ellipse cx="723" cy="30" rx="13" ry="7" transform="rotate(-27 723 30)" fill="#5032aa"/>
<ellipse cx="111" cy="59" rx="10" ry="7" transform="rotate(-22 111 59)" fill="#5032aa"/>
<ellipse cx="129" cy="60" rx="10" ry="8" transform="rotate(-35 129 60)" fill="#5032aa"/>
<ellipse cx="162" cy="62" rx="10" ry="7" transform="rotate(-29 162 62)" fill="#5032aa"/>
<ellipse cx="186" cy="49" rx="12" ry="6" transform="rotate(-27 186 49)" fill="#5032aa"/>
<ellipse cx="215" cy="46" rx="11" ry="7" transform="rotate(-52 215 46)" fill="#5032aa"/>
<ellipse cx="251" cy="59" rx="9" ry="7" transform="rotate(-53 251 59)" fill="#5032aa"/>
<ellipse cx="296" cy="61" rx="10" ry="6" transform="rotate(-9 296 61)" fill="#5032aa"/>
<ellipse cx="344" cy="57" rx="9" ry="8" transform="rotate(-23 344 57)" fill="#5032aa"/>
<ellipse cx="383" cy="47" rx="9" ry="8" transform="rotate(-32 383 47)" fill="#5032aa"/>
<ellipse cx="402" cy="55" rx="10" ry="6" transform="rotate(-29 402 55)" fill="#5032aa"/>
<ellipse cx="428" cy="48" rx="9" ry="6" transform="rotate(-39 428 48)" fill="#5032aa"/>
<ellipse cx="456" cy="58" rx="11" ry="6" transform="rotate(-38 456 58)" fill="#5032aa"/>
<ellipse cx="517" cy="55" rx="11" ry="8" transform="rotate(-50 517 55)" fill="#5032aa"/>
<ellipse cx="545" cy="53" rx="12" ry="7" transform="rotate(-30 545 53)" fill="#5032aa"/>
<ellipse cx="570" cy="62" rx="12" ry="7" transform="rotate(-23 570 62)" fill="#5032aa"/>
<ellipse cx="615" cy="47" rx="10" ry="6" transform="rotate(-51 615 47)" fill="#5032aa"/>
<ellipse cx="653" cy="60" rx="10" ry="6" transform="rotate(-40 653 60)" fill="#5032aa"/>
<ellipse cx="674" cy="49" rx="10" ry="8" transform="rotate(-6 674 49)" fill="#5032aa"/>
<ellipse cx="703" cy="50" rx="10" ry="7" transform="rotate(-55 703 50)" fill="#5032aa"/>
<ellipse cx="145" cy="77" rx="11" ry="8" transform="rotate(-22 145 77)" fill="#5032aa"/>
<ellipse cx="179" cy="87" rx="10" ry="8" transform="rotate(-48 179 87)" fill="#5032aa"/>
<ellipse cx="235" cy="87" rx="12" ry="8" transform="rotate(-48 235 87)" fill="#5032aa"/>
<ellipse cx="257" cy="81" rx="12" ry="8" transform="rotate(-26 257 81)" fill="#5032aa"/>
<ellipse cx="290" cy="84" rx="10" ry="6" transform="rotate(-48 290 84)" fill="#5032aa"/>
<ellipse cx="308" cy="75" rx="11" ry="7" transform="rotate(-24 308 75)" fill="#5032aa"/>
<ellipse cx="369" cy="85" rx="11" ry="7" transform="rotate(-52 369 85)" fill="#5032aa"/>
<ellipse cx="415" cy="85" rx="12" ry="8" transform="rotate(-30 415 85)" fill="#5032aa"/>
<ellipse cx="444" cy="81" rx="12" ry="7" transform="rotate(-23 444 81)" fill="#5032aa"/>
<ellipse cx="466" cy="75" rx="12" ry="7" transform="rotate(-27 466 75)" fill="#5032aa"/>
<ellipse cx="492" cy="74" rx="12" ry="7" transform="rotate(-21 492 74)" fill="#5032aa"/>
<ellipse cx="712" cy="76" rx="10" ry="7" transform="rotate(-48 712 76)" fill="#5032aa"/>
<ellipse cx="127" cy="108" rx="10" ry="6" transform="rotate(-38 127 108)" fill="#5032aa"/>
<ellipse cx="223" cy="111" rx="10" ry="7" transform="rotate(-35 223 111)" fill="#5032aa"/>
<ellipse cx="251" cy="109" rx="11" ry="7" transform="rotate(-53 251 109)" fill="#5032aa"/>
<ellipse cx="264" cy="113" rx="13" ry="6" transform="rotate(-42 264 113)" fill="#5032aa"/>
<ellipse cx="297" cy="103" rx="13" ry="8" transform="rotate(-14 297 103)" fill="#5032aa"/>
<ellipse cx="117" cy="131" rx="13" ry="7" transform="rotate(-34 117 131)" fill="#5032aa"/>
<ellipse cx="147" cy="135" rx="10" ry="6" transform="rotate(-41 147 135)" fill="#5032aa"/>
<ellipse cx="183" cy="129" rx="12" ry="8" transform="rotate(-44 183 129)" fill="#5032aa"/>
<ellipse cx="199" cy="131" rx="11" ry="8" transform="rotate(-13 199 131)" fill="#5032aa"/>
<ellipse cx="716" cy="136" rx="10" ry="7" transform="rotate(-54 716 136)" fill="#5032aa"/>
<ellipse cx="-3" cy="161" rx="12" ry="8" transform="rotate(-31 -3 161)" fill="#5032aa"/>
<ellipse cx="108" cy="165" rx="10" ry="7" transform="rotate(-9 108 165)" fill="#5032aa"/>
<ellipse cx="131" cy="155" rx="11" ry="7" transform="rotate(-45 131 155)" fill="#5032aa"/>
<ellipse cx="92" cy="194" rx="11" ry="6" transform="rotate(-31 92 194)" fill="#5032aa"/>
<ellipse cx="119" cy="196" rx="10" ry="8" transform="rotate(-53 119 196)" fill="#5032aa"/>
<ellipse cx="147" cy="194" rx="9" ry="6" transform="rotate(-52 147 194)" fill="#5032aa"/>
<ellipse cx="74" cy="210" rx="12" ry="7" transform="rotate(-43 74 210)" fill="#5032aa"/>
<ellipse cx="107" cy="218" rx="12" ry="8" transform="rotate(-22 107 218)" fill="#5032aa"/>
<ellipse cx="129" cy="221" rx="11" ry="7" transform="rotate(-18 129 221)" fill="#5032aa"/>
<ellipse cx="38" cy="246" rx="10" ry="6" transform="rotate(-15 38 246)" fill="#5032aa"/>
<ellipse cx="93" cy="244" rx="9" ry="6" transform="rotate(-20 93 244)" fill="#5032aa"/>
<ellipse cx="120" cy="240" rx="13" ry="7" transform="rotate(-27 120 240)" fill="#5032aa"/>
<ellipse cx="146" cy="242" rx="13" ry="7" transform="rotate(-45 146 242)" fill="#5032aa"/>
<ellipse cx="714" cy="249" rx="10" ry="6" transform="rotate(-35 714 249)" fill="#5032aa"/>
<ellipse cx="23" cy="274" rx="9" ry="7" transform="rotate(-17 23 274)" fill="#5032aa"/>
<ellipse cx="83" cy="271" rx="10" ry="7" transform="rotate(-26 83 271)" fill="#5032aa"/>
<ellipse cx="107" cy="273" rx="11" ry="6" transform="rotate(-24 107 273)" fill="#5032aa"/>
<ellipse cx="135" cy="266" rx="12" ry="7" transform="rotate(-46 135 266)" fill="#5032aa"/>
<ellipse cx="486" cy="277" rx="10" ry="8" transform="rotate(-8 486 277)" fill="#5032aa"/>
<ellipse cx="621" cy="277" rx="10" ry="7" transform="rotate(-39 621 277)" fill="#5032aa"/>
<ellipse cx="670" cy="277" rx="13" ry="6" transform="rotate(-16 670 277)" fill="#5032aa"/>
<ellipse cx="696" cy="270" rx="10" ry="8" transform="rotate(-27 696 270)" fill="#5032aa"/>
<ellipse cx="48" cy="299" rx="12" ry="7" transform="rotate(-5 48 299)" fill="#5032aa"/>
<ellipse cx="69" cy="295" rx="11" ry="6" transform="rotate(-18 69 295)" fill="#5032aa"/>
<ellipse cx="87" cy="302" rx="12" ry="8" transform="rotate(-26 87 302)" fill="#5032aa"/>
<ellipse cx="141" cy="291" rx="11" ry="7" transform="rotate(-10 141 291)" fill="#5032aa"/>
<ellipse cx="412" cy="299" rx="12" ry="7" transform="rotate(-42 412 299)" fill="#5032aa"/>
<ellipse cx="438" cy="299" rx="10" ry="7" transform="rotate(-33 438 299)" fill="#5032aa"/>
<ellipse cx="479" cy="301" rx="13" ry="6" transform="rotate(-28 479 301)" fill="#5032aa"/>
<ellipse cx="531" cy="289" rx="13" ry="6" transform="rotate(-45 531 289)" fill="#5032aa"/>
<ellipse cx="555" cy="297" rx="12" ry="6" transform="rotate(-40 555 297)" fill="#5032aa"/>
<ellipse cx="577" cy="290" rx="12" ry="7" transform="rotate(-55 577 290)" fill="#5032aa"/>
<ellipse cx="613" cy="301" rx="12" ry="7" transform="rotate(-44 613 301)" fill="#5032aa"/>
<ellipse cx="659" cy="301" rx="12" ry="7" transform="rotate(-42 659 301)" fill="#5032aa"/>
<ellipse cx="689" cy="296" rx="11" ry="7" transform="rotate(-23 689 296)" fill="#5032aa"/>
<ellipse cx="723" cy="292" rx="9" ry="7" transform="rotate(-43 723 292)" fill="#5032aa"/>
<ellipse cx="4" cy="331" rx="10" ry="8" transform="rotate(-39 4 331)" fill="#5032aa"/>
<ellipse cx="23" cy="331" rx="12" ry="7" transform="rotate(-6 23 331)" fill="#5032aa"/>
<ellipse cx="54" cy="329" rx="12" ry="7" transform="rotate(-19 54 329)" fill="#5032aa"/>
<ellipse cx="82" cy="321" rx="11" ry="6" transform="rotate(-9 82 321)" fill="#5032aa"/>
<ellipse cx="154" cy="317" rx="12" ry="7" transform="rotate(-18 154 317)" fill="#5032aa"/>
<ellipse cx="182" cy="325" rx="12" ry="8" transform="rotate(-10 182 325)" fill="#5032aa"/>
<ellipse cx="329" cy="326" rx="12" ry="7" transform="rotate(-50 329 326)" fill="#5032aa"/>
<ellipse cx="345" cy="328" rx="10" ry="7" transform="rotate(-54 345 328)" fill="#5032aa"/>
<ellipse cx="374" cy="321" rx="10" ry="7" transform="rotate(-7 374 321)" fill="#5032aa"/>
<ellipse cx="405" cy="330" rx="9" ry="7" transform="rotate(-33 405 330)" fill="#5032aa"/>
<ellipse cx="436" cy="322" rx="11" ry="6" transform="rotate(-12 436 322)" fill="#5032aa"/>
<ellipse cx="452" cy="329" rx="9" ry="6" transform="rotate(-17 452 329)" fill="#5032aa"/>
<ellipse cx="494" cy="316" rx="11" ry="8" transform="rotate(-46 494 316)" fill="#5032aa"/>
<ellipse cx="513" cy="322" rx="10" ry="8" transform="rotate(-41 513 322)" fill="#5032aa"/>
<ellipse cx="535" cy="327" rx="9" ry="7" transform="rotate(-51 535 327)" fill="#5032aa"/>
<ellipse cx="572" cy="327" rx="12" ry="7" transform="rotate(-35 572 327)" fill="#5032aa"/>
<ellipse cx="627" cy="316" rx="10" ry="8" transform="rotate(-30 627 316)" fill="#5032aa"/>
<ellipse cx="646" cy="330" rx="11" ry="7" transform="rotate(-17 646 330)" fill="#5032aa"/>
<ellipse cx="679" cy="326" rx="10" ry="6" transform="rotate(-13 679 326)" fill="#5032aa"/>
<ellipse cx="705" cy="328" rx="11" ry="8" transform="rotate(-26 705 328)" fill="#5032aa"/>
<ellipse cx="8" cy="350" rx="10" ry="6" transform="rotate(-40 8 350)" fill="#5032aa"/>
<ellipse cx="44" cy="356" rx="10" ry="6" transform="rotate(-39 44 356)" fill="#5032aa"/>
<ellipse cx="68" cy="346" rx="10" ry="8" transform="rotate(-19 68 346)" fill="#5032aa"/>
<ellipse cx="120" cy="359" rx="12" ry="7" transform="rotate(-45 120 359)" fill="#5032aa"/>
<ellipse cx="151" cy="345" rx="11" ry="6" transform="rotate(-35 151 345)" fill="#5032aa"/>
<ellipse cx="180" cy="354" rx="12" ry="7" transform="rotate(-48 180 354)" fill="#5032aa"/>
<ellipse cx="204" cy="349" rx="13" ry="7" transform="rotate(-26 204 349)" fill="#5032aa"/>
<ellipse cx="233" cy="350" rx="12" ry="8" transform="rotate(-16 233 350)" fill="#5032aa"/>
<ellipse cx="260" cy="357" rx="12" ry="7" transform="rotate(-39 260 357)" fill="#5032aa"/>
<ellipse cx="286" cy="345" rx="12" ry="7" transform="rotate(-24 286 345)" fill="#5032aa"/>
<ellipse cx="307" cy="350" rx="11" ry="7" transform="rotate(-21 307 350)" fill="#5032aa"/>
<ellipse cx="344" cy="346" rx="12" ry="7" transform="rotate(-31 344 346)" fill="#5032aa"/>
<ellipse cx="372" cy="344" rx="10" ry="8" transform="rotate(-8 372 344)" fill="#5032aa"/>
<ellipse cx="392" cy="345" rx="11" ry="7" transform="rotate(-29 392 345)" fill="#5032aa"/>
<ellipse cx="421" cy="356" rx="11" ry="8" transform="rotate(-44 421 356)" fill="#5032aa"/>
<ellipse cx="448" cy="349" rx="9" ry="8" transform="rotate(-37 448 349)" fill="#5032aa"/>
<ellipse cx="465" cy="347" rx="9" ry="7" transform="rotate(-34 465 347)" fill="#5032aa"/>
<ellipse cx="503" cy="349" rx="10" ry="7" transform="rotate(-8 503 349)" fill="#5032aa"/>
<ellipse cx="527" cy="347" rx="11" ry="6" transform="rotate(-49 527 347)" fill="#5032aa"/>
<ellipse cx="558" cy="356" rx="11" ry="7" transform="rotate(-44 558 356)" fill="#5032aa"/>
<ellipse cx="588" cy="349" rx="12" ry="8" transform="rotate(-32 588 349)" fill="#5032aa"/>
<ellipse cx="640" cy="349" rx="10" ry="7" transform="rotate(-42 640 349)" fill="#5032aa"/>
<ellipse cx="692" cy="347" rx="10" ry="7" transform="rotate(-34 692 347)" fill="#5032aa"/>
<ellipse cx="718" cy="354" rx="13" ry="8" transform="rotate(-52 718 354)" fill="#5032aa"/>
<ellipse cx="5" cy="384" rx="10" ry="8" transform="rotate(-23 5 384)" fill="#5032aa"/>
<ellipse cx="19" cy="370" rx="12" ry="7" transform="rotate(-50 19 370)" fill="#5032aa"/>
<ellipse cx="48" cy="374" rx="10" ry="6" transform="rotate(-10 48 374)" fill="#5032aa"/>
<ellipse cx="86" cy="373" rx="11" ry="8" transform="rotate(-22 86 373)" fill="#5032aa"/>
<ellipse cx="114" cy="383" rx="10" ry="7" transform="rotate(-28 114 383)" fill="#5032aa"/>
<ellipse cx="139" cy="377" rx="11" ry="7" transform="rotate(-43 139 377)" fill="#5032aa"/>
<ellipse cx="188" cy="372" rx="11" ry="7" transform="rotate(-12 188 372)" fill="#5032aa"/>
<ellipse cx="208" cy="383" rx="11" ry="7" transform="rotate(-13 208 383)" fill="#5032aa"/>
<ellipse cx="241" cy="377" rx="9" ry="7" transform="rotate(-23 241 377)" fill="#5032aa"/>
<ellipse cx="262" cy="380" rx="13" ry="7" transform="rotate(-6 262 380)" fill="#5032aa"/>
<ellipse cx="297" cy="378" rx="9" ry="7" transform="rotate(-24 297 378)" fill="#5032aa"/>
<ellipse cx="321" cy="384" rx="11" ry="7" transform="rotate(-16 321 384)" fill="#5032aa"/>
<ellipse cx="346" cy="377" rx="11" ry="8" transform="rotate(-40 346 377)" fill="#5032aa"/>
<ellipse cx="383" cy="376" rx="10" ry="7" transform="rotate(-6 383 376)" fill="#5032aa"/>
<ellipse cx="407" cy="383" rx="10" ry="7" transform="rotate(-26 407 383)" fill="#5032aa"/>
<ellipse cx="463" cy="384" rx="9" ry="7" transform="rotate(-55 463 384)" fill="#5032aa"/>
<ellipse cx="481" cy="385" rx="12" ry="8" transform="rotate(-10 481 385)" fill="#5032aa"/>
<ellipse cx="709" cy="380" rx="12" ry="8" transform="rotate(-27 709 380)" fill="#5032aa"/>
<ellipse cx="10" cy="402" rx="10" ry="7" transform="rotate(-23 10 402)" fill="#5032aa"/>
<ellipse cx="47" cy="398" rx="9" ry="6" transform="rotate(-14 47 398)" fill="#5032aa"/>
<ellipse cx="69" cy="412" rx="9" ry="7" transform="rotate(-25 69 412)" fill="#5032aa"/>
<ellipse cx="102" cy="413" rx="11" ry="6" transform="rotate(-23 102 413)" fill="#5032aa"/>
<ellipse cx="183" cy="398" rx="10" ry="6" transform="rotate(-19 183 398)" fill="#5032aa"/>
<ellipse cx="198" cy="409" rx="9" ry="8" transform="rotate(-19 198 409)" fill="#5032aa"/>
<ellipse cx="259" cy="408" rx="13" ry="7" transform="rotate(-7 259 408)" fill="#5032aa"/>
<ellipse cx="334" cy="409" rx="12" ry="7" transform="rotate(-52 334 409)" fill="#5032aa"/>
<ellipse cx="362" cy="406" rx="12" ry="6" transform="rotate(-15 362 406)" fill="#5032aa"/>
<ellipse cx="389" cy="407" rx="11" ry="7" transform="rotate(-16 389 407)" fill="#5032aa"/>
<ellipse cx="426" cy="410" rx="10" ry="6" transform="rotate(-6 426 410)" fill="#5032aa"/>
<ellipse cx="5" cy="437" rx="11" ry="7" transform="rotate(-12 5 437)" fill="#5032aa"/>
<ellipse cx="32" cy="435" rx="10" ry="6" transform="rotate(-27 32 435)" fill="#5032aa"/>
<ellipse cx="59" cy="427" rx="13" ry="6" transform="rotate(-25 59 427)" fill="#5032aa"/>
<ellipse cx="84" cy="431" rx="10" ry="8" transform="rotate(-15 84 431)" fill="#5032aa"/>
<ellipse cx="107" cy="425" rx="12" ry="6" transform="rotate(-26 107 425)" fill="#5032aa"/>
<ellipse cx="141" cy="438" rx="11" ry="7" transform="rotate(-46 141 438)" fill="#5032aa"/>
<ellipse cx="157" cy="427" rx="10" ry="7" transform="rotate(-35 157 427)" fill="#5032aa"/>
<ellipse cx="245" cy="437" rx="11" ry="7" transform="rotate(-29 245 437)" fill="#5032aa"/>
<ellipse cx="262" cy="425" rx="12" ry="7" transform="rotate(-27 262 425)" fill="#5032aa"/>
<ellipse cx="293" cy="436" rx="13" ry="8" transform="rotate(-14 293 436)" fill="#5032aa"/>
<ellipse cx="371" cy="433" rx="11" ry="8" transform="rotate(-10 371 433)" fill="#5032aa"/>
<ellipse cx="398" cy="434" rx="9" ry="8" transform="rotate(-42 398 434)" fill="#5032aa"/>
<ellipse cx="8" cy="463" rx="12" ry="7" transform="rotate(-25 8 463)" fill="#5032aa"/>
<ellipse cx="45" cy="453" rx="10" ry="6" transform="rotate(-31 45 453)" fill="#5032aa"/>
<ellipse cx="97" cy="451" rx="10" ry="6" transform="rotate(-9 97 451)" fill="#5032aa"/>
<ellipse cx="117" cy="466" rx="13" ry="6" transform="rotate(-33 117 466)" fill="#5032aa"/>
<ellipse cx="142" cy="466" rx="12" ry="7" transform="rotate(-38 142 466)" fill="#5032aa"/>
<ellipse cx="181" cy="459" rx="10" ry="6" transform="rotate(-52 181 459)" fill="#5032aa"/>
<ellipse cx="235" cy="455" rx="10" ry="7" transform="rotate(-13 235 455)" fill="#5032aa"/>
<ellipse cx="254" cy="454" rx="10" ry="8" transform="rotate(-49 254 454)" fill="#5032aa"/>
<ellipse cx="291" cy="452" rx="12" ry="6" transform="rotate(-31 291 452)" fill="#5032aa"/>
<ellipse cx="307" cy="455" rx="10" ry="8" transform="rotate(-5 307 455)" fill="#5032aa"/>
<ellipse cx="344" cy="453" rx="13" ry="6" transform="rotate(-19 344 453)" fill="#5032aa"/>
<ellipse cx="-7" cy="490" rx="12" ry="6" transform="rotate(-14 -7 490)" fill="#5032aa"/>
<ellipse cx="131" cy="481" rx="10" ry="6" transform="rotate(-36 131 481)" fill="#5032aa"/>
<ellipse cx="164" cy="478" rx="11" ry="7" transform="rotate(-49 164 478)" fill="#5032aa"/>
<ellipse cx="192" cy="491" rx="10" ry="7" transform="rotate(-36 192 491)" fill="#5032aa"/>
<ellipse cx="220" cy="479" rx="13" ry="7" transform="rotate(-29 220 479)" fill="#5032aa"/>
<ellipse cx="277" cy="482" rx="9" ry="7" transform="rotate(-14 277 482)" fill="#5032aa"/>
<ellipse cx="289" cy="480" rx="10" ry="6" transform="rotate(-25 289 480)" fill="#5032aa"/>
<ellipse cx="325" cy="486" rx="9" ry="8" transform="rotate(-19 325 486)" fill="#5032aa"/>
<ellipse cx="344" cy="480" rx="11" ry="7" transform="rotate(-49 344 480)" fill="#5032aa"/>
<ellipse cx="376" cy="480" rx="12" ry="6" transform="rotate(-26 376 480)" fill="#5032aa"/>
<ellipse cx="709" cy="493" rx="11" ry="7" transform="rotate(-37 709 493)" fill="#5032aa"/>
<ellipse cx="153" cy="519" rx="9" ry="7" transform="rotate(-42 153 519)" fill="#5032aa"/>
<ellipse cx="178" cy="509" rx="13" ry="7" transform="rotate(-42 178 509)" fill="#5032aa"/>
<ellipse cx="203" cy="512" rx="10" ry="7" transform="rotate(-23 203 512)" fill="#5032aa"/>
<ellipse cx="223" cy="515" rx="11" ry="7" transform="rotate(-32 223 515)" fill="#5032aa"/>
<ellipse cx="278" cy="510" rx="10" ry="6" transform="rotate(-51 278 510)" fill="#5032aa"/>
<ellipse cx="311" cy="518" rx="11" ry="7" transform="rotate(-45 311 518)" fill="#5032aa"/>
<ellipse cx="341" cy="512" rx="11" ry="7" transform="rotate(-39 341 512)" fill="#5032aa"/>
<ellipse cx="360" cy="509" rx="11" ry="7" transform="rotate(-54 360 509)" fill="#5032aa"/>
<ellipse cx="389" cy="519" rx="11" ry="7" transform="rotate(-41 389 519)" fill="#5032aa"/>
<ellipse cx="694" cy="518" rx="12" ry="7" transform="rotate(-17 694 518)" fill="#5032aa"/>
<ellipse cx="715" cy="518" rx="13" ry="6" transform="rotate(-11 715 518)" fill="#5032aa"/>
<ellipse cx="-8" cy="544" rx="11" ry="8" transform="rotate(-26 -8 544)" fill="#5032aa"/>
<ellipse cx="163" cy="538" rx="12" ry="8" transform="rotate(-30 163 538)" fill="#5032aa"/>
<ellipse cx="188" cy="535" rx="10" ry="7" transform="rotate(-26 188 535)" fill="#5032aa"/>
<ellipse cx="209" cy="547" rx="12" ry="8" transform="rotate(-7 209 547)" fill="#5032aa"/>
<ellipse cx="238" cy="539" rx="9" ry="6" transform="rotate(-27 238 539)" fill="#5032aa"/>
<ellipse cx="270" cy="547" rx="11" ry="8" transform="rotate(-29 270 547)" fill="#5032aa"/>
<ellipse cx="297" cy="543" rx="10" ry="7" transform="rotate(-37 297 543)" fill="#5032aa"/>
<ellipse cx="331" cy="543" rx="9" ry="7" transform="rotate(-35 331 543)" fill="#5032aa"/>
<ellipse cx="352" cy="541" rx="13" ry="7" transform="rotate(-33 352 541)" fill="#5032aa"/>
<ellipse cx="380" cy="548" rx="11" ry="8" transform="rotate(-46 380 548)" fill="#5032aa"/>
<ellipse cx="402" cy="548" rx="11" ry="6" transform="rotate(-10 402 548)" fill="#5032aa"/>
<ellipse cx="641" cy="539" rx="10" ry="7" transform="rotate(-55 641 539)" fill="#5032aa"/>
<ellipse cx="672" cy="545" rx="12" ry="6" transform="rotate(-30 672 545)" fill="#5032aa"/>
<ellipse cx="703" cy="536" rx="11" ry="8" transform="rotate(-26 703 536)" fill="#5032aa"/>
<ellipse cx="180" cy="564" rx="10" ry="6" transform="rotate(-42 180 564)" fill="#5032aa"/>
<ellipse cx="196" cy="573" rx="10" ry="7" transform="rotate(-36 196 573)" fill="#5032aa"/>
<ellipse cx="222" cy="573" rx="13" ry="7" transform="rotate(-24 222 573)" fill="#5032aa"/>
<ellipse cx="252" cy="560" rx="12" ry="7" transform="rotate(-10 252 560)" fill="#5032aa"/>
<ellipse cx="289" cy="564" rx="13" ry="7" transform="rotate(-8 289 564)" fill="#5032aa"/>
<ellipse cx="306" cy="565" rx="10" ry="7" transform="rotate(-11 306 565)" fill="#5032aa"/>
<ellipse cx="337" cy="572" rx="10" ry="7" transform="rotate(-46 337 572)" fill="#5032aa"/>
<ellipse cx="372" cy="564" rx="9" ry="7" transform="rotate(-36 372 564)" fill="#5032aa"/>
<ellipse cx="424" cy="565" rx="10" ry="7" transform="rotate(-43 424 565)" fill="#5032aa"/>
<ellipse cx="438" cy="570" rx="10" ry="7" transform="rotate(-50 438 570)" fill="#5032aa"/>
<ellipse cx="499" cy="572" rx="10" ry="7" transform="rotate(-19 499 572)" fill="#5032aa"/>
<ellipse cx="525" cy="574" rx="13" ry="7" transform="rotate(-44 525 574)" fill="#5032aa"/>
<ellipse cx="584" cy="563" rx="11" ry="7" transform="rotate(-43 584 563)" fill="#5032aa"/>
<ellipse cx="609" cy="562" rx="9" ry="7" transform="rotate(-28 609 562)" fill="#5032aa"/>
<ellipse cx="631" cy="571" rx="12" ry="7" transform="rotate(-39 631 571)" fill="#5032aa"/>
<ellipse cx="660" cy="560" rx="12" ry="7" transform="rotate(-22 660 560)" fill="#5032aa"/>
<ellipse cx="682" cy="568" rx="11" ry="7" transform="rotate(-52 682 568)" fill="#5032aa"/>
<ellipse cx="160" cy="593" rx="12" ry="6" transform="rotate(-13 160 593)" fill="#5032aa"/>
<ellipse cx="187" cy="596" rx="9" ry="8" transform="rotate(-18 187 596)" fill="#5032aa"/>
<ellipse cx="238" cy="589" rx="11" ry="6" transform="rotate(-39 238 589)" fill="#5032aa"/>
<ellipse cx="272" cy="589" rx="11" ry="7" transform="rotate(-42 272 589)" fill="#5032aa"/>
<ellipse cx="296" cy="597" rx="9" ry="8" transform="rotate(-16 296 597)" fill="#5032aa"/>
<ellipse cx="321" cy="587" rx="11" ry="6" transform="rotate(-43 321 587)" fill="#5032aa"/>
<ellipse cx="345" cy="599" rx="13" ry="7" transform="rotate(-51 345 599)" fill="#5032aa"/>
<ellipse cx="381" cy="592" rx="12" ry="7" transform="rotate(-51 381 592)" fill="#5032aa"/>
<ellipse cx="412" cy="593" rx="12" ry="7" transform="rotate(-14 412 593)" fill="#5032aa"/>
<ellipse cx="462" cy="593" rx="13" ry="6" transform="rotate(-17 462 593)" fill="#5032aa"/>
<ellipse cx="479" cy="597" rx="10" ry="7" transform="rotate(-7 479 597)" fill="#5032aa"/>
<ellipse cx="515" cy="595" rx="9" ry="7" transform="rotate(-34 515 595)" fill="#5032aa"/>
<ellipse cx="570" cy="597" rx="10" ry="7" transform="rotate(-33 570 597)" fill="#5032aa"/>
<ellipse cx="601" cy="592" rx="13" ry="6" transform="rotate(-27 601 592)" fill="#5032aa"/>
<ellipse cx="618" cy="599" rx="12" ry="6" transform="rotate(-22 618 599)" fill="#5032aa"/>
<ellipse cx="650" cy="593" rx="12" ry="6" transform="rotate(-41 650 593)" fill="#5032aa"/>
<ellipse cx="698" cy="589" rx="11" ry="6" transform="rotate(-39 698 589)" fill="#5032aa"/>
<ellipse cx="175" cy="620" rx="11" ry="6" transform="rotate(-9 175 620)" fill="#5032aa"/>
<ellipse cx="205" cy="623" rx="12" ry="7" transform="rotate(-43 205 623)" fill="#5032aa"/>
<ellipse cx="224" cy="613" rx="12" ry="7" transform="rotate(-46 224 613)" fill="#5032aa"/>
<ellipse cx="259" cy="627" rx="10" ry="8" transform="rotate(-13 259 627)" fill="#5032aa"/>
<ellipse cx="287" cy="618" rx="12" ry="7" transform="rotate(-37 287 618)" fill="#5032aa"/>
<ellipse cx="311" cy="619" rx="10" ry="6" transform="rotate(-27 311 619)" fill="#5032aa"/>
<ellipse cx="340" cy="626" rx="13" ry="8" transform="rotate(-30 340 626)" fill="#5032aa"/>
<ellipse cx="364" cy="616" rx="11" ry="6" transform="rotate(-21 364 616)" fill="#5032aa"/>
<ellipse cx="386" cy="620" rx="9" ry="6" transform="rotate(-33 386 620)" fill="#5032aa"/>
<ellipse cx="451" cy="627" rx="11" ry="7" transform="rotate(-22 451 627)" fill="#5032aa"/>
<ellipse cx="473" cy="620" rx="11" ry="7" transform="rotate(-14 473 620)" fill="#5032aa"/>
<ellipse cx="506" cy="616" rx="11" ry="7" transform="rotate(-38 506 616)" fill="#5032aa"/>
<ellipse cx="522" cy="614" rx="11" ry="8" transform="rotate(-10 522 614)" fill="#5032aa"/>
<ellipse cx="559" cy="629" rx="11" ry="8" transform="rotate(-52 559 629)" fill="#5032aa"/>
<ellipse cx="583" cy="623" rx="11" ry="8" transform="rotate(-31 583 623)" fill="#5032aa"/>
<ellipse cx="610" cy="618" rx="13" ry="6" transform="rotate(-46 610 618)" fill="#5032aa"/>
<ellipse cx="664" cy="619" rx="11" ry="7" transform="rotate(-27 664 619)" fill="#5032aa"/>
<ellipse cx="687" cy="615" rx="13" ry="7" transform="rotate(-49 687 615)" fill="#5032aa"/>
<ellipse cx="161" cy="654" rx="12" ry="8" transform="rotate(-49 161 654)" fill="#5032aa"/>
<ellipse cx="221" cy="646" rx="13" ry="7" transform="rotate(-16 221 646)" fill="#5032aa"/>
<ellipse cx="299" cy="643" rx="12" ry="7" transform="rotate(-11 299 643)" fill="#5032aa"/>
<ellipse cx="326" cy="654" rx="13" ry="8" transform="rotate(-47 326 654)" fill="#5032aa"/>
<ellipse cx="355" cy="645" rx="12" ry="8" transform="rotate(-49 355 645)" fill="#5032aa"/>
<ellipse cx="376" cy="652" rx="12" ry="6" transform="rotate(-25 376 652)" fill="#5032aa"/>
<ellipse cx="399" cy="649" rx="9" ry="8" transform="rotate(-21 399 649)" fill="#5032aa"/>
<ellipse cx="428" cy="643" rx="12" ry="7" transform="rotate(-49 428 643)" fill="#5032aa"/>
<ellipse cx="451" cy="642" rx="10" ry="7" transform="rotate(-40 451 642)" fill="#5032aa"/>
<ellipse cx="519" cy="649" rx="12" ry="8" transform="rotate(-54 519 649)" fill="#5032aa"/>
<ellipse cx="537" cy="642" rx="12" ry="8" transform="rotate(-53 537 642)" fill="#5032aa"/>
<ellipse cx="562" cy="653" rx="11" ry="7" transform="rotate(-47 562 653)" fill="#5032aa"/>
<ellipse cx="600" cy="646" rx="11" ry="6" transform="rotate(-39 600 646)" fill="#5032aa"/>
<ellipse cx="616" cy="654" rx="9" ry="6" transform="rotate(-37 616 654)" fill="#5032aa"/>
<ellipse cx="647" cy="649" rx="10" ry="6" transform="rotate(-26 647 649)" fill="#5032aa"/>
<ellipse cx="672" cy="640" rx="13" ry="6" transform="rotate(-48 672 640)" fill="#5032aa"/>
<ellipse cx="705" cy="644" rx="11" ry="7" transform="rotate(-27 705 644)" fill="#5032aa"/>
<polygon points="0,0 90,0 110,60 100,150 60,220 0,240" fill="#dcb0e8" fill-opacity="1"/>
<polygon points="150,170 250,120 400,88 550,68 708,58 708,250 600,275 480,270 400,300 300,330 200,330 150,280" fill="#dcb0e8" fill-opacity="1"/>
<ellipse cx="560" cy="462" rx="165" ry="100" transform="rotate(-15 560 462)" fill="#dcb0e8" fill-opacity="1"/>
<polygon points="0,470 120,470 150,520 150,651 0,651" fill="#dcb0e8" fill-opacity="1"/>
<polyline points="150,180 250,128 400,96 550,76 708,66" fill="none" stroke="#b08ade" stroke-width="22" stroke-opacity="0.9" stroke-linecap="round" stroke-linejoin="round"/>
<polyline points="300,322 400,292 480,262 600,267 708,242" fill="none" stroke="#b08ade" stroke-width="22" stroke-opacity="0.9" stroke-linecap="round" stroke-linejoin="round"/>
<polyline points="400,420 480,370 600,350 708,340" fill="none" stroke="#b08ade" stroke-width="22" stroke-opacity="0.8" stroke-linecap="round" stroke-linejoin="round"/>
<polyline points="420,540 560,560 708,520" fill="none" stroke="#b08ade" stroke-width="22" stroke-opacity="0.8" stroke-linecap="round" stroke-linejoin="round"/>
<polyline points="100,10 105,150 60,215" fill="none" stroke="#b08ade" stroke-width="20" stroke-opacity="0.8" stroke-linecap="round" stroke-linejoin="round"/>
<polyline points="0,475 120,475 145,530" fill="none" stroke="#b08ade" stroke-width="20" stroke-opacity="0.8" stroke-linecap="round" stroke-linejoin="round"/>
<polyline points="120,20 261,0" fill="none" stroke="#f2e6f6" stroke-width="13" stroke-opacity="0.9" stroke-linecap="round" stroke-linejoin="round"/>
<polyline points="90,126 170,95 241,65" fill="none" stroke="#f2e6f6" stroke-width="12" stroke-opacity="0.9" stroke-linecap="round" stroke-linejoin="round"/>
<polyline points="0,221 60,195 126,166" fill="none" stroke="#f2e6f6" stroke-width="12" stroke-opacity="0.9" stroke-linecap="round" stroke-linejoin="round"/>
<polyline points="25,282 90,255 151,226" fill="none" stroke="#f2e6f6" stroke-width="11" stroke-opacity="0.9" stroke-linecap="round" stroke-linejoin="round"/>
<polyline points="0,456 75,436 151,416" fill="none" stroke="#f2e6f6" stroke-width="12" stroke-opacity="0.9" stroke-linecap="round" stroke-linejoin="round"/>
<polyline points="75,386 150,370 226,356" fill="none" stroke="#f2e6f6" stroke-width="11" stroke-opacity="0.9" stroke-linecap="round" stroke-linejoin="round"/>
<polyline points="176,381 260,370 352,356" fill="none" stroke="#f2e6f6" stroke-width="12" stroke-opacity="0.9" stroke-linecap="round" stroke-linejoin="round"/>
<polyline points="191,537 270,515 357,491" fill="none" stroke="#f2e6f6" stroke-width="12" stroke-opacity="0.9" stroke-linecap="round" stroke-linejoin="round"/>
<polyline points="201,476 280,462 357,446" fill="none" stroke="#f2e6f6" stroke-width="11" stroke-opacity="0.9" stroke-linecap="round" stroke-linejoin="round"/>
<polyline points="412,346 477,335" fill="none" stroke="#f2e6f6" stroke-width="13" stroke-opacity="0.9" stroke-linecap="round" stroke-linejoin="round"/>
<polyline points="352,577 520,568 704,557" fill="none" stroke="#f2e6f6" stroke-width="13" stroke-opacity="0.9" stroke-linecap="round" stroke-linejoin="round"/>
<polyline points="352,65 450,40 553,15" fill="none" stroke="#f2e6f6" stroke-width="12" stroke-opacity="0.9" stroke-linecap="round" stroke-linejoin="round"/>
<polyline points="400,40 500,20" fill="none" stroke="#f2e6f6" stroke-width="10" stroke-opacity="0.8" stroke-linecap="round" stroke-linejoin="round"/>
<polyline points="160,620 250,600 340,580" fill="none" stroke="#f2e6f6" stroke-width="11" stroke-opacity="0.8" stroke-linecap="round" stroke-linejoin="round"/>
<polyline points="420,620 560,610 700,600" fill="none" stroke="#f2e6f6" stroke-width="11" stroke-opacity="0.8" stroke-linecap="round" stroke-linejoin="round"/>
<polyline points="560,40 650,25 708,15" fill="none" stroke="#f2e6f6" stroke-width="10" stroke-opacity="0.8" stroke-linecap="round" stroke-linejoin="round"/>
<ellipse cx="35" cy="65" rx="23" ry="20" fill="#f8f0fa" fill-opacity="1"/>
<ellipse cx="35" cy="106" rx="30" ry="20" fill="#f8f0fa" fill-opacity="1"/>
<ellipse cx="10" cy="146" rx="20" ry="20" fill="#f8f0fa" fill-opacity="0.9"/>
<ellipse cx="262" cy="201" rx="25" ry="20" fill="#f8f0fa" fill-opacity="1"/>
<ellipse cx="312" cy="181" rx="20" ry="20" fill="#f8f0fa" fill-opacity="1"/>
<ellipse cx="347" cy="221" rx="15" ry="20" fill="#f8f0fa" fill-opacity="1"/>
<ellipse cx="246" cy="252" rx="25" ry="18" fill="#f8f0fa" fill-opacity="1"/>
<ellipse cx="307" cy="272" rx="18" ry="18" fill="#f8f0fa" fill-opacity="1"/>
<ellipse cx="241" cy="287" rx="23" ry="15" fill="#f8f0fa" fill-opacity="1"/>
<ellipse cx="292" cy="307" rx="15" ry="13" fill="#f8f0fa" fill-opacity="0.9"/>
<ellipse cx="417" cy="151" rx="20" ry="18" fill="#f8f0fa" fill-opacity="1"/>
<ellipse cx="472" cy="146" rx="13" ry="13" fill="#f8f0fa" fill-opacity="1"/>
<ellipse cx="503" cy="161" rx="20" ry="18" fill="#f8f0fa" fill-opacity="1"/>
<ellipse cx="508" cy="201" rx="15" ry="10" fill="#f8f0fa" fill-opacity="0.9"/>
<ellipse cx="684" cy="131" rx="15" ry="15" fill="#f8f0fa" fill-opacity="1"/>
<ellipse cx="633" cy="141" rx="10" ry="10" fill="#f8f0fa" fill-opacity="0.8"/>
<ellipse cx="390" cy="205" rx="40" ry="35" fill="#f8f0fa" fill-opacity="1"/>
<ellipse cx="25" cy="537" rx="20" ry="20" fill="#f8f0fa" fill-opacity="1"/>
<ellipse cx="75" cy="567" rx="18" ry="15" fill="#f8f0fa" fill-opacity="1"/>
<ellipse cx="60" cy="607" rx="25" ry="23" fill="#f8f0fa" fill-opacity="1"/>
<ellipse cx="111" cy="597" rx="20" ry="18" fill="#f8f0fa" fill-opacity="1"/>
<ellipse cx="15" cy="587" rx="15" ry="15" fill="#f8f0fa" fill-opacity="0.9"/>
<ellipse cx="121" cy="541" rx="15" ry="15" fill="#f8f0fa" fill-opacity="0.9"/>
<ellipse cx="628" cy="443" rx="50" ry="30" transform="rotate(-20 628 443)" fill="#f8f0fa" fill-opacity="1"/>
<ellipse cx="528" cy="413" rx="23" ry="25" fill="#f8f0fa" fill-opacity="1"/>
<ellipse cx="508" cy="456" rx="18" ry="15" fill="#f8f0fa" fill-opacity="1"/>
<ellipse cx="535" cy="476" rx="15" ry="13" fill="#f8f0fa" fill-opacity="0.9"/>
<ellipse cx="490" cy="504" rx="23" ry="18" fill="#f8f0fa" fill-opacity="1"/>
<ellipse cx="573" cy="426" rx="13" ry="13" fill="#f8f0fa" fill-opacity="0.8"/>
<ellipse cx="573" cy="481" rx="13" ry="13" fill="#f8f0fa" fill-opacity="0.8"/>
<ellipse cx="623" cy="383" rx="15" ry="13" fill="#f8f0fa" fill-opacity="1"/>
<ellipse cx="668" cy="373" rx="13" ry="13" fill="#f8f0fa" fill-opacity="1"/>
</g></svg>
<svg style="position:absolute;left:401.7px;top:562px;overflow:hidden" width="134.5" height="123.8" viewBox="0 0 709 651" preserveAspectRatio="none">
<defs><filter id="fa4" x="-5%" y="-5%" width="110%" height="110%" color-interpolation-filters="sRGB"><feGaussianBlur stdDeviation="4"/></filter></defs>
<rect x="-20" y="-20" width="749" height="691" fill="#6e8474"/>
<g filter="url(#fa4)">
<ellipse cx="-3" cy="-6" rx="9" ry="7" transform="rotate(-37 -3 -6)" fill="#5a1a34"/>
<ellipse cx="74" cy="-1" rx="9" ry="6" transform="rotate(-24 74 -1)" fill="#5a1a34"/>
<ellipse cx="115" cy="1" rx="13" ry="6" transform="rotate(-12 115 1)" fill="#5a1a34"/>
<ellipse cx="159" cy="5" rx="11" ry="7" transform="rotate(-36 159 5)" fill="#5a1a34"/>
<ellipse cx="211" cy="3" rx="10" ry="7" transform="rotate(-32 211 3)" fill="#5a1a34"/>
<ellipse cx="240" cy="5" rx="10" ry="7" transform="rotate(-29 240 5)" fill="#5a1a34"/>
<ellipse cx="276" cy="4" rx="13" ry="6" transform="rotate(-34 276 4)" fill="#5a1a34"/>
<ellipse cx="301" cy="-6" rx="9" ry="7" transform="rotate(-17 301 -6)" fill="#5a1a34"/>
<ellipse cx="325" cy="6" rx="12" ry="7" transform="rotate(-26 325 6)" fill="#5a1a34"/>
<ellipse cx="350" cy="5" rx="11" ry="7" transform="rotate(-52 350 5)" fill="#5a1a34"/>
<ellipse cx="381" cy="2" rx="12" ry="7" transform="rotate(-36 381 2)" fill="#5a1a34"/>
<ellipse cx="408" cy="-8" rx="10" ry="6" transform="rotate(-52 408 -8)" fill="#5a1a34"/>
<ellipse cx="436" cy="-6" rx="11" ry="8" transform="rotate(-51 436 -6)" fill="#5a1a34"/>
<ellipse cx="458" cy="1" rx="12" ry="8" transform="rotate(-41 458 1)" fill="#5a1a34"/>
<ellipse cx="485" cy="-2" rx="13" ry="6" transform="rotate(-46 485 -2)" fill="#5a1a34"/>
<ellipse cx="509" cy="-4" rx="11" ry="7" transform="rotate(-55 509 -4)" fill="#5a1a34"/>
<ellipse cx="539" cy="-2" rx="13" ry="7" transform="rotate(-29 539 -2)" fill="#5a1a34"/>
<ellipse cx="600" cy="4" rx="12" ry="7" transform="rotate(-35 600 4)" fill="#5a1a34"/>
<ellipse cx="641" cy="-5" rx="10" ry="6" transform="rotate(-55 641 -5)" fill="#5a1a34"/>
<ellipse cx="669" cy="-6" rx="9" ry="8" transform="rotate(-24 669 -6)" fill="#5a1a34"/>
<ellipse cx="696" cy="-4" rx="10" ry="6" transform="rotate(-13 696 -4)" fill="#5a1a34"/>
<ellipse cx="116" cy="19" rx="11" ry="6" transform="rotate(-28 116 19)" fill="#5a1a34"/>
<ellipse cx="141" cy="27" rx="12" ry="7" transform="rotate(-42 141 27)" fill="#5a1a34"/>
<ellipse cx="173" cy="22" rx="11" ry="8" transform="rotate(-39 173 22)" fill="#5a1a34"/>
<ellipse cx="198" cy="32" rx="12" ry="8" transform="rotate(-14 198 32)" fill="#5a1a34"/>
<ellipse cx="233" cy="23" rx="10" ry="6" transform="rotate(-54 233 23)" fill="#5a1a34"/>
<ellipse cx="253" cy="23" rx="13" ry="7" transform="rotate(-8 253 23)" fill="#5a1a34"/>
<ellipse cx="291" cy="34" rx="10" ry="6" transform="rotate(-45 291 34)" fill="#5a1a34"/>
<ellipse cx="306" cy="29" rx="12" ry="7" transform="rotate(-22 306 29)" fill="#5a1a34"/>
<ellipse cx="342" cy="20" rx="13" ry="8" transform="rotate(-17 342 20)" fill="#5a1a34"/>
<ellipse cx="364" cy="22" rx="10" ry="8" transform="rotate(-6 364 22)" fill="#5a1a34"/>
<ellipse cx="390" cy="25" rx="12" ry="6" transform="rotate(-49 390 25)" fill="#5a1a34"/>
<ellipse cx="413" cy="33" rx="10" ry="8" transform="rotate(-6 413 33)" fill="#5a1a34"/>
<ellipse cx="448" cy="25" rx="10" ry="6" transform="rotate(-6 448 25)" fill="#5a1a34"/>
<ellipse cx="475" cy="27" rx="11" ry="8" transform="rotate(-14 475 27)" fill="#5a1a34"/>
<ellipse cx="495" cy="23" rx="10" ry="7" transform="rotate(-42 495 23)" fill="#5a1a34"/>
<ellipse cx="525" cy="21" rx="10" ry="7" transform="rotate(-26 525 21)" fill="#5a1a34"/>
<ellipse cx="560" cy="26" rx="11" ry="7" transform="rotate(-29 560 26)" fill="#5a1a34"/>
<ellipse cx="573" cy="26" rx="9" ry="8" transform="rotate(-46 573 26)" fill="#5a1a34"/>
<ellipse cx="607" cy="31" rx="10" ry="7" transform="rotate(-27 607 31)" fill="#5a1a34"/>
<ellipse cx="639" cy="21" rx="10" ry="7" transform="rotate(-16 639 21)" fill="#5a1a34"/>
<ellipse cx="662" cy="28" rx="13" ry="7" transform="rotate(-24 662 28)" fill="#5a1a34"/>
<ellipse cx="689" cy="27" rx="11" ry="7" transform="rotate(-31 689 27)" fill="#5a1a34"/>
<ellipse cx="723" cy="30" rx="13" ry="7" transform="rotate(-27 723 30)" fill="#5a1a34"/>
<ellipse cx="111" cy="59" rx="10" ry="7" transform="rotate(-22 111 59)" fill="#5a1a34"/>
<ellipse cx="129" cy="60" rx="10" ry="8" transform="rotate(-35 129 60)" fill="#5a1a34"/>
<ellipse cx="162" cy="62" rx="10" ry="7" transform="rotate(-29 162 62)" fill="#5a1a34"/>
<ellipse cx="186" cy="49" rx="12" ry="6" transform="rotate(-27 186 49)" fill="#5a1a34"/>
<ellipse cx="215" cy="46" rx="11" ry="7" transform="rotate(-52 215 46)" fill="#5a1a34"/>
<ellipse cx="251" cy="59" rx="9" ry="7" transform="rotate(-53 251 59)" fill="#5a1a34"/>
<ellipse cx="296" cy="61" rx="10" ry="6" transform="rotate(-9 296 61)" fill="#5a1a34"/>
<ellipse cx="344" cy="57" rx="9" ry="8" transform="rotate(-23 344 57)" fill="#5a1a34"/>
<ellipse cx="383" cy="47" rx="9" ry="8" transform="rotate(-32 383 47)" fill="#5a1a34"/>
<ellipse cx="402" cy="55" rx="10" ry="6" transform="rotate(-29 402 55)" fill="#5a1a34"/>
<ellipse cx="428" cy="48" rx="9" ry="6" transform="rotate(-39 428 48)" fill="#5a1a34"/>
<ellipse cx="456" cy="58" rx="11" ry="6" transform="rotate(-38 456 58)" fill="#5a1a34"/>
<ellipse cx="517" cy="55" rx="11" ry="8" transform="rotate(-50 517 55)" fill="#5a1a34"/>
<ellipse cx="545" cy="53" rx="12" ry="7" transform="rotate(-30 545 53)" fill="#5a1a34"/>
<ellipse cx="570" cy="62" rx="12" ry="7" transform="rotate(-23 570 62)" fill="#5a1a34"/>
<ellipse cx="615" cy="47" rx="10" ry="6" transform="rotate(-51 615 47)" fill="#5a1a34"/>
<ellipse cx="653" cy="60" rx="10" ry="6" transform="rotate(-40 653 60)" fill="#5a1a34"/>
<ellipse cx="674" cy="49" rx="10" ry="8" transform="rotate(-6 674 49)" fill="#5a1a34"/>
<ellipse cx="703" cy="50" rx="10" ry="7" transform="rotate(-55 703 50)" fill="#5a1a34"/>
<ellipse cx="145" cy="77" rx="11" ry="8" transform="rotate(-22 145 77)" fill="#5a1a34"/>
<ellipse cx="179" cy="87" rx="10" ry="8" transform="rotate(-48 179 87)" fill="#5a1a34"/>
<ellipse cx="235" cy="87" rx="12" ry="8" transform="rotate(-48 235 87)" fill="#5a1a34"/>
<ellipse cx="257" cy="81" rx="12" ry="8" transform="rotate(-26 257 81)" fill="#5a1a34"/>
<ellipse cx="290" cy="84" rx="10" ry="6" transform="rotate(-48 290 84)" fill="#5a1a34"/>
<ellipse cx="308" cy="75" rx="11" ry="7" transform="rotate(-24 308 75)" fill="#5a1a34"/>
<ellipse cx="369" cy="85" rx="11" ry="7" transform="rotate(-52 369 85)" fill="#5a1a34"/>
<ellipse cx="415" cy="85" rx="12" ry="8" transform="rotate(-30 415 85)" fill="#5a1a34"/>
<ellipse cx="444" cy="81" rx="12" ry="7" transform="rotate(-23 444 81)" fill="#5a1a34"/>
<ellipse cx="466" cy="75" rx="12" ry="7" transform="rotate(-27 466 75)" fill="#5a1a34"/>
<ellipse cx="492" cy="74" rx="12" ry="7" transform="rotate(-21 492 74)" fill="#5a1a34"/>
<ellipse cx="712" cy="76" rx="10" ry="7" transform="rotate(-48 712 76)" fill="#5a1a34"/>
<ellipse cx="127" cy="108" rx="10" ry="6" transform="rotate(-38 127 108)" fill="#5a1a34"/>
<ellipse cx="223" cy="111" rx="10" ry="7" transform="rotate(-35 223 111)" fill="#5a1a34"/>
<ellipse cx="251" cy="109" rx="11" ry="7" transform="rotate(-53 251 109)" fill="#5a1a34"/>
<ellipse cx="264" cy="113" rx="13" ry="6" transform="rotate(-42 264 113)" fill="#5a1a34"/>
<ellipse cx="297" cy="103" rx="13" ry="8" transform="rotate(-14 297 103)" fill="#5a1a34"/>
<ellipse cx="117" cy="131" rx="13" ry="7" transform="rotate(-34 117 131)" fill="#5a1a34"/>
<ellipse cx="147" cy="135" rx="10" ry="6" transform="rotate(-41 147 135)" fill="#5a1a34"/>
<ellipse cx="183" cy="129" rx="12" ry="8" transform="rotate(-44 183 129)" fill="#5a1a34"/>
<ellipse cx="199" cy="131" rx="11" ry="8" transform="rotate(-13 199 131)" fill="#5a1a34"/>
<ellipse cx="716" cy="136" rx="10" ry="7" transform="rotate(-54 716 136)" fill="#5a1a34"/>
<ellipse cx="-3" cy="161" rx="12" ry="8" transform="rotate(-31 -3 161)" fill="#5a1a34"/>
<ellipse cx="108" cy="165" rx="10" ry="7" transform="rotate(-9 108 165)" fill="#5a1a34"/>
<ellipse cx="131" cy="155" rx="11" ry="7" transform="rotate(-45 131 155)" fill="#5a1a34"/>
<ellipse cx="92" cy="194" rx="11" ry="6" transform="rotate(-31 92 194)" fill="#5a1a34"/>
<ellipse cx="119" cy="196" rx="10" ry="8" transform="rotate(-53 119 196)" fill="#5a1a34"/>
<ellipse cx="147" cy="194" rx="9" ry="6" transform="rotate(-52 147 194)" fill="#5a1a34"/>
<ellipse cx="74" cy="210" rx="12" ry="7" transform="rotate(-43 74 210)" fill="#5a1a34"/>
<ellipse cx="107" cy="218" rx="12" ry="8" transform="rotate(-22 107 218)" fill="#5a1a34"/>
<ellipse cx="129" cy="221" rx="11" ry="7" transform="rotate(-18 129 221)" fill="#5a1a34"/>
<ellipse cx="38" cy="246" rx="10" ry="6" transform="rotate(-15 38 246)" fill="#5a1a34"/>
<ellipse cx="93" cy="244" rx="9" ry="6" transform="rotate(-20 93 244)" fill="#5a1a34"/>
<ellipse cx="120" cy="240" rx="13" ry="7" transform="rotate(-27 120 240)" fill="#5a1a34"/>
<ellipse cx="146" cy="242" rx="13" ry="7" transform="rotate(-45 146 242)" fill="#5a1a34"/>
<ellipse cx="714" cy="249" rx="10" ry="6" transform="rotate(-35 714 249)" fill="#5a1a34"/>
<ellipse cx="23" cy="274" rx="9" ry="7" transform="rotate(-17 23 274)" fill="#5a1a34"/>
<ellipse cx="83" cy="271" rx="10" ry="7" transform="rotate(-26 83 271)" fill="#5a1a34"/>
<ellipse cx="107" cy="273" rx="11" ry="6" transform="rotate(-24 107 273)" fill="#5a1a34"/>
<ellipse cx="135" cy="266" rx="12" ry="7" transform="rotate(-46 135 266)" fill="#5a1a34"/>
<ellipse cx="486" cy="277" rx="10" ry="8" transform="rotate(-8 486 277)" fill="#5a1a34"/>
<ellipse cx="621" cy="277" rx="10" ry="7" transform="rotate(-39 621 277)" fill="#5a1a34"/>
<ellipse cx="670" cy="277" rx="13" ry="6" transform="rotate(-16 670 277)" fill="#5a1a34"/>
<ellipse cx="696" cy="270" rx="10" ry="8" transform="rotate(-27 696 270)" fill="#5a1a34"/>
<ellipse cx="48" cy="299" rx="12" ry="7" transform="rotate(-5 48 299)" fill="#5a1a34"/>
<ellipse cx="69" cy="295" rx="11" ry="6" transform="rotate(-18 69 295)" fill="#5a1a34"/>
<ellipse cx="87" cy="302" rx="12" ry="8" transform="rotate(-26 87 302)" fill="#5a1a34"/>
<ellipse cx="141" cy="291" rx="11" ry="7" transform="rotate(-10 141 291)" fill="#5a1a34"/>
<ellipse cx="412" cy="299" rx="12" ry="7" transform="rotate(-42 412 299)" fill="#5a1a34"/>
<ellipse cx="438" cy="299" rx="10" ry="7" transform="rotate(-33 438 299)" fill="#5a1a34"/>
<ellipse cx="479" cy="301" rx="13" ry="6" transform="rotate(-28 479 301)" fill="#5a1a34"/>
<ellipse cx="531" cy="289" rx="13" ry="6" transform="rotate(-45 531 289)" fill="#5a1a34"/>
<ellipse cx="555" cy="297" rx="12" ry="6" transform="rotate(-40 555 297)" fill="#5a1a34"/>
<ellipse cx="577" cy="290" rx="12" ry="7" transform="rotate(-55 577 290)" fill="#5a1a34"/>
<ellipse cx="613" cy="301" rx="12" ry="7" transform="rotate(-44 613 301)" fill="#5a1a34"/>
<ellipse cx="659" cy="301" rx="12" ry="7" transform="rotate(-42 659 301)" fill="#5a1a34"/>
<ellipse cx="689" cy="296" rx="11" ry="7" transform="rotate(-23 689 296)" fill="#5a1a34"/>
<ellipse cx="723" cy="292" rx="9" ry="7" transform="rotate(-43 723 292)" fill="#5a1a34"/>
<ellipse cx="4" cy="331" rx="10" ry="8" transform="rotate(-39 4 331)" fill="#5a1a34"/>
<ellipse cx="23" cy="331" rx="12" ry="7" transform="rotate(-6 23 331)" fill="#5a1a34"/>
<ellipse cx="54" cy="329" rx="12" ry="7" transform="rotate(-19 54 329)" fill="#5a1a34"/>
<ellipse cx="82" cy="321" rx="11" ry="6" transform="rotate(-9 82 321)" fill="#5a1a34"/>
<ellipse cx="154" cy="317" rx="12" ry="7" transform="rotate(-18 154 317)" fill="#5a1a34"/>
<ellipse cx="182" cy="325" rx="12" ry="8" transform="rotate(-10 182 325)" fill="#5a1a34"/>
<ellipse cx="329" cy="326" rx="12" ry="7" transform="rotate(-50 329 326)" fill="#5a1a34"/>
<ellipse cx="345" cy="328" rx="10" ry="7" transform="rotate(-54 345 328)" fill="#5a1a34"/>
<ellipse cx="374" cy="321" rx="10" ry="7" transform="rotate(-7 374 321)" fill="#5a1a34"/>
<ellipse cx="405" cy="330" rx="9" ry="7" transform="rotate(-33 405 330)" fill="#5a1a34"/>
<ellipse cx="436" cy="322" rx="11" ry="6" transform="rotate(-12 436 322)" fill="#5a1a34"/>
<ellipse cx="452" cy="329" rx="9" ry="6" transform="rotate(-17 452 329)" fill="#5a1a34"/>
<ellipse cx="494" cy="316" rx="11" ry="8" transform="rotate(-46 494 316)" fill="#5a1a34"/>
<ellipse cx="513" cy="322" rx="10" ry="8" transform="rotate(-41 513 322)" fill="#5a1a34"/>
<ellipse cx="535" cy="327" rx="9" ry="7" transform="rotate(-51 535 327)" fill="#5a1a34"/>
<ellipse cx="572" cy="327" rx="12" ry="7" transform="rotate(-35 572 327)" fill="#5a1a34"/>
<ellipse cx="627" cy="316" rx="10" ry="8" transform="rotate(-30 627 316)" fill="#5a1a34"/>
<ellipse cx="646" cy="330" rx="11" ry="7" transform="rotate(-17 646 330)" fill="#5a1a34"/>
<ellipse cx="679" cy="326" rx="10" ry="6" transform="rotate(-13 679 326)" fill="#5a1a34"/>
<ellipse cx="705" cy="328" rx="11" ry="8" transform="rotate(-26 705 328)" fill="#5a1a34"/>
<ellipse cx="8" cy="350" rx="10" ry="6" transform="rotate(-40 8 350)" fill="#5a1a34"/>
<ellipse cx="44" cy="356" rx="10" ry="6" transform="rotate(-39 44 356)" fill="#5a1a34"/>
<ellipse cx="68" cy="346" rx="10" ry="8" transform="rotate(-19 68 346)" fill="#5a1a34"/>
<ellipse cx="120" cy="359" rx="12" ry="7" transform="rotate(-45 120 359)" fill="#5a1a34"/>
<ellipse cx="151" cy="345" rx="11" ry="6" transform="rotate(-35 151 345)" fill="#5a1a34"/>
<ellipse cx="180" cy="354" rx="12" ry="7" transform="rotate(-48 180 354)" fill="#5a1a34"/>
<ellipse cx="204" cy="349" rx="13" ry="7" transform="rotate(-26 204 349)" fill="#5a1a34"/>
<ellipse cx="233" cy="350" rx="12" ry="8" transform="rotate(-16 233 350)" fill="#5a1a34"/>
<ellipse cx="260" cy="357" rx="12" ry="7" transform="rotate(-39 260 357)" fill="#5a1a34"/>
<ellipse cx="286" cy="345" rx="12" ry="7" transform="rotate(-24 286 345)" fill="#5a1a34"/>
<ellipse cx="307" cy="350" rx="11" ry="7" transform="rotate(-21 307 350)" fill="#5a1a34"/>
<ellipse cx="344" cy="346" rx="12" ry="7" transform="rotate(-31 344 346)" fill="#5a1a34"/>
<ellipse cx="372" cy="344" rx="10" ry="8" transform="rotate(-8 372 344)" fill="#5a1a34"/>
<ellipse cx="392" cy="345" rx="11" ry="7" transform="rotate(-29 392 345)" fill="#5a1a34"/>
<ellipse cx="421" cy="356" rx="11" ry="8" transform="rotate(-44 421 356)" fill="#5a1a34"/>
<ellipse cx="448" cy="349" rx="9" ry="8" transform="rotate(-37 448 349)" fill="#5a1a34"/>
<ellipse cx="465" cy="347" rx="9" ry="7" transform="rotate(-34 465 347)" fill="#5a1a34"/>
<ellipse cx="503" cy="349" rx="10" ry="7" transform="rotate(-8 503 349)" fill="#5a1a34"/>
<ellipse cx="527" cy="347" rx="11" ry="6" transform="rotate(-49 527 347)" fill="#5a1a34"/>
<ellipse cx="558" cy="356" rx="11" ry="7" transform="rotate(-44 558 356)" fill="#5a1a34"/>
<ellipse cx="588" cy="349" rx="12" ry="8" transform="rotate(-32 588 349)" fill="#5a1a34"/>
<ellipse cx="640" cy="349" rx="10" ry="7" transform="rotate(-42 640 349)" fill="#5a1a34"/>
<ellipse cx="692" cy="347" rx="10" ry="7" transform="rotate(-34 692 347)" fill="#5a1a34"/>
<ellipse cx="718" cy="354" rx="13" ry="8" transform="rotate(-52 718 354)" fill="#5a1a34"/>
<ellipse cx="5" cy="384" rx="10" ry="8" transform="rotate(-23 5 384)" fill="#5a1a34"/>
<ellipse cx="19" cy="370" rx="12" ry="7" transform="rotate(-50 19 370)" fill="#5a1a34"/>
<ellipse cx="48" cy="374" rx="10" ry="6" transform="rotate(-10 48 374)" fill="#5a1a34"/>
<ellipse cx="86" cy="373" rx="11" ry="8" transform="rotate(-22 86 373)" fill="#5a1a34"/>
<ellipse cx="114" cy="383" rx="10" ry="7" transform="rotate(-28 114 383)" fill="#5a1a34"/>
<ellipse cx="139" cy="377" rx="11" ry="7" transform="rotate(-43 139 377)" fill="#5a1a34"/>
<ellipse cx="188" cy="372" rx="11" ry="7" transform="rotate(-12 188 372)" fill="#5a1a34"/>
<ellipse cx="208" cy="383" rx="11" ry="7" transform="rotate(-13 208 383)" fill="#5a1a34"/>
<ellipse cx="241" cy="377" rx="9" ry="7" transform="rotate(-23 241 377)" fill="#5a1a34"/>
<ellipse cx="262" cy="380" rx="13" ry="7" transform="rotate(-6 262 380)" fill="#5a1a34"/>
<ellipse cx="297" cy="378" rx="9" ry="7" transform="rotate(-24 297 378)" fill="#5a1a34"/>
<ellipse cx="321" cy="384" rx="11" ry="7" transform="rotate(-16 321 384)" fill="#5a1a34"/>
<ellipse cx="346" cy="377" rx="11" ry="8" transform="rotate(-40 346 377)" fill="#5a1a34"/>
<ellipse cx="383" cy="376" rx="10" ry="7" transform="rotate(-6 383 376)" fill="#5a1a34"/>
<ellipse cx="407" cy="383" rx="10" ry="7" transform="rotate(-26 407 383)" fill="#5a1a34"/>
<ellipse cx="463" cy="384" rx="9" ry="7" transform="rotate(-55 463 384)" fill="#5a1a34"/>
<ellipse cx="481" cy="385" rx="12" ry="8" transform="rotate(-10 481 385)" fill="#5a1a34"/>
<ellipse cx="709" cy="380" rx="12" ry="8" transform="rotate(-27 709 380)" fill="#5a1a34"/>
<ellipse cx="10" cy="402" rx="10" ry="7" transform="rotate(-23 10 402)" fill="#5a1a34"/>
<ellipse cx="47" cy="398" rx="9" ry="6" transform="rotate(-14 47 398)" fill="#5a1a34"/>
<ellipse cx="69" cy="412" rx="9" ry="7" transform="rotate(-25 69 412)" fill="#5a1a34"/>
<ellipse cx="102" cy="413" rx="11" ry="6" transform="rotate(-23 102 413)" fill="#5a1a34"/>
<ellipse cx="183" cy="398" rx="10" ry="6" transform="rotate(-19 183 398)" fill="#5a1a34"/>
<ellipse cx="198" cy="409" rx="9" ry="8" transform="rotate(-19 198 409)" fill="#5a1a34"/>
<ellipse cx="259" cy="408" rx="13" ry="7" transform="rotate(-7 259 408)" fill="#5a1a34"/>
<ellipse cx="334" cy="409" rx="12" ry="7" transform="rotate(-52 334 409)" fill="#5a1a34"/>
<ellipse cx="362" cy="406" rx="12" ry="6" transform="rotate(-15 362 406)" fill="#5a1a34"/>
<ellipse cx="389" cy="407" rx="11" ry="7" transform="rotate(-16 389 407)" fill="#5a1a34"/>
<ellipse cx="426" cy="410" rx="10" ry="6" transform="rotate(-6 426 410)" fill="#5a1a34"/>
<ellipse cx="5" cy="437" rx="11" ry="7" transform="rotate(-12 5 437)" fill="#5a1a34"/>
<ellipse cx="32" cy="435" rx="10" ry="6" transform="rotate(-27 32 435)" fill="#5a1a34"/>
<ellipse cx="59" cy="427" rx="13" ry="6" transform="rotate(-25 59 427)" fill="#5a1a34"/>
<ellipse cx="84" cy="431" rx="10" ry="8" transform="rotate(-15 84 431)" fill="#5a1a34"/>
<ellipse cx="107" cy="425" rx="12" ry="6" transform="rotate(-26 107 425)" fill="#5a1a34"/>
<ellipse cx="141" cy="438" rx="11" ry="7" transform="rotate(-46 141 438)" fill="#5a1a34"/>
<ellipse cx="157" cy="427" rx="10" ry="7" transform="rotate(-35 157 427)" fill="#5a1a34"/>
<ellipse cx="245" cy="437" rx="11" ry="7" transform="rotate(-29 245 437)" fill="#5a1a34"/>
<ellipse cx="262" cy="425" rx="12" ry="7" transform="rotate(-27 262 425)" fill="#5a1a34"/>
<ellipse cx="293" cy="436" rx="13" ry="8" transform="rotate(-14 293 436)" fill="#5a1a34"/>
<ellipse cx="371" cy="433" rx="11" ry="8" transform="rotate(-10 371 433)" fill="#5a1a34"/>
<ellipse cx="398" cy="434" rx="9" ry="8" transform="rotate(-42 398 434)" fill="#5a1a34"/>
<ellipse cx="8" cy="463" rx="12" ry="7" transform="rotate(-25 8 463)" fill="#5a1a34"/>
<ellipse cx="45" cy="453" rx="10" ry="6" transform="rotate(-31 45 453)" fill="#5a1a34"/>
<ellipse cx="97" cy="451" rx="10" ry="6" transform="rotate(-9 97 451)" fill="#5a1a34"/>
<ellipse cx="117" cy="466" rx="13" ry="6" transform="rotate(-33 117 466)" fill="#5a1a34"/>
<ellipse cx="142" cy="466" rx="12" ry="7" transform="rotate(-38 142 466)" fill="#5a1a34"/>
<ellipse cx="181" cy="459" rx="10" ry="6" transform="rotate(-52 181 459)" fill="#5a1a34"/>
<ellipse cx="235" cy="455" rx="10" ry="7" transform="rotate(-13 235 455)" fill="#5a1a34"/>
<ellipse cx="254" cy="454" rx="10" ry="8" transform="rotate(-49 254 454)" fill="#5a1a34"/>
<ellipse cx="291" cy="452" rx="12" ry="6" transform="rotate(-31 291 452)" fill="#5a1a34"/>
<ellipse cx="307" cy="455" rx="10" ry="8" transform="rotate(-5 307 455)" fill="#5a1a34"/>
<ellipse cx="344" cy="453" rx="13" ry="6" transform="rotate(-19 344 453)" fill="#5a1a34"/>
<ellipse cx="-7" cy="490" rx="12" ry="6" transform="rotate(-14 -7 490)" fill="#5a1a34"/>
<ellipse cx="131" cy="481" rx="10" ry="6" transform="rotate(-36 131 481)" fill="#5a1a34"/>
<ellipse cx="164" cy="478" rx="11" ry="7" transform="rotate(-49 164 478)" fill="#5a1a34"/>
<ellipse cx="192" cy="491" rx="10" ry="7" transform="rotate(-36 192 491)" fill="#5a1a34"/>
<ellipse cx="220" cy="479" rx="13" ry="7" transform="rotate(-29 220 479)" fill="#5a1a34"/>
<ellipse cx="277" cy="482" rx="9" ry="7" transform="rotate(-14 277 482)" fill="#5a1a34"/>
<ellipse cx="289" cy="480" rx="10" ry="6" transform="rotate(-25 289 480)" fill="#5a1a34"/>
<ellipse cx="325" cy="486" rx="9" ry="8" transform="rotate(-19 325 486)" fill="#5a1a34"/>
<ellipse cx="344" cy="480" rx="11" ry="7" transform="rotate(-49 344 480)" fill="#5a1a34"/>
<ellipse cx="376" cy="480" rx="12" ry="6" transform="rotate(-26 376 480)" fill="#5a1a34"/>
<ellipse cx="709" cy="493" rx="11" ry="7" transform="rotate(-37 709 493)" fill="#5a1a34"/>
<ellipse cx="153" cy="519" rx="9" ry="7" transform="rotate(-42 153 519)" fill="#5a1a34"/>
<ellipse cx="178" cy="509" rx="13" ry="7" transform="rotate(-42 178 509)" fill="#5a1a34"/>
<ellipse cx="203" cy="512" rx="10" ry="7" transform="rotate(-23 203 512)" fill="#5a1a34"/>
<ellipse cx="223" cy="515" rx="11" ry="7" transform="rotate(-32 223 515)" fill="#5a1a34"/>
<ellipse cx="278" cy="510" rx="10" ry="6" transform="rotate(-51 278 510)" fill="#5a1a34"/>
<ellipse cx="311" cy="518" rx="11" ry="7" transform="rotate(-45 311 518)" fill="#5a1a34"/>
<ellipse cx="341" cy="512" rx="11" ry="7" transform="rotate(-39 341 512)" fill="#5a1a34"/>
<ellipse cx="360" cy="509" rx="11" ry="7" transform="rotate(-54 360 509)" fill="#5a1a34"/>
<ellipse cx="389" cy="519" rx="11" ry="7" transform="rotate(-41 389 519)" fill="#5a1a34"/>
<ellipse cx="694" cy="518" rx="12" ry="7" transform="rotate(-17 694 518)" fill="#5a1a34"/>
<ellipse cx="715" cy="518" rx="13" ry="6" transform="rotate(-11 715 518)" fill="#5a1a34"/>
<ellipse cx="-8" cy="544" rx="11" ry="8" transform="rotate(-26 -8 544)" fill="#5a1a34"/>
<ellipse cx="163" cy="538" rx="12" ry="8" transform="rotate(-30 163 538)" fill="#5a1a34"/>
<ellipse cx="188" cy="535" rx="10" ry="7" transform="rotate(-26 188 535)" fill="#5a1a34"/>
<ellipse cx="209" cy="547" rx="12" ry="8" transform="rotate(-7 209 547)" fill="#5a1a34"/>
<ellipse cx="238" cy="539" rx="9" ry="6" transform="rotate(-27 238 539)" fill="#5a1a34"/>
<ellipse cx="270" cy="547" rx="11" ry="8" transform="rotate(-29 270 547)" fill="#5a1a34"/>
<ellipse cx="297" cy="543" rx="10" ry="7" transform="rotate(-37 297 543)" fill="#5a1a34"/>
<ellipse cx="331" cy="543" rx="9" ry="7" transform="rotate(-35 331 543)" fill="#5a1a34"/>
<ellipse cx="352" cy="541" rx="13" ry="7" transform="rotate(-33 352 541)" fill="#5a1a34"/>
<ellipse cx="380" cy="548" rx="11" ry="8" transform="rotate(-46 380 548)" fill="#5a1a34"/>
<ellipse cx="402" cy="548" rx="11" ry="6" transform="rotate(-10 402 548)" fill="#5a1a34"/>
<ellipse cx="641" cy="539" rx="10" ry="7" transform="rotate(-55 641 539)" fill="#5a1a34"/>
<ellipse cx="672" cy="545" rx="12" ry="6" transform="rotate(-30 672 545)" fill="#5a1a34"/>
<ellipse cx="703" cy="536" rx="11" ry="8" transform="rotate(-26 703 536)" fill="#5a1a34"/>
<ellipse cx="180" cy="564" rx="10" ry="6" transform="rotate(-42 180 564)" fill="#5a1a34"/>
<ellipse cx="196" cy="573" rx="10" ry="7" transform="rotate(-36 196 573)" fill="#5a1a34"/>
<ellipse cx="222" cy="573" rx="13" ry="7" transform="rotate(-24 222 573)" fill="#5a1a34"/>
<ellipse cx="252" cy="560" rx="12" ry="7" transform="rotate(-10 252 560)" fill="#5a1a34"/>
<ellipse cx="289" cy="564" rx="13" ry="7" transform="rotate(-8 289 564)" fill="#5a1a34"/>
<ellipse cx="306" cy="565" rx="10" ry="7" transform="rotate(-11 306 565)" fill="#5a1a34"/>
<ellipse cx="337" cy="572" rx="10" ry="7" transform="rotate(-46 337 572)" fill="#5a1a34"/>
<ellipse cx="372" cy="564" rx="9" ry="7" transform="rotate(-36 372 564)" fill="#5a1a34"/>
<ellipse cx="424" cy="565" rx="10" ry="7" transform="rotate(-43 424 565)" fill="#5a1a34"/>
<ellipse cx="438" cy="570" rx="10" ry="7" transform="rotate(-50 438 570)" fill="#5a1a34"/>
<ellipse cx="499" cy="572" rx="10" ry="7" transform="rotate(-19 499 572)" fill="#5a1a34"/>
<ellipse cx="525" cy="574" rx="13" ry="7" transform="rotate(-44 525 574)" fill="#5a1a34"/>
<ellipse cx="584" cy="563" rx="11" ry="7" transform="rotate(-43 584 563)" fill="#5a1a34"/>
<ellipse cx="609" cy="562" rx="9" ry="7" transform="rotate(-28 609 562)" fill="#5a1a34"/>
<ellipse cx="631" cy="571" rx="12" ry="7" transform="rotate(-39 631 571)" fill="#5a1a34"/>
<ellipse cx="660" cy="560" rx="12" ry="7" transform="rotate(-22 660 560)" fill="#5a1a34"/>
<ellipse cx="682" cy="568" rx="11" ry="7" transform="rotate(-52 682 568)" fill="#5a1a34"/>
<ellipse cx="160" cy="593" rx="12" ry="6" transform="rotate(-13 160 593)" fill="#5a1a34"/>
<ellipse cx="187" cy="596" rx="9" ry="8" transform="rotate(-18 187 596)" fill="#5a1a34"/>
<ellipse cx="238" cy="589" rx="11" ry="6" transform="rotate(-39 238 589)" fill="#5a1a34"/>
<ellipse cx="272" cy="589" rx="11" ry="7" transform="rotate(-42 272 589)" fill="#5a1a34"/>
<ellipse cx="296" cy="597" rx="9" ry="8" transform="rotate(-16 296 597)" fill="#5a1a34"/>
<ellipse cx="321" cy="587" rx="11" ry="6" transform="rotate(-43 321 587)" fill="#5a1a34"/>
<ellipse cx="345" cy="599" rx="13" ry="7" transform="rotate(-51 345 599)" fill="#5a1a34"/>
<ellipse cx="381" cy="592" rx="12" ry="7" transform="rotate(-51 381 592)" fill="#5a1a34"/>
<ellipse cx="412" cy="593" rx="12" ry="7" transform="rotate(-14 412 593)" fill="#5a1a34"/>
<ellipse cx="462" cy="593" rx="13" ry="6" transform="rotate(-17 462 593)" fill="#5a1a34"/>
<ellipse cx="479" cy="597" rx="10" ry="7" transform="rotate(-7 479 597)" fill="#5a1a34"/>
<ellipse cx="515" cy="595" rx="9" ry="7" transform="rotate(-34 515 595)" fill="#5a1a34"/>
<ellipse cx="570" cy="597" rx="10" ry="7" transform="rotate(-33 570 597)" fill="#5a1a34"/>
<ellipse cx="601" cy="592" rx="13" ry="6" transform="rotate(-27 601 592)" fill="#5a1a34"/>
<ellipse cx="618" cy="599" rx="12" ry="6" transform="rotate(-22 618 599)" fill="#5a1a34"/>
<ellipse cx="650" cy="593" rx="12" ry="6" transform="rotate(-41 650 593)" fill="#5a1a34"/>
<ellipse cx="698" cy="589" rx="11" ry="6" transform="rotate(-39 698 589)" fill="#5a1a34"/>
<ellipse cx="175" cy="620" rx="11" ry="6" transform="rotate(-9 175 620)" fill="#5a1a34"/>
<ellipse cx="205" cy="623" rx="12" ry="7" transform="rotate(-43 205 623)" fill="#5a1a34"/>
<ellipse cx="224" cy="613" rx="12" ry="7" transform="rotate(-46 224 613)" fill="#5a1a34"/>
<ellipse cx="259" cy="627" rx="10" ry="8" transform="rotate(-13 259 627)" fill="#5a1a34"/>
<ellipse cx="287" cy="618" rx="12" ry="7" transform="rotate(-37 287 618)" fill="#5a1a34"/>
<ellipse cx="311" cy="619" rx="10" ry="6" transform="rotate(-27 311 619)" fill="#5a1a34"/>
<ellipse cx="340" cy="626" rx="13" ry="8" transform="rotate(-30 340 626)" fill="#5a1a34"/>
<ellipse cx="364" cy="616" rx="11" ry="6" transform="rotate(-21 364 616)" fill="#5a1a34"/>
<ellipse cx="386" cy="620" rx="9" ry="6" transform="rotate(-33 386 620)" fill="#5a1a34"/>
<ellipse cx="451" cy="627" rx="11" ry="7" transform="rotate(-22 451 627)" fill="#5a1a34"/>
<ellipse cx="473" cy="620" rx="11" ry="7" transform="rotate(-14 473 620)" fill="#5a1a34"/>
<ellipse cx="506" cy="616" rx="11" ry="7" transform="rotate(-38 506 616)" fill="#5a1a34"/>
<ellipse cx="522" cy="614" rx="11" ry="8" transform="rotate(-10 522 614)" fill="#5a1a34"/>
<ellipse cx="559" cy="629" rx="11" ry="8" transform="rotate(-52 559 629)" fill="#5a1a34"/>
<ellipse cx="583" cy="623" rx="11" ry="8" transform="rotate(-31 583 623)" fill="#5a1a34"/>
<ellipse cx="610" cy="618" rx="13" ry="6" transform="rotate(-46 610 618)" fill="#5a1a34"/>
<ellipse cx="664" cy="619" rx="11" ry="7" transform="rotate(-27 664 619)" fill="#5a1a34"/>
<ellipse cx="687" cy="615" rx="13" ry="7" transform="rotate(-49 687 615)" fill="#5a1a34"/>
<ellipse cx="161" cy="654" rx="12" ry="8" transform="rotate(-49 161 654)" fill="#5a1a34"/>
<ellipse cx="221" cy="646" rx="13" ry="7" transform="rotate(-16 221 646)" fill="#5a1a34"/>
<ellipse cx="299" cy="643" rx="12" ry="7" transform="rotate(-11 299 643)" fill="#5a1a34"/>
<ellipse cx="326" cy="654" rx="13" ry="8" transform="rotate(-47 326 654)" fill="#5a1a34"/>
<ellipse cx="355" cy="645" rx="12" ry="8" transform="rotate(-49 355 645)" fill="#5a1a34"/>
<ellipse cx="376" cy="652" rx="12" ry="6" transform="rotate(-25 376 652)" fill="#5a1a34"/>
<ellipse cx="399" cy="649" rx="9" ry="8" transform="rotate(-21 399 649)" fill="#5a1a34"/>
<ellipse cx="428" cy="643" rx="12" ry="7" transform="rotate(-49 428 643)" fill="#5a1a34"/>
<ellipse cx="451" cy="642" rx="10" ry="7" transform="rotate(-40 451 642)" fill="#5a1a34"/>
<ellipse cx="519" cy="649" rx="12" ry="8" transform="rotate(-54 519 649)" fill="#5a1a34"/>
<ellipse cx="537" cy="642" rx="12" ry="8" transform="rotate(-53 537 642)" fill="#5a1a34"/>
<ellipse cx="562" cy="653" rx="11" ry="7" transform="rotate(-47 562 653)" fill="#5a1a34"/>
<ellipse cx="600" cy="646" rx="11" ry="6" transform="rotate(-39 600 646)" fill="#5a1a34"/>
<ellipse cx="616" cy="654" rx="9" ry="6" transform="rotate(-37 616 654)" fill="#5a1a34"/>
<ellipse cx="647" cy="649" rx="10" ry="6" transform="rotate(-26 647 649)" fill="#5a1a34"/>
<ellipse cx="672" cy="640" rx="13" ry="6" transform="rotate(-48 672 640)" fill="#5a1a34"/>
<ellipse cx="705" cy="644" rx="11" ry="7" transform="rotate(-27 705 644)" fill="#5a1a34"/>
<polygon points="0,0 90,0 110,60 100,150 60,220 0,240" fill="#7e6c7a" fill-opacity="1"/>
<polygon points="150,170 250,120 400,88 550,68 708,58 708,250 600,275 480,270 400,300 300,330 200,330 150,280" fill="#7e6c7a" fill-opacity="1"/>
<ellipse cx="560" cy="462" rx="165" ry="100" transform="rotate(-15 560 462)" fill="#7e6c7a" fill-opacity="1"/>
<polygon points="0,470 120,470 150,520 150,651 0,651" fill="#7e6c7a" fill-opacity="1"/>
<polyline points="150,180 250,128 400,96 550,76 708,66" fill="none" stroke="#6a4858" stroke-width="22" stroke-opacity="0.9" stroke-linecap="round" stroke-linejoin="round"/>
<polyline points="300,322 400,292 480,262 600,267 708,242" fill="none" stroke="#6a4858" stroke-width="22" stroke-opacity="0.9" stroke-linecap="round" stroke-linejoin="round"/>
<polyline points="400,420 480,370 600,350 708,340" fill="none" stroke="#6a4858" stroke-width="22" stroke-opacity="0.8" stroke-linecap="round" stroke-linejoin="round"/>
<polyline points="420,540 560,560 708,520" fill="none" stroke="#6a4858" stroke-width="22" stroke-opacity="0.8" stroke-linecap="round" stroke-linejoin="round"/>
<polyline points="100,10 105,150 60,215" fill="none" stroke="#6a4858" stroke-width="20" stroke-opacity="0.8" stroke-linecap="round" stroke-linejoin="round"/>
<polyline points="0,475 120,475 145,530" fill="none" stroke="#6a4858" stroke-width="20" stroke-opacity="0.8" stroke-linecap="round" stroke-linejoin="round"/>
<polyline points="120,20 261,0" fill="none" stroke="#74ac8c" stroke-width="13" stroke-opacity="0.9" stroke-linecap="round" stroke-linejoin="round"/>
<polyline points="90,126 170,95 241,65" fill="none" stroke="#74ac8c" stroke-width="12" stroke-opacity="0.9" stroke-linecap="round" stroke-linejoin="round"/>
<polyline points="0,221 60,195 126,166" fill="none" stroke="#74ac8c" stroke-width="12" stroke-opacity="0.9" stroke-linecap="round" stroke-linejoin="round"/>
<polyline points="25,282 90,255 151,226" fill="none" stroke="#74ac8c" stroke-width="11" stroke-opacity="0.9" stroke-linecap="round" stroke-linejoin="round"/>
<polyline points="0,456 75,436 151,416" fill="none" stroke="#74ac8c" stroke-width="12" stroke-opacity="0.9" stroke-linecap="round" stroke-linejoin="round"/>
<polyline points="75,386 150,370 226,356" fill="none" stroke="#74ac8c" stroke-width="11" stroke-opacity="0.9" stroke-linecap="round" stroke-linejoin="round"/>
<polyline points="176,381 260,370 352,356" fill="none" stroke="#74ac8c" stroke-width="12" stroke-opacity="0.9" stroke-linecap="round" stroke-linejoin="round"/>
<polyline points="191,537 270,515 357,491" fill="none" stroke="#74ac8c" stroke-width="12" stroke-opacity="0.9" stroke-linecap="round" stroke-linejoin="round"/>
<polyline points="201,476 280,462 357,446" fill="none" stroke="#74ac8c" stroke-width="11" stroke-opacity="0.9" stroke-linecap="round" stroke-linejoin="round"/>
<polyline points="412,346 477,335" fill="none" stroke="#74ac8c" stroke-width="13" stroke-opacity="0.9" stroke-linecap="round" stroke-linejoin="round"/>
<polyline points="352,577 520,568 704,557" fill="none" stroke="#74ac8c" stroke-width="13" stroke-opacity="0.9" stroke-linecap="round" stroke-linejoin="round"/>
<polyline points="352,65 450,40 553,15" fill="none" stroke="#74ac8c" stroke-width="12" stroke-opacity="0.9" stroke-linecap="round" stroke-linejoin="round"/>
<polyline points="400,40 500,20" fill="none" stroke="#74ac8c" stroke-width="10" stroke-opacity="0.8" stroke-linecap="round" stroke-linejoin="round"/>
<polyline points="160,620 250,600 340,580" fill="none" stroke="#74ac8c" stroke-width="11" stroke-opacity="0.8" stroke-linecap="round" stroke-linejoin="round"/>
<polyline points="420,620 560,610 700,600" fill="none" stroke="#74ac8c" stroke-width="11" stroke-opacity="0.8" stroke-linecap="round" stroke-linejoin="round"/>
<polyline points="560,40 650,25 708,15" fill="none" stroke="#74ac8c" stroke-width="10" stroke-opacity="0.8" stroke-linecap="round" stroke-linejoin="round"/>
<ellipse cx="35" cy="65" rx="23" ry="20" fill="#7cbc96" fill-opacity="1"/>
<ellipse cx="35" cy="106" rx="30" ry="20" fill="#7cbc96" fill-opacity="1"/>
<ellipse cx="10" cy="146" rx="20" ry="20" fill="#7cbc96" fill-opacity="0.9"/>
<ellipse cx="262" cy="201" rx="25" ry="20" fill="#7cbc96" fill-opacity="1"/>
<ellipse cx="312" cy="181" rx="20" ry="20" fill="#7cbc96" fill-opacity="1"/>
<ellipse cx="347" cy="221" rx="15" ry="20" fill="#7cbc96" fill-opacity="1"/>
<ellipse cx="246" cy="252" rx="25" ry="18" fill="#7cbc96" fill-opacity="1"/>
<ellipse cx="307" cy="272" rx="18" ry="18" fill="#7cbc96" fill-opacity="1"/>
<ellipse cx="241" cy="287" rx="23" ry="15" fill="#7cbc96" fill-opacity="1"/>
<ellipse cx="292" cy="307" rx="15" ry="13" fill="#7cbc96" fill-opacity="0.9"/>
<ellipse cx="417" cy="151" rx="20" ry="18" fill="#7cbc96" fill-opacity="1"/>
<ellipse cx="472" cy="146" rx="13" ry="13" fill="#7cbc96" fill-opacity="1"/>
<ellipse cx="503" cy="161" rx="20" ry="18" fill="#7cbc96" fill-opacity="1"/>
<ellipse cx="508" cy="201" rx="15" ry="10" fill="#7cbc96" fill-opacity="0.9"/>
<ellipse cx="684" cy="131" rx="15" ry="15" fill="#7cbc96" fill-opacity="1"/>
<ellipse cx="633" cy="141" rx="10" ry="10" fill="#7cbc96" fill-opacity="0.8"/>
<ellipse cx="390" cy="205" rx="40" ry="35" fill="#7cbc96" fill-opacity="1"/>
<ellipse cx="25" cy="537" rx="20" ry="20" fill="#7cbc96" fill-opacity="1"/>
<ellipse cx="75" cy="567" rx="18" ry="15" fill="#7cbc96" fill-opacity="1"/>
<ellipse cx="60" cy="607" rx="25" ry="23" fill="#7cbc96" fill-opacity="1"/>
<ellipse cx="111" cy="597" rx="20" ry="18" fill="#7cbc96" fill-opacity="1"/>
<ellipse cx="15" cy="587" rx="15" ry="15" fill="#7cbc96" fill-opacity="0.9"/>
<ellipse cx="121" cy="541" rx="15" ry="15" fill="#7cbc96" fill-opacity="0.9"/>
<ellipse cx="628" cy="443" rx="50" ry="30" transform="rotate(-20 628 443)" fill="#7cbc96" fill-opacity="1"/>
<ellipse cx="528" cy="413" rx="23" ry="25" fill="#7cbc96" fill-opacity="1"/>
<ellipse cx="508" cy="456" rx="18" ry="15" fill="#7cbc96" fill-opacity="1"/>
<ellipse cx="535" cy="476" rx="15" ry="13" fill="#7cbc96" fill-opacity="0.9"/>
<ellipse cx="490" cy="504" rx="23" ry="18" fill="#7cbc96" fill-opacity="1"/>
<ellipse cx="573" cy="426" rx="13" ry="13" fill="#7cbc96" fill-opacity="0.8"/>
<ellipse cx="573" cy="481" rx="13" ry="13" fill="#7cbc96" fill-opacity="0.8"/>
<ellipse cx="623" cy="383" rx="15" ry="13" fill="#7cbc96" fill-opacity="1"/>
<ellipse cx="668" cy="373" rx="13" ry="13" fill="#7cbc96" fill-opacity="1"/>
</g></svg>
<div style="position:absolute;left:8px;top:6px;width:693px;height:2px;background:#c6c6c6;"></div>
<div style="position:absolute;left:8px;top:26px;width:693px;height:1px;background:#8a8a8a;"></div>
<div style="position:absolute;left:8px;top:156px;width:693px;height:1px;background:#8a8a8a;"></div>
<div style="position:absolute;left:8px;top:160px;width:693px;height:1px;background:#8a8a8a;"></div>
<div style="position:absolute;left:8px;top:289px;width:693px;height:1px;background:#8a8a8a;"></div>
<div style="position:absolute;left:8px;top:293px;width:693px;height:1px;background:#8a8a8a;"></div>
<div style="position:absolute;left:8px;top:423px;width:693px;height:1px;background:#8a8a8a;"></div>
<div style="position:absolute;left:8px;top:427px;width:693px;height:1px;background:#8a8a8a;"></div>
<div style="position:absolute;left:8px;top:557px;width:693px;height:1px;background:#8a8a8a;"></div>
<div style="position:absolute;left:8px;top:561px;width:693px;height:1px;background:#8a8a8a;"></div>
<div style="position:absolute;left:8px;top:691px;width:693px;height:1px;background:#8a8a8a;"></div>
<div style="position:absolute;left:8px;top:6px;width:1px;height:151px;background:#8a8a8a;"></div>
<div style="position:absolute;left:8px;top:160px;width:1px;height:130px;background:#8a8a8a;"></div>
<div style="position:absolute;left:8px;top:293px;width:1px;height:131px;background:#8a8a8a;"></div>
<div style="position:absolute;left:8px;top:427px;width:1px;height:131px;background:#8a8a8a;"></div>
<div style="position:absolute;left:8px;top:561px;width:1px;height:131px;background:#8a8a8a;"></div>
<div style="position:absolute;left:83px;top:6px;width:1px;height:151px;background:#8a8a8a;"></div>
<div style="position:absolute;left:83px;top:160px;width:1px;height:130px;background:#8a8a8a;"></div>
<div style="position:absolute;left:83px;top:293px;width:1px;height:131px;background:#8a8a8a;"></div>
<div style="position:absolute;left:83px;top:427px;width:1px;height:131px;background:#8a8a8a;"></div>
<div style="position:absolute;left:83px;top:561px;width:1px;height:131px;background:#8a8a8a;"></div>
<div style="position:absolute;left:237px;top:6px;width:1px;height:151px;background:#8a8a8a;"></div>
<div style="position:absolute;left:237px;top:160px;width:1px;height:130px;background:#8a8a8a;"></div>
<div style="position:absolute;left:237px;top:293px;width:1px;height:131px;background:#8a8a8a;"></div>
<div style="position:absolute;left:237px;top:427px;width:1px;height:131px;background:#8a8a8a;"></div>
<div style="position:absolute;left:237px;top:561px;width:1px;height:131px;background:#8a8a8a;"></div>
<div style="position:absolute;left:391px;top:6px;width:1px;height:151px;background:#8a8a8a;"></div>
<div style="position:absolute;left:391px;top:160px;width:1px;height:130px;background:#8a8a8a;"></div>
<div style="position:absolute;left:391px;top:293px;width:1px;height:131px;background:#8a8a8a;"></div>
<div style="position:absolute;left:391px;top:427px;width:1px;height:131px;background:#8a8a8a;"></div>
<div style="position:absolute;left:391px;top:561px;width:1px;height:131px;background:#8a8a8a;"></div>
<div style="position:absolute;left:546px;top:6px;width:1px;height:151px;background:#8a8a8a;"></div>
<div style="position:absolute;left:546px;top:160px;width:1px;height:130px;background:#8a8a8a;"></div>
<div style="position:absolute;left:546px;top:293px;width:1px;height:131px;background:#8a8a8a;"></div>
<div style="position:absolute;left:546px;top:427px;width:1px;height:131px;background:#8a8a8a;"></div>
<div style="position:absolute;left:546px;top:561px;width:1px;height:131px;background:#8a8a8a;"></div>
<div style="position:absolute;left:700px;top:6px;width:1px;height:151px;background:#8a8a8a;"></div>
<div style="position:absolute;left:700px;top:160px;width:1px;height:130px;background:#8a8a8a;"></div>
<div style="position:absolute;left:700px;top:293px;width:1px;height:131px;background:#8a8a8a;"></div>
<div style="position:absolute;left:700px;top:427px;width:1px;height:131px;background:#8a8a8a;"></div>
<div style="position:absolute;left:700px;top:561px;width:1px;height:131px;background:#8a8a8a;"></div>
<div class="w" style="left:26.95px;top:7.90px;transform:scaleX(1.0592)">Class</div>
<div class="w" style="left:138.35px;top:7.60px;transform:scaleX(0.9987)">Before</div>
<div class="w" style="left:276.69px;top:7.80px;transform:scaleX(1.0969)">Histogram</div>
<div class="w" style="left:450.74px;top:7.60px;transform:scaleX(1.0351)">After</div>
<div class="w" style="left:585.59px;top:7.80px;transform:scaleX(1.0910)">Histogram</div>
<div class="w" style="left:18.36px;top:137.30px;transform:scaleX(1.0708)">lungaca</div>
<div class="w" style="left:25.03px;top:270.90px;transform:scaleX(1.1182)">lungn</div>
<div class="w" style="left:19.36px;top:404.90px;transform:scaleX(1.0672)">lungscc</div>
<div class="w" style="left:21.90px;top:538.90px;transform:scaleX(1.0612)">colonn</div>
<div class="w" style="left:19.11px;top:672.60px;transform:scaleX(1.0361)">colonca</div>
</body></html>
